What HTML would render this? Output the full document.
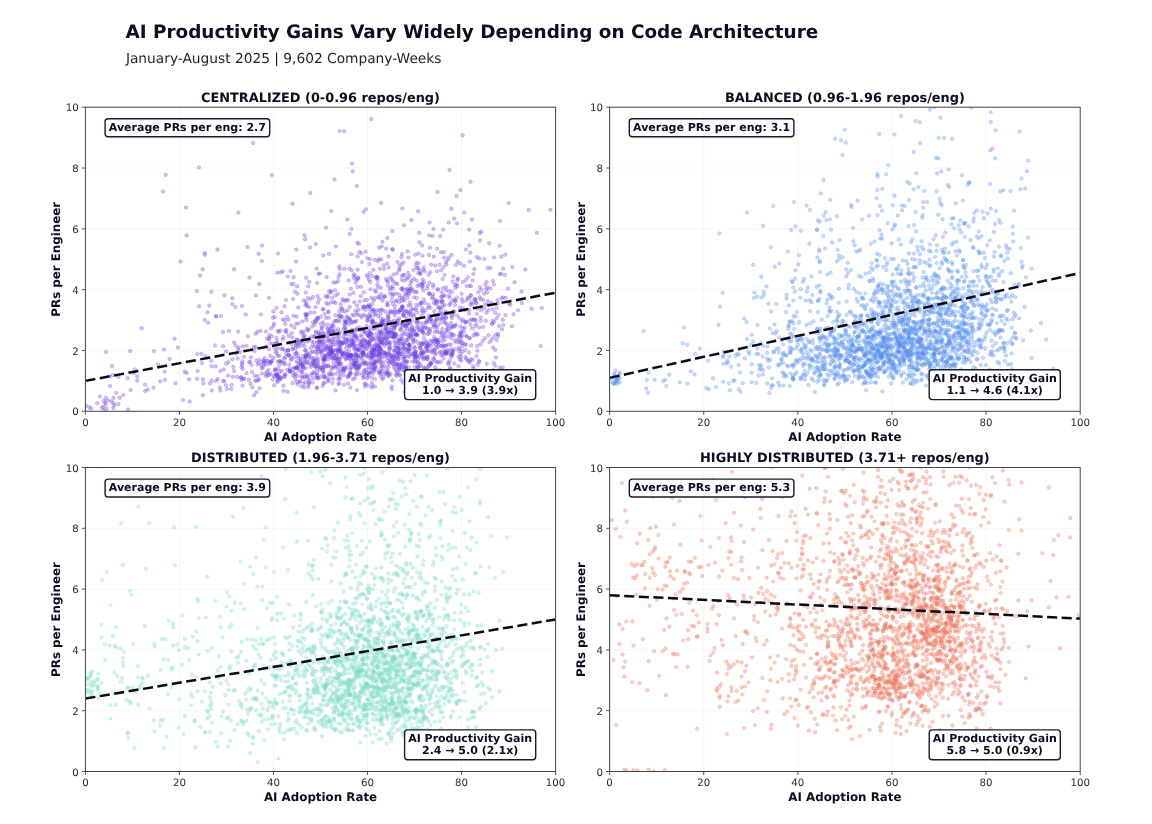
<!DOCTYPE html>
<html lang="en"><head><meta charset="utf-8"><title>AI Productivity Gains Vary Widely Depending on Code Architecture</title>
<style>html,body{margin:0;padding:0;background:#fff}body{width:1152px;height:824px;overflow:hidden}svg{display:block;will-change:transform}text{font-family:"DejaVu Sans","Liberation Sans",sans-serif}.b{font-weight:bold}svg text{text-rendering:geometricPrecision}</style></head><body>
<svg width="1152" height="824" viewBox="0 0 1152 824">
<rect width="1152" height="824" fill="#fff"/>
<defs>
<marker id="m0" markerUnits="userSpaceOnUse" markerWidth="8" markerHeight="8" refX="4" refY="4" overflow="visible"><circle cx="4" cy="4" r="1.75" fill="#6e3ee0" fill-opacity=".3" stroke="#6e3ee0" stroke-opacity=".3" stroke-width=".85"/></marker>
<clipPath id="c0"><rect x="85.40" y="107.20" width="470.20" height="304.10"/></clipPath>
<marker id="m1" markerUnits="userSpaceOnUse" markerWidth="8" markerHeight="8" refX="4" refY="4" overflow="visible"><circle cx="4" cy="4" r="1.75" fill="#528fec" fill-opacity=".3" stroke="#528fec" stroke-opacity=".3" stroke-width=".85"/></marker>
<clipPath id="c1"><rect x="609.60" y="107.20" width="470.60" height="304.10"/></clipPath>
<marker id="m2" markerUnits="userSpaceOnUse" markerWidth="8" markerHeight="8" refX="4" refY="4" overflow="visible"><circle cx="4" cy="4" r="1.75" fill="#78dcc6" fill-opacity=".3" stroke="#78dcc6" stroke-opacity=".3" stroke-width=".85"/></marker>
<clipPath id="c2"><rect x="85.40" y="467.50" width="470.20" height="304.00"/></clipPath>
<marker id="m3" markerUnits="userSpaceOnUse" markerWidth="8" markerHeight="8" refX="4" refY="4" overflow="visible"><circle cx="4" cy="4" r="1.75" fill="#ea7155" fill-opacity=".3" stroke="#ea7155" stroke-opacity=".3" stroke-width=".85"/></marker>
<clipPath id="c3"><rect x="609.60" y="467.50" width="470.60" height="304.00"/></clipPath>
</defs>
<text class="b" x="125.5" y="37.9" font-size="18.40" fill="#0c0c22">AI Productivity Gains Vary Widely Depending on Code Architecture</text>
<text x="125.9" y="62.65" font-size="13.75" fill="#1d1d30">January-August 2025 | 9,602 Company-Weeks</text>
<g>
<path d="M179.44 107.20V411.30M273.48 107.20V411.30M367.52 107.20V411.30M461.56 107.20V411.30M85.40 350.48H555.60M85.40 289.66H555.60M85.40 228.84H555.60M85.40 168.02H555.60" stroke="#b0b0b0" stroke-opacity=".13" stroke-width=".9" fill="none"/>
<g clip-path="url(#c0)"><polyline points="443.6,347.5 491.5,339.7 375.9,344.3 387.8,316.4 350.0,355.2 356.1,360.7 360.7,296.0 287.7,276.6 361.3,341.6 338.5,364.3 550.4,209.8 255.5,333.8 418.9,356.5 393.6,332.8 362.4,352.8 388.3,364.0 379.3,338.6 403.2,315.1 390.2,327.7 493.2,370.1 470.8,295.6 339.5,321.5 113.5,397.8 410.9,336.2 394.8,315.4 417.3,312.6 291.8,344.0 405.0,326.0 463.9,265.7 356.2,354.3 186.0,207.6 396.9,371.6 476.6,334.7 386.5,353.2 430.0,332.3 378.4,336.4 505.4,315.0 224.1,381.5 312.1,373.5 85.9,405.9 338.1,281.1 324.1,376.9 372.0,335.2 356.1,279.5 411.8,320.4 436.9,339.8 394.2,367.9 328.6,365.7 273.0,317.8 369.2,343.9 288.3,350.0 344.0,370.9 392.4,231.0 457.1,286.3 359.6,365.8 404.7,367.3 332.5,332.3 475.9,320.1 422.9,283.6 335.5,295.5 370.2,282.1 437.1,362.1 324.0,359.5 267.0,338.7 302.2,377.8 437.3,376.5 321.0,331.7 425.4,357.6 278.1,369.0 442.3,329.0 290.8,371.8 414.8,360.8 106.0,352.0 342.0,353.9 469.5,310.1 373.8,328.1 339.3,383.1 402.2,338.2 414.2,351.4 314.4,346.6 263.7,362.7 296.2,345.5 316.1,333.0 420.8,381.8 165.6,174.9 316.9,349.8 394.1,350.4 202.9,379.3 431.0,363.5 380.4,340.4 426.9,346.1 409.0,367.7 304.8,376.6 432.5,349.4 307.3,341.6 441.1,270.3 351.4,343.8 319.9,343.0 384.5,337.5 420.1,364.1 365.5,349.2 433.8,325.0 303.6,331.8 336.0,365.9 320.1,341.8 377.8,346.1 421.3,303.1 446.1,345.8 445.9,318.1 328.6,380.2 412.7,289.3 316.9,357.9 403.2,344.4 455.3,287.6 473.2,366.4 231.7,384.9 417.6,362.3 427.1,351.1 379.8,332.1 428.7,293.5 295.9,344.9 379.6,347.2 377.8,280.2 165.0,379.8 410.6,305.2 377.3,310.6 392.7,249.7 404.9,334.5 355.4,329.8 202.6,269.3 329.2,291.3 277.3,272.7 216.1,316.3 397.9,364.1 364.8,383.8 370.0,306.3 416.4,262.8 368.8,331.2 430.3,328.8 426.6,321.5 415.5,334.9 364.2,300.2 341.0,344.8 423.9,357.7 283.6,390.8 433.2,341.1 366.8,363.2 304.5,235.2 246.5,345.8 460.4,353.8 427.4,343.7 355.4,364.7 331.3,211.1 373.7,300.4 473.5,273.9 421.1,352.6 497.9,303.6 391.9,322.0 336.0,344.8 362.1,354.5 410.6,348.6 441.7,345.8 379.4,359.8 465.3,376.7 306.7,315.3 372.8,338.9 487.6,287.7 346.8,339.0 271.4,336.2 327.7,359.4 430.5,307.8 440.0,332.5 449.5,170.1 366.9,373.0 435.6,303.6 420.2,273.4 469.0,313.5 234.2,371.0 346.8,353.9 189.7,401.5 250.5,383.7 417.0,326.9 335.9,373.8 288.6,335.8 318.5,349.2 357.5,279.8 324.0,334.6 345.8,340.8 307.8,354.3 356.0,358.2 303.1,356.0 441.4,336.5 220.4,370.9 381.4,309.5 308.2,286.2 466.6,286.0 339.5,131.1 445.7,332.3 395.8,283.2 484.2,308.5 408.6,294.0 340.1,345.2 393.1,304.1 381.3,349.7 345.5,321.4 276.6,374.5 355.2,353.6 355.2,374.4 399.1,302.0 475.2,299.9 502.8,319.8 513.5,314.3 392.0,325.2 404.6,331.2 241.1,377.3 269.0,297.8 290.8,359.8 409.6,329.0 294.8,291.7 493.8,375.8 370.4,356.8 333.9,301.9 385.6,353.5 393.3,354.9 403.5,262.6 415.3,254.7 402.0,323.4 371.3,356.3 331.4,344.7 501.6,298.6 306.3,355.3 434.2,358.4 324.8,356.2 494.0,284.4 394.5,334.0 448.4,344.4 232.5,304.1 364.7,345.8 351.5,270.2 325.1,355.7 372.1,303.9 437.6,289.2 339.6,350.5 332.9,358.5 297.0,382.2 354.4,321.6 378.0,316.0 225.9,385.3 242.1,364.9 493.1,347.4 397.7,348.1 339.1,346.0 398.7,359.4 407.1,377.4 385.3,311.5 366.6,326.0 358.4,355.8 298.1,358.1 327.3,297.4 368.2,344.6 397.6,347.8 384.8,345.8 340.2,378.7 479.7,297.3 123.3,394.9 197.6,371.1 338.7,339.8 332.3,374.3 336.6,342.6 334.5,333.5 306.5,320.2 304.2,340.1 349.7,234.1 471.3,302.6 410.1,376.0 465.5,321.7 327.6,347.9 330.9,350.0 291.2,284.1 264.7,358.1 340.1,349.1 232.7,376.8 411.0,333.8 420.3,348.1 395.9,347.6 432.0,298.2 353.7,347.9 436.3,353.2 233.3,367.0 403.7,352.6 163.9,349.5 357.6,256.6 302.5,366.7 454.8,349.2 483.4,300.0 366.3,369.8 208.1,322.8 353.7,277.8 492.7,309.3 271.9,175.1 328.5,352.3 447.1,313.5 457.7,261.6 428.8,315.4 337.6,349.6 341.1,363.4 480.9,321.1 305.1,361.3 373.4,363.8 492.0,323.8 232.6,359.2 393.2,281.4 333.1,323.7 107.9,400.3 477.8,334.2 421.6,328.0 430.0,346.1 402.0,366.8 455.8,264.9 357.6,269.7 317.1,375.7 473.5,368.4 296.1,323.8 470.7,295.4 423.1,343.8 394.6,327.1 397.2,283.9 255.7,347.2 380.1,353.7 365.4,383.9 288.9,355.2 371.0,361.5 404.5,344.4 318.2,346.4 418.1,211.3 408.8,349.0 398.8,340.1 371.4,352.5 399.4,364.7 443.9,252.1 277.1,341.0 370.0,313.4 401.6,327.4 242.9,368.9 420.7,366.1 289.9,370.5 350.3,320.1 423.5,290.6 310.7,352.8 363.7,306.7 330.9,370.8 361.6,317.4 345.4,333.7 469.3,338.1 502.9,297.5 410.1,285.8 446.6,329.4 346.8,355.1 426.6,321.5 306.8,361.8 215.7,366.4 425.8,346.1 453.0,314.2 363.6,306.8 474.3,269.1 284.5,362.4 269.1,349.2 537.0,232.7 481.0,310.5 409.3,331.8 310.3,312.6 211.8,380.6 476.5,302.9 308.8,329.6 400.0,341.2 290.9,356.9 215.0,345.5 393.2,355.9 296.6,316.6 369.3,343.8 329.6,330.1 446.9,353.5 479.8,287.3 470.5,324.8 330.8,328.3 412.0,327.8 392.1,333.1 354.8,275.7 491.5,302.8 267.9,375.0 365.1,362.5 423.3,310.9 376.6,360.5 354.0,364.1 339.2,341.8 398.1,352.4 320.7,346.7 277.2,376.0 241.9,306.0 410.0,335.7 405.7,368.2 381.4,259.4 398.7,347.8 370.4,341.2 431.2,381.6 422.0,287.2 101.9,407.8 381.9,332.5 418.2,362.4 378.2,297.6 416.0,265.7 284.9,364.5 348.1,339.6 337.1,334.3 387.1,357.9 370.4,316.3 394.5,357.0 395.4,370.0 384.4,324.5 377.9,287.2 373.4,350.2 344.1,131.3 365.6,340.2 426.0,368.8 310.0,247.5 392.2,293.7 197.0,378.8 354.3,346.0 422.0,353.8 312.5,382.6 359.3,344.4 414.7,354.5 184.6,371.7 352.7,171.4 302.6,372.3 174.6,338.7 385.2,296.4 397.2,344.3 415.4,334.6 365.5,342.4 391.7,389.1 371.8,387.5 400.8,329.1 469.8,320.8 364.5,343.7 306.3,304.0 324.7,360.3 396.1,300.8 349.4,268.4 365.9,209.3 284.6,306.2 331.2,354.1 328.0,295.6 383.3,339.4 363.2,355.4 186.7,235.6 324.5,336.3 387.8,282.1 226.1,351.4 277.9,253.5 308.0,298.0 462.1,321.3 477.6,364.8 334.5,179.4 459.3,341.0 362.6,328.9 381.8,355.2 399.5,298.1 321.6,355.9 422.7,343.5 323.5,359.1 371.7,357.9 342.3,352.1 427.8,356.5 444.7,354.0 277.8,361.5 305.2,357.3 396.1,301.3 416.6,334.6 358.3,366.1 325.5,355.0 437.9,325.6 359.4,373.4 373.8,310.0 442.4,314.0 344.4,324.3 348.7,280.5 134.9,369.4 259.6,388.2 360.9,344.8 413.2,374.8 298.4,365.8 421.7,349.9 407.8,277.7 402.0,306.9 377.0,361.3 311.7,341.6 389.1,344.2 404.5,275.1 465.6,322.7 413.3,338.7 460.2,333.5 128.1,409.4 456.7,195.9 307.3,306.0 413.1,353.9 301.1,331.4 317.1,375.2 274.0,323.8 373.4,358.4 360.7,335.0 316.0,361.1 388.8,267.4 412.8,291.7 343.1,355.5 461.7,293.7 379.6,342.3 326.2,349.9 421.8,331.8 394.7,359.3 454.1,335.2 442.7,278.9 399.3,318.2 273.5,358.0 427.8,285.8 331.8,325.8 294.6,356.8 298.5,323.4 398.0,372.9 454.3,326.8 311.4,357.5 469.8,338.2 382.3,374.0 313.3,358.3 384.2,268.9 487.1,292.2 446.3,290.5 377.5,356.3 454.0,311.3 427.2,288.6 308.3,355.5 324.6,377.8 371.4,353.5 371.9,377.8 270.6,362.2 274.9,348.8 485.8,320.8 301.5,364.5 412.3,331.0 328.9,373.5 407.6,251.6 465.1,349.9 540.6,345.9 285.1,357.8 313.8,360.6 381.3,366.0 346.0,348.0 428.3,333.1 180.5,261.5 391.1,362.3 309.1,307.3 221.0,315.9 402.9,382.5 394.1,365.6 314.3,312.6 430.4,272.2 342.6,299.0 366.4,355.4 382.2,339.5 521.5,291.5 421.3,315.7 328.6,333.2 422.7,286.2 145.0,384.7 380.6,331.5 403.8,310.8 390.1,347.0 370.1,339.2 508.9,303.4 427.9,347.5 292.1,359.1 451.6,326.8 435.3,321.0 296.4,361.6 295.4,379.6 361.9,262.0 318.2,378.2 351.5,339.8 357.0,390.2 495.2,349.7 417.7,321.8 496.6,340.0 428.3,345.1 413.5,341.0 397.5,262.0 389.2,362.3 353.6,360.5 441.8,296.6 507.9,288.6 337.2,363.1 412.2,382.4 422.5,255.8 310.7,348.2 355.2,350.0 332.1,352.7 278.3,376.6 505.4,297.8 331.2,374.5 275.8,343.3 317.8,352.1 307.0,328.7 270.2,343.3 339.6,274.2 371.9,352.0 415.1,309.7 293.0,299.1 395.3,325.2 409.2,345.1 186.6,373.0 349.6,318.3 278.8,331.9 470.9,285.9 475.3,326.3 352.6,357.9 393.0,288.8 444.7,314.9 386.4,339.5 332.4,342.2 451.6,255.0 318.6,332.5 382.7,329.2 472.5,359.8 325.3,376.6 309.1,281.7 373.2,339.8 476.8,308.4 344.1,334.2 388.0,285.7 439.6,312.9 137.3,376.3 235.7,345.4 444.0,295.4 390.0,355.5 384.5,333.5 313.5,378.2 276.1,374.3 335.9,246.6 430.7,318.9 322.7,370.1 499.8,274.2 381.7,246.4 377.4,329.1 446.7,375.9 344.1,369.4 408.1,272.8 317.3,317.6 400.1,339.3 408.5,351.7 399.0,368.2 332.0,352.4 387.2,263.6 376.2,367.3 379.2,339.1 303.7,300.5 316.7,387.5 419.7,270.6 457.1,315.6 427.8,372.0 364.2,363.8 340.5,341.7 345.2,311.5 266.9,372.0 334.3,358.2 317.8,318.9 314.3,324.7 503.3,325.0 118.6,377.0 417.1,366.4 363.3,378.1 344.8,320.3 380.9,323.7 479.1,258.5 356.8,186.0 367.6,319.9 484.2,293.6 342.1,343.2 336.0,282.4 362.5,353.0 394.5,341.3 466.7,336.2 322.1,351.6 349.2,319.9 368.0,385.6 390.7,330.0 414.0,316.3 405.8,362.7 332.7,341.6 147.7,389.4 424.0,352.6 387.9,305.3 403.2,343.6 375.9,291.9 386.2,248.4 337.9,293.7 380.9,287.7 374.3,315.0 384.2,343.9 275.7,369.6 281.5,348.9 369.8,306.2 433.6,302.7 175.5,383.2 398.0,350.6 338.8,315.9 369.4,264.1 370.2,368.2 321.4,352.6 446.9,350.4 365.0,332.3 376.9,351.6 202.0,363.0 297.1,286.3 416.6,323.1 451.3,208.7 106.7,408.7 415.2,359.0 399.2,370.1 409.6,378.5 403.8,359.9 405.5,349.5 377.3,347.4 317.0,342.7 286.0,300.1 407.0,289.0 364.8,386.7 350.9,354.5 274.2,385.2 341.9,353.5 373.9,350.3 368.5,376.4 334.8,339.5 419.2,232.8 427.1,358.8 303.2,337.9 382.4,324.7 111.9,366.0 457.4,279.9 372.5,365.2 292.1,337.5 399.7,354.1 317.2,388.0 372.4,385.6 426.1,323.1 298.4,339.9 351.8,355.5 267.8,361.2 387.4,238.0 436.9,271.3 475.8,302.7 343.5,329.3 404.9,356.9 242.4,361.2 418.7,263.3 403.1,290.6 374.4,364.3 441.8,302.2 416.7,280.7 409.7,344.4 380.7,341.8 304.1,335.2 407.2,323.8 444.6,274.9 479.4,327.4 347.0,345.0 381.2,362.4 348.9,356.2 387.6,372.7 373.7,328.9 307.1,363.4 364.6,361.2 329.2,340.3 400.1,354.2 451.0,322.9 338.6,276.9 409.7,346.1 418.4,268.0 423.3,312.9 354.0,341.2 291.8,333.1 388.4,318.5 440.0,236.2 309.4,338.4 407.6,324.1 427.3,328.7 451.9,315.9 346.5,367.1 397.9,359.1 296.5,342.5 390.7,374.2 353.3,343.7 375.9,355.5 287.3,369.7 400.2,330.1 326.1,227.6 445.5,345.4 394.1,328.6 385.8,329.9 390.6,359.6 466.2,358.8 447.8,259.9 293.2,369.0 335.2,358.4 280.8,377.7 384.5,339.8 312.8,345.3 274.9,370.7 349.0,357.7 433.2,344.3 356.6,356.5 422.9,326.7 434.2,336.9 242.8,346.3 354.6,336.1 295.7,348.4 352.5,314.8 314.2,366.0 220.5,390.6 272.0,361.2 254.7,375.7 309.1,382.9 477.0,256.9 282.7,362.9 420.4,273.8 361.4,347.1 127.7,378.1 486.2,288.9 384.5,353.0 394.3,312.9 439.6,379.8 402.0,307.2 501.0,273.6 504.9,275.0 449.1,295.4 405.0,361.7 105.9,397.7 335.4,302.9 382.6,370.4 346.8,321.8 372.4,321.2 279.3,365.2 423.1,323.4 354.9,378.3 339.7,360.9 326.0,318.1 231.3,389.0 461.0,356.8 388.8,337.2 368.0,277.1 318.2,341.5 371.2,333.0 380.8,318.3 409.7,302.4 415.4,340.3 388.7,322.1 320.7,335.1 387.3,320.9 406.9,328.5 435.0,366.9 443.2,345.4 153.9,351.1 458.5,356.7 314.5,336.5 297.2,375.9 402.5,325.1 383.6,361.9 464.8,327.8 401.8,276.1 316.8,347.3 307.9,340.0 457.6,387.6 330.2,332.2 248.9,379.7 305.4,305.3 348.0,383.5 404.8,324.8 348.8,374.8 390.3,343.3 373.4,269.8 404.0,347.4 411.3,220.0 330.8,356.4 265.8,331.6 376.6,362.5 417.3,335.3 409.0,372.3 305.1,350.4 328.7,353.4 97.2,403.3 305.4,313.9 429.5,344.2 110.1,376.5 433.1,286.7 399.3,294.8 403.6,348.3 394.9,309.8 368.3,342.7 323.3,371.4 361.9,342.1 363.6,339.5 469.8,261.4 268.3,369.9 376.1,277.3 269.3,363.9 398.0,312.3 329.0,254.0 103.7,400.7 361.5,358.9 414.3,330.4 435.2,265.4 333.0,344.9 351.4,229.0 494.0,257.4 325.3,358.6 407.4,334.3 105.6,404.4 454.9,284.8 541.8,308.0 399.9,356.4 472.1,328.6 351.1,360.0 279.4,356.1 351.0,336.5 387.6,332.1 461.1,332.7 429.5,222.5 371.3,297.9 447.7,328.6 412.4,361.4 436.2,369.4 469.6,285.9 362.6,308.4 383.8,265.4 387.9,314.7 422.1,357.4 428.8,365.5 422.1,245.6 415.9,352.7 264.7,362.1 355.3,362.5 403.3,299.0 465.3,373.6 356.7,371.6 394.6,326.6 379.8,359.8 305.8,292.6 417.4,334.7 406.6,311.7 339.8,351.1 453.5,311.9 369.6,332.9 379.6,351.8 184.3,123.6 424.0,338.0 346.9,299.4 420.8,303.4 351.2,355.4 351.9,340.8 323.1,255.5 441.1,351.6 421.2,302.5 356.7,337.1 370.4,289.3 374.9,368.7 390.2,277.7 256.1,381.0 400.1,366.6 400.2,350.0 370.7,372.5 288.1,355.2 475.7,299.6 528.6,209.9 301.4,386.4 498.2,334.1 328.3,332.2 401.2,288.9 391.3,312.2 315.7,307.1 443.7,376.2 321.6,327.9 453.3,276.4 259.0,359.8 438.0,342.4 401.3,369.6 369.7,331.1 440.8,361.7 319.2,334.9 301.7,333.3 130.3,351.0 487.8,301.0 406.6,279.0 370.0,327.8 372.7,322.3 413.1,354.7 462.6,301.7 451.7,335.5 318.5,273.9 433.8,256.6 357.6,362.9 311.4,365.0 406.5,310.8 393.7,333.5 257.5,364.2 490.4,288.6 423.3,353.3 285.4,374.6 269.0,338.0 104.3,410.5 320.7,316.8 397.4,364.5 450.9,348.7 408.7,290.3 496.6,318.2 318.0,378.1 415.2,362.3 469.1,298.4 381.2,368.9 207.6,312.3 394.4,350.5 412.6,327.0 328.8,317.7 389.5,348.3 432.8,296.7 379.1,310.3 440.9,252.3 353.5,292.8 281.7,370.8 371.9,382.4 197.2,354.1 313.0,362.5 263.7,360.2 438.0,347.4 177.9,347.5 366.8,356.7 437.0,301.5 297.6,384.3 324.8,314.1 379.5,354.1 223.9,369.4 333.3,362.4 308.3,387.1 358.3,367.2 359.7,301.6 417.8,366.9 380.4,313.8 331.0,302.4 416.6,292.2 478.9,360.8 372.4,309.3 269.1,339.2 471.2,345.3 465.3,309.9 369.6,333.8 288.2,350.6 377.8,261.0 321.7,342.6 277.5,381.9 315.5,322.2 346.1,358.1 402.2,323.4 333.6,337.2 261.8,367.9 357.5,287.1 429.5,294.0 374.6,349.9 340.1,374.6 417.9,358.8 348.0,300.6 280.2,377.2 310.6,367.1 441.1,354.9 387.8,333.2 508.6,203.1 375.5,366.2 260.9,314.5 306.1,277.8 343.7,375.3 434.6,351.1 362.5,350.9 333.4,282.5 349.0,350.4 346.5,357.9 350.1,346.2 480.7,317.6 199.2,306.3 483.2,326.9 437.1,248.8 452.1,383.2 327.6,328.8 408.0,312.7 119.6,397.7 338.3,370.7 114.8,405.0 244.3,378.7 445.9,287.2 338.1,341.9 409.2,355.1 391.4,332.0 368.9,352.7 410.8,282.7 445.0,322.7 446.3,264.5 354.0,364.9 364.4,373.5 326.8,356.2 428.6,274.8 328.2,366.0 406.9,289.5 356.5,320.7 423.1,332.4 249.9,361.8 493.7,337.2 423.9,341.9 392.2,362.7 456.6,284.6 452.7,281.5 389.1,353.4 409.6,291.0 247.6,246.9 305.7,350.1 382.8,343.1 305.8,314.8 453.0,312.0 428.1,307.6 345.5,342.4 327.7,328.6 364.0,340.2 289.9,368.4 401.4,264.2 408.4,374.3 289.5,371.5 338.2,329.2 419.8,345.6 359.1,330.0 455.1,325.8 261.2,365.1 460.2,349.1 455.0,305.1 254.5,351.1 333.3,350.9 342.1,343.0 370.4,317.0 298.3,356.0 398.4,324.0 277.6,331.0 350.9,288.6 278.4,378.6 314.3,336.6 470.0,362.6 372.7,338.1 315.3,363.3 299.8,381.6 296.6,352.9 286.4,332.2 381.1,202.9 371.7,334.1 345.3,328.0 277.1,380.9 417.1,369.7 411.8,338.9 416.8,298.1 330.1,347.4 449.4,304.9 342.2,356.9 435.3,361.3 444.0,257.5 372.9,356.6 290.5,270.9 409.2,345.1 99.9,396.4 331.3,367.4 296.6,339.5 371.5,323.9 438.2,307.4 487.5,268.1 329.2,357.1 424.6,327.3 375.1,378.9 323.8,344.3 300.7,345.8 295.3,353.5 439.7,370.1 446.4,353.5 348.2,355.6 266.7,346.5 361.5,357.8 431.3,352.1 210.0,383.4 353.9,337.7 282.7,319.4 380.0,268.7 326.1,345.9 393.8,337.4 341.0,316.3 297.3,293.7 374.1,348.4 300.0,381.4 414.4,379.5 305.9,301.6 395.0,336.2 424.1,282.1 428.7,304.9 368.0,335.2 422.7,279.6 341.0,308.3 499.6,367.8 320.8,323.8 384.1,296.2 379.1,247.8 361.9,330.0 375.0,386.6 347.6,317.7 427.7,368.0 395.5,333.8 89.4,407.1 358.1,277.9 416.4,321.7 390.5,311.0 320.1,367.4 284.2,376.3 305.8,317.4 438.3,314.9 389.9,332.8 443.5,267.2 445.3,353.8 393.7,336.2 446.0,262.0 365.7,315.9 411.2,309.4 392.7,364.0 357.3,243.0 391.8,279.2 406.6,361.0 298.8,343.6 319.3,341.9 342.1,353.8 339.5,315.3 300.3,362.9 339.4,311.4 429.6,318.7 323.6,383.5 394.7,346.1 324.6,348.8 409.5,322.5 391.4,336.6 422.6,330.5 392.2,357.1 399.7,268.7 488.2,304.3 358.3,277.7 448.2,362.5 416.3,305.0 297.1,340.7 427.7,334.2 422.9,351.9 223.0,346.2 315.4,359.7 285.0,374.4 410.0,312.0 312.6,352.0 325.7,296.3 386.1,328.2 413.4,270.0 450.9,344.5 442.4,341.1 351.7,355.4 448.4,377.4 434.9,314.8 441.4,345.9 277.4,375.6 355.6,336.4 223.3,380.8 436.5,319.3 480.7,299.4 292.7,349.4 390.1,293.5 444.3,321.8 329.6,348.9 293.3,284.0 445.5,311.5 359.3,365.3 226.1,363.8 355.9,355.3 160.3,381.3 394.5,360.4 339.4,266.3 336.9,361.4 316.7,366.4 351.9,344.5 348.2,376.7 382.5,300.7 319.2,334.4 365.7,333.5 449.3,297.5 396.3,325.0 328.1,304.3 409.0,314.2 353.2,363.3 445.7,312.9 321.2,376.7 389.6,349.9 486.6,281.7 323.5,332.7 393.5,274.6 374.1,370.0 399.7,309.9 276.0,351.8 318.6,348.9 389.7,312.8 446.0,317.4 217.4,249.5 322.6,341.6 381.2,333.2 373.0,311.1 390.5,354.8 344.0,352.8 415.5,355.1 422.1,284.8 392.4,336.8 353.8,274.3 303.6,368.2 432.0,341.7 381.1,321.8 452.7,351.0 429.8,293.6 411.8,280.6 251.7,365.2 406.3,369.2 393.6,360.2 410.4,323.8 337.1,349.4 344.5,326.7 342.3,310.8 396.6,355.5 349.7,331.6 417.0,268.2 418.3,273.3 448.8,257.6 321.0,339.7 211.8,390.4 354.1,334.0 324.7,367.3 445.3,352.1 307.6,378.3 436.8,318.4 490.5,268.0 277.2,374.3 355.6,282.8 451.1,338.2 404.4,316.0 367.7,372.4 370.1,309.4 343.5,342.9 499.7,245.7 367.7,341.9 404.0,348.2 289.4,342.5 276.5,353.1 279.6,379.7 204.9,254.8 449.7,361.0 499.1,326.0 252.1,371.9 478.3,292.2 387.3,302.8 335.4,330.4 484.9,304.7 361.1,344.2 300.5,359.3 217.7,379.0 469.2,229.4 384.3,320.1 442.6,304.5 118.5,403.9 372.0,276.0 300.7,362.4 459.6,336.5 258.5,380.1 349.5,375.7 423.8,333.9 459.4,342.4 443.1,229.7 378.8,350.7 354.6,348.0 399.0,374.8 163.0,191.4 382.2,321.0 332.0,358.4 401.3,379.8 414.2,330.6 414.9,347.9 342.3,369.2 418.4,327.0 414.2,347.0 343.3,342.6 322.6,386.1 357.3,350.2 409.1,335.8 461.0,331.7 436.5,340.2 440.6,322.8 387.3,280.7 374.8,370.9 503.1,268.7 351.3,254.2 437.0,329.1 469.1,352.4 355.0,364.5 363.8,292.3 359.8,327.6 375.7,314.2 347.7,342.9 397.4,366.5 365.2,307.0 486.6,312.8 345.4,368.5 328.4,312.2 355.2,367.7 296.3,249.5 376.4,333.9 311.0,375.3 390.1,356.9 325.2,364.6 403.8,356.8 380.3,362.8 306.8,352.6 407.7,297.8 316.1,331.4 425.9,327.6 305.1,239.2 294.7,376.2 274.8,316.9 309.6,379.8 471.6,319.3 444.7,335.7 320.7,352.0 444.2,380.4 451.1,354.7 383.4,336.5 327.8,381.4 363.2,353.4 305.6,356.5 340.5,371.8 328.7,353.9 467.9,277.1 234.1,342.4 296.3,368.0 293.4,372.7 451.5,354.7 319.5,339.7 249.4,362.5 439.7,264.8 202.9,395.2 433.6,325.2 326.5,366.2 300.9,341.6 265.9,364.5 419.1,285.0 345.3,301.1 350.5,356.5 303.5,366.9 417.5,286.1 401.6,300.9 330.5,350.6 399.5,265.8 404.8,392.0 357.4,338.0 521.8,303.1 308.4,384.7 416.0,333.9 444.8,339.9 348.9,354.1 348.6,340.9 281.5,361.5 371.6,350.5 382.4,310.3 498.5,314.9 456.8,297.4 337.5,336.9 318.2,366.3 276.5,308.1 437.5,191.9 339.7,364.0 256.3,392.3 333.0,367.9 288.4,355.0 261.8,261.1 321.8,327.9 476.6,323.9 426.0,348.2 350.3,373.6 414.8,366.9 396.4,337.4 269.3,335.2 367.1,378.3 410.7,316.3 474.3,319.8 438.6,339.6 334.2,355.2 322.2,345.4 467.5,297.7 363.6,212.0 405.8,326.6 439.2,307.8 380.9,335.3 414.4,357.5 292.7,348.2 379.3,333.0 258.7,253.8 405.9,367.5 367.6,306.4 485.2,284.6 393.8,329.1 292.5,383.2 373.7,353.5 429.5,330.3 337.5,358.9 343.5,371.6 399.7,368.2 395.8,334.7 398.0,352.1 303.8,377.1 347.3,219.6 423.0,269.9 377.5,350.1 369.0,335.8 385.5,356.3 406.2,294.1 350.1,369.8 432.5,236.0 365.4,310.1 389.7,289.5 442.5,307.6 145.2,391.1 378.2,356.3 313.0,297.1 462.6,351.7 455.7,301.0 431.1,319.2 296.6,367.5 424.7,271.5 439.3,319.0 200.1,275.6 437.9,375.3 198.9,167.4 407.6,361.8 377.4,284.2 393.8,294.5 349.8,306.8 324.3,325.4 361.3,253.2 384.3,353.4 254.1,347.1 242.1,363.3 386.5,355.0 331.6,327.0 462.3,346.1 396.4,376.1 273.3,343.8 443.5,337.5 357.6,315.0 392.8,324.6 473.4,319.9 407.4,324.7 434.2,311.1 211.2,360.7 336.8,354.7 463.9,331.8 449.1,291.1 296.5,353.0 403.7,313.8 457.0,223.5 359.0,349.7 272.7,379.6 442.5,318.0 496.0,334.3 450.6,333.5 287.0,317.1 461.8,298.9 408.4,337.8 492.9,280.9 332.4,351.7 388.7,317.3 384.1,352.0 294.2,367.6 397.9,353.4 409.0,293.5 408.9,350.7 379.3,372.7 328.4,311.2 329.3,341.7 354.0,344.5 448.7,364.3 462.9,282.0 164.7,371.7 371.2,321.2 392.5,286.2 307.1,314.2 418.5,366.9 409.5,275.7 356.8,374.6 361.9,364.0 361.0,286.7 421.5,354.9 488.5,335.3 500.0,221.0 426.4,341.3 216.0,316.2 326.6,277.1 111.6,401.3 323.7,359.4 403.3,358.7 323.9,358.1 337.5,351.5 323.3,336.7 323.7,374.1 512.0,326.2 340.0,358.9 284.8,320.2 488.3,310.3 372.8,321.5 376.2,340.6 387.4,323.8 387.8,341.8 374.3,361.4 260.6,331.0 344.8,339.1 429.1,365.7 432.8,351.8 271.1,328.4 373.4,367.6 335.6,359.0 257.3,331.8 312.0,326.4 420.4,372.2 442.3,354.9 228.4,361.9 407.6,339.4 419.8,322.9 243.4,379.0 338.1,367.6 338.3,351.4 389.2,373.5 452.6,350.8 411.7,330.0 346.8,316.6 459.2,335.5 368.6,374.8 368.5,367.0 360.4,340.7 297.8,368.3 410.8,313.3 270.4,355.9 335.6,390.4 300.9,359.5 406.0,356.4 113.1,374.9 440.7,310.7 301.2,376.0 379.0,370.8 291.2,325.4 430.5,362.9 356.0,367.2 399.9,348.0 505.1,254.7 381.4,343.5 238.1,349.3 343.8,384.7 277.6,377.8 306.6,374.9 371.2,364.4 283.4,336.9 367.4,306.6 363.4,314.8 332.7,351.4 357.0,305.6 371.2,119.0 466.3,300.6 450.4,367.9 141.7,328.3 369.8,273.1 262.7,368.0 255.4,380.5 399.4,312.1 275.2,376.5 326.2,303.0 448.1,326.1 436.4,373.7 421.2,283.6 531.6,308.8 329.4,349.4 402.4,333.8 323.4,309.3 396.1,311.8 338.7,357.5 349.9,294.6 379.7,325.9 380.3,337.0 429.2,235.4 494.2,321.9 302.7,364.1 327.0,335.9 452.5,353.1 434.7,339.3 396.0,374.6 412.2,374.9 413.7,314.4 443.3,333.7 352.9,379.0 280.4,330.5 338.2,379.2 397.6,353.6 354.3,361.2 388.8,376.3 381.1,294.2 496.5,307.9 460.4,189.9 382.9,322.0 423.5,359.6 277.2,343.4 318.0,302.7 451.8,292.0 441.9,300.7 277.8,348.2 296.9,367.2 378.8,296.6 373.8,355.0 277.5,355.6 369.9,358.3 363.6,371.6 284.1,358.3 270.1,373.4 455.9,324.5 401.8,279.7 442.7,301.0 404.3,369.9 399.0,270.3 404.5,371.3 418.5,253.5 380.0,347.6 349.7,355.4 435.5,322.0 204.7,253.0 428.3,318.8 396.4,293.4 430.9,363.9 413.5,342.5 342.0,366.7 358.2,356.4 280.0,361.2 327.8,337.4 414.0,278.8 409.3,356.9 423.9,267.4 388.4,256.4 312.2,336.6 420.8,376.5 359.0,243.7 462.7,308.2 419.1,330.5 236.3,353.6 437.9,342.5 473.5,335.5 222.9,332.0 525.3,269.4 316.2,321.0 363.1,345.6 419.7,347.8 355.0,322.1 358.5,349.4 273.4,375.7 315.5,366.6 244.1,356.8 438.3,345.6 110.0,385.9 279.7,372.2 497.6,300.3 316.6,268.7 284.4,377.2 408.3,305.8 343.0,369.0 436.1,341.2 377.9,325.4 386.4,326.9 358.4,309.8 461.4,360.5 388.6,353.3 323.0,369.7 412.8,308.9 392.9,357.5 386.5,342.9 403.3,310.4 502.6,367.4 398.4,340.6 358.5,356.4 347.5,334.5 294.3,327.7 302.3,321.5 417.2,355.7 340.4,349.9 440.1,307.8 293.6,315.8 358.5,349.7 189.0,379.3 476.9,313.9 354.0,315.5 314.2,363.9 470.8,359.3 360.1,352.1 407.8,343.3 381.8,322.9 406.3,340.2 413.4,373.7 367.4,320.7 377.8,277.3 363.8,346.9 373.0,319.9 314.7,373.4 335.6,315.3 196.9,291.1 398.9,343.4 448.7,222.4 442.0,314.6 444.8,305.2 462.5,135.3 259.0,362.8 378.5,346.0 375.0,290.2 371.3,345.9 366.9,300.1 329.8,353.3 395.3,342.7 389.7,321.9 384.2,365.6 462.2,335.8 319.2,299.6 381.3,324.6 415.4,356.9 443.0,288.3 470.6,181.8 301.5,369.6 345.8,359.5 312.8,361.6 330.9,351.7 381.5,351.6 495.9,357.5 351.4,323.1 467.7,360.4 259.3,284.1 317.7,364.5 404.2,341.5 211.4,291.7 429.1,386.5 402.7,307.0 363.0,355.0 394.4,336.1 367.7,354.9 408.4,257.5 373.9,349.4 495.1,365.8 390.6,360.4 444.4,351.3 388.1,375.2 435.0,300.1 419.5,242.3 357.6,369.5 331.1,292.4 318.5,359.6 365.6,251.7 232.3,298.2 182.9,400.1 421.5,345.1 280.7,378.8 350.3,364.1 352.2,340.9 283.5,385.7 313.5,372.1 385.9,374.2 388.4,336.1 304.3,346.2 315.5,319.7 354.2,302.2 454.2,218.6 374.1,323.2 340.7,343.3 317.0,283.0 267.1,361.0 436.0,325.9 395.6,363.5 391.7,300.9 203.4,383.3 484.3,259.0 434.8,331.8 389.7,333.5 287.7,391.8 332.8,330.7 293.2,375.4 303.6,384.0 413.4,382.7 404.2,280.7 433.1,294.3 465.9,344.6 343.6,337.6 395.9,364.0 431.2,264.7 430.1,321.8 447.0,324.3 238.3,212.5 400.9,344.3 433.1,284.6 422.2,330.4 367.3,258.2 317.7,295.9 296.1,368.0 238.5,347.4 489.2,243.2 240.9,377.5 303.6,343.5 339.4,336.3 363.8,353.0 480.5,307.2 433.2,358.8 448.4,350.8 415.7,291.8 458.5,347.8 406.7,352.3 394.8,306.4 350.2,372.5 402.1,288.4 370.4,340.7 475.1,333.3 514.5,282.2 279.5,361.3 429.0,254.9 407.5,348.8 396.7,334.8 386.0,368.1 451.3,328.0 105.2,402.6 403.1,365.7 452.5,326.1 370.1,259.2 430.8,340.4 477.1,346.0 354.3,365.2 380.6,372.2 465.8,280.0 305.8,368.3 363.2,352.9 455.1,300.7 237.0,377.0 454.4,363.6 394.1,320.4 323.2,366.9 380.5,376.6 323.4,360.6 368.1,342.6 421.7,310.7 234.1,269.3 320.0,273.4 400.2,375.5 451.8,301.6 403.3,315.2 382.4,357.5 339.6,363.7 392.6,380.2 357.2,349.0 486.8,363.8 402.8,288.3 403.1,274.9 333.6,326.6 466.6,321.8 286.2,330.1 257.6,376.1 323.7,338.4 369.1,279.9 427.0,347.3 224.4,295.2 404.5,296.0 253.1,143.0 404.0,225.3 289.2,364.4 301.0,365.8 430.0,247.8 305.1,382.0 439.8,352.2 362.6,362.5 280.8,272.6 350.7,373.4 402.3,208.4 342.1,316.9 281.4,312.2 245.7,314.5 510.4,304.7 382.3,366.4 352.0,329.5 385.8,328.8 392.1,296.9 318.1,362.4 216.0,381.0 380.4,354.1 456.0,342.4 468.5,370.8 275.1,369.3 321.3,349.4 459.3,318.3 423.8,299.5 374.9,298.2 383.7,297.4 406.8,318.5 345.5,323.4 273.3,311.4 428.9,350.9 458.5,366.2 369.8,336.7 364.6,369.7 344.7,367.9 273.4,325.7 435.7,341.3 459.9,307.6 353.1,330.8 450.0,313.5 434.3,327.0 158.0,364.6 322.6,336.4 376.1,354.2 383.4,377.4 305.5,354.9 385.5,373.0 376.7,278.0 465.4,357.0 339.4,377.1 501.2,256.7 355.7,362.7 387.2,343.5 379.5,373.1 411.2,354.0 414.1,297.3 454.0,299.5 298.2,346.5 410.2,289.4 367.9,336.1 263.0,361.2 389.7,342.0 479.8,233.0 415.1,352.4 333.8,365.9 252.2,387.3 305.7,357.1 331.5,339.3 393.3,337.3 256.0,360.8 493.8,362.9 375.0,361.9 332.9,378.8 421.0,343.3 258.9,379.4 368.8,305.0 339.2,333.0 282.8,339.3 373.9,363.8 480.4,344.4 367.1,346.6 307.1,376.5 386.3,337.0 327.9,340.5 262.1,245.4 303.9,363.5 443.5,358.3 373.2,368.3 438.5,362.4 113.2,403.4 372.4,349.6 437.1,332.1 398.0,357.5 334.5,321.0 358.8,368.0 409.5,321.9 416.0,351.3 427.1,343.7 387.7,371.0 282.7,271.3 205.5,356.1 309.3,356.2 382.5,241.7 416.2,308.9 383.2,319.7 518.0,310.2 332.4,383.0 314.5,351.4 401.3,257.2 421.1,353.4 366.3,364.3 373.0,373.7 395.1,352.1 426.7,350.7 265.5,373.8 241.5,379.7 401.5,339.4 421.2,371.7 367.7,318.0 317.1,372.3 296.1,261.6 376.5,323.6 385.9,278.9 461.7,343.2 276.4,337.7 310.3,193.1 204.7,320.1 468.7,361.3 337.5,358.7 425.6,372.2 363.3,352.0 323.9,350.0 298.3,307.5 372.0,354.2 304.5,336.4 335.5,350.1 325.0,342.1 349.1,346.5 452.8,353.0 441.5,332.6 360.5,315.4 492.1,323.6 362.6,375.1 378.9,259.2 344.4,268.7 377.2,347.9 347.6,376.9 480.0,240.6 374.7,351.5 352.0,163.6 436.5,344.4 438.0,289.7 481.1,231.7 238.2,331.6 431.8,321.7 461.1,336.6 401.0,351.4 434.8,354.4 464.2,212.4 364.0,376.7 424.8,303.1 433.5,229.0 368.5,316.1 417.1,319.4 374.4,311.7 388.7,367.0 153.6,387.8 336.4,320.4 313.1,322.2 357.0,313.1 429.5,282.6 361.9,336.5 470.3,252.8 336.9,320.8 346.4,354.1 466.3,336.0 379.7,354.3 307.6,330.6 338.4,384.1 380.9,349.2 246.5,373.2 423.8,367.3 405.9,325.6 237.7,358.5 419.6,370.8 240.3,352.2 448.9,352.8 323.0,364.0 450.2,303.8 460.2,263.4 401.6,363.4 329.5,374.8 439.6,301.6 392.3,249.1 286.1,354.0 408.2,349.6 91.0,408.7 441.2,296.9 374.4,347.1 401.1,336.1 476.3,356.1 449.7,369.0 390.9,288.0 472.5,280.5 451.8,317.9 343.1,300.5 219.8,387.4 209.2,305.6 387.3,331.3 371.9,369.9 402.6,306.4 359.3,252.1 345.5,329.9 313.0,363.9 469.3,245.4 328.8,331.6 460.3,326.6 254.0,395.3 425.8,310.1 309.1,359.0 434.4,349.7 461.4,340.1 316.3,368.7 353.4,356.9 364.1,331.4 393.1,311.7 331.6,349.1 373.5,355.6 336.3,354.8 331.0,347.5 263.6,365.5 396.8,323.0 502.0,329.3 304.1,387.6 448.5,331.1 477.4,350.8 380.3,357.6 380.2,349.0 386.7,338.5 310.4,299.1 316.9,353.7 470.3,304.7 327.7,324.5 465.2,344.2 452.2,355.3 418.7,305.1 406.2,366.1 250.9,357.2 351.6,322.0 382.4,342.2 426.6,357.1 315.8,244.1 339.8,269.0 299.6,342.5 298.9,370.6 269.1,375.0 350.4,387.5 359.0,367.5 284.7,350.5 402.1,364.1 396.8,273.4 324.4,382.7 340.7,304.2 261.8,373.4 378.8,352.1 328.2,345.9 351.3,367.0 304.7,359.3 457.5,339.5 463.0,328.4 349.6,359.0 288.7,319.8 241.6,367.2 408.2,345.4 482.7,341.1 386.7,372.2 342.4,308.4 350.2,332.2 402.0,354.0 361.4,346.9 454.7,340.4 512.3,267.1 404.5,300.5 422.2,307.7 435.8,347.9 459.0,350.8 462.9,343.0 266.1,376.3 489.6,342.3 495.2,312.7 328.1,378.4 340.2,317.9 228.8,331.1 318.1,345.7 368.8,335.3 356.9,345.9 308.9,382.2 339.6,347.9 438.7,342.1 346.1,351.9 441.2,318.6 352.3,332.2 465.9,249.6 320.1,368.0 380.7,342.5 211.7,366.2 103.3,407.1 137.2,380.6 130.7,389.9 169.6,358.9 285.4,324.0 424.5,368.5 322.3,367.3 452.4,334.0 332.1,297.8 498.1,336.2 396.5,356.6 302.5,365.5 382.4,379.2 444.4,295.8 391.7,386.6 270.5,362.9 353.1,342.6 398.0,320.4 376.4,276.5 369.7,347.2 418.2,342.6 309.3,363.0 355.7,354.4 474.3,298.9 369.7,363.4 374.7,259.8 330.8,291.0 316.7,377.7 235.5,307.1 418.7,329.6 441.7,292.2 459.7,359.3 351.0,367.9 301.8,372.3 484.9,338.2 292.5,203.8 410.7,289.0 287.7,350.3 323.1,322.2 430.2,317.0 389.5,348.1 333.7,355.6 380.6,298.5 370.1,372.6 401.9,297.6 330.3,354.8 293.6,277.2 352.3,332.6 339.7,332.2 436.4,304.1 448.0,336.5 338.2,361.4 227.1,389.1 431.8,362.0 242.5,385.6 387.7,360.9 385.2,324.7 445.4,351.9 416.4,355.9 333.0,331.1 116.3,392.9 357.7,360.7 397.0,323.2 400.3,310.3 271.2,360.9 415.0,356.8 326.0,347.5 366.9,275.3 350.6,345.1 298.2,363.0 493.0,320.8 401.9,254.0 427.8,359.3 387.1,304.8 347.6,310.2 289.6,371.2 255.9,295.4 355.6,334.7 355.4,310.7 412.7,334.6 322.7,309.3 472.2,304.0 458.0,278.5 247.8,336.2 348.5,324.3 335.0,290.2 377.2,344.6 400.2,310.0 479.3,362.0 363.7,329.3 285.3,331.0 436.2,300.6 430.3,364.1 406.4,292.9 313.8,342.2 345.4,321.9 201.4,353.8 443.5,318.9 338.9,351.6 463.0,319.6 357.0,330.2 228.0,375.6 282.7,348.5 386.1,333.7 481.4,289.8 335.2,367.6 389.2,331.5 249.5,277.6 366.7,348.5 134.0,373.0 343.5,354.5 356.9,340.2 378.9,345.7 113.3,408.1 295.6,373.7 471.9,219.6 376.1,337.5 318.0,318.1 451.3,357.0 431.5,371.8 357.0,328.3 374.6,345.5 355.8,367.9 319.7,369.8 397.5,320.2" fill="none" stroke="none" marker-start="url(#m0)" marker-mid="url(#m0)" marker-end="url(#m0)"/>
<line x1="85.40" y1="380.89" x2="555.60" y2="292.70" stroke="#0a0a14" stroke-width="2.5" stroke-dasharray="10.1 4.5"/></g>
<rect x="85.40" y="107.20" width="470.20" height="304.10" fill="none" stroke="#444444" stroke-width="1"/>
<path d="M85.40 411.30v3.5M179.44 411.30v3.5M273.48 411.30v3.5M367.52 411.30v3.5M461.56 411.30v3.5M555.60 411.30v3.5M85.40 411.30h-3.5M85.40 350.48h-3.5M85.40 289.66h-3.5M85.40 228.84h-3.5M85.40 168.02h-3.5M85.40 107.20h-3.5" stroke="#444444" stroke-width=".9" fill="none"/>
<g font-size="10.20" fill="#2c2c2c">
<text x="85.40" y="426.00" text-anchor="middle">0</text>
<text x="179.44" y="426.00" text-anchor="middle">20</text>
<text x="273.48" y="426.00" text-anchor="middle">40</text>
<text x="367.52" y="426.00" text-anchor="middle">60</text>
<text x="461.56" y="426.00" text-anchor="middle">80</text>
<text x="555.60" y="426.00" text-anchor="middle">100</text>
<text x="78.80" y="415.40" text-anchor="end">0</text>
<text x="78.80" y="354.58" text-anchor="end">2</text>
<text x="78.80" y="293.76" text-anchor="end">4</text>
<text x="78.80" y="232.94" text-anchor="end">6</text>
<text x="78.80" y="172.12" text-anchor="end">8</text>
<text x="78.80" y="111.30" text-anchor="end">10</text>
</g>
<text class="b" x="320.50" y="440.70" font-size="11.85" fill="#0c0c22" text-anchor="middle">AI Adoption Rate</text>
<text class="b" transform="translate(60.40 259.25) rotate(-90)" font-size="11.85" fill="#0c0c22" text-anchor="middle">PRs per Engineer</text>
<text class="b" x="320.50" y="101.80" font-size="12.88" fill="#0c0c22" text-anchor="middle">CENTRALIZED (0-0.96 repos/eng)</text>
<rect x="105.10" y="118.80" width="164.60" height="17.90" rx="3" ry="3" fill="#fff" stroke="#1a1a2e" stroke-width="1.4"/>
<text class="b" x="187.40" y="131.15" font-size="11.00" fill="#0c0c22" text-anchor="middle">Average PRs per eng: 2.7</text>
<rect x="404.60" y="369.70" width="131.10" height="29.90" rx="3" ry="3" fill="#fff" stroke="#1a1a2e" stroke-width="1.4"/>
<text class="b" x="470.15" y="382.10" font-size="11.00" fill="#0c0c22" text-anchor="middle">AI Productivity Gain</text>
<text class="b" x="470.15" y="394.10" font-size="11.00" fill="#0c0c22" text-anchor="middle">1.0 → 3.9 (3.9x)</text>
</g>
<g>
<path d="M703.72 107.20V411.30M797.84 107.20V411.30M891.96 107.20V411.30M986.08 107.20V411.30M609.60 350.48H1080.20M609.60 289.66H1080.20M609.60 228.84H1080.20M609.60 168.02H1080.20" stroke="#b0b0b0" stroke-opacity=".13" stroke-width=".9" fill="none"/>
<g clip-path="url(#c1)"><polyline points="912.9,345.2 938.9,334.9 937.3,297.7 871.7,321.0 871.4,375.7 987.3,245.3 995.9,298.1 1001.3,256.2 929.2,344.7 953.0,364.6 923.5,355.7 924.1,262.1 881.1,357.4 904.4,358.2 874.9,357.8 997.1,331.1 942.3,288.0 903.0,324.3 829.0,349.7 873.8,312.0 973.7,248.2 915.3,259.5 964.1,358.9 1007.9,364.4 822.0,366.0 949.6,356.8 940.0,315.5 835.5,340.1 900.2,345.7 937.8,332.8 948.0,309.0 879.2,356.0 788.9,305.5 892.3,354.5 917.0,353.1 818.3,376.1 931.2,305.8 840.7,355.1 896.1,373.6 794.8,291.6 769.4,392.9 791.5,337.1 943.0,236.8 978.7,293.9 904.0,359.7 891.9,338.7 892.2,367.0 936.2,293.5 923.7,271.9 972.2,294.1 856.3,251.4 840.2,364.2 938.1,275.9 786.6,355.5 967.8,184.5 1013.2,241.6 806.6,338.8 824.9,361.9 966.5,359.8 877.6,362.4 892.0,305.9 875.0,363.4 967.6,332.2 936.7,263.1 922.1,217.7 882.0,210.5 839.3,314.5 940.3,203.0 899.1,343.8 884.3,337.8 970.5,344.7 820.5,328.4 944.3,253.1 942.5,357.9 834.4,367.3 843.7,377.0 865.8,364.5 1024.6,306.9 914.0,277.2 894.4,226.3 934.3,349.0 790.4,373.2 1012.5,344.1 834.5,348.6 895.6,369.5 831.5,370.8 966.4,276.8 951.7,311.9 836.0,350.4 1003.4,343.2 999.4,363.6 723.1,356.7 872.8,269.7 863.6,305.3 946.5,313.2 894.6,334.1 962.7,362.3 808.6,354.7 851.1,355.3 810.1,323.4 735.5,356.1 825.5,342.5 830.5,272.7 939.6,199.0 799.6,335.8 913.0,338.5 981.7,324.9 854.3,332.4 977.8,276.5 869.3,343.0 851.5,345.4 962.2,313.9 936.1,157.8 926.3,353.4 997.7,361.9 949.3,338.9 716.1,387.0 893.5,320.5 915.9,334.4 962.0,316.3 901.1,116.1 907.2,356.0 876.4,266.6 929.0,353.6 946.3,322.3 976.8,285.7 956.2,363.7 901.7,205.5 979.0,339.2 967.4,330.2 936.9,283.3 887.2,294.8 893.3,317.6 988.1,309.9 908.8,334.3 950.9,343.7 886.4,306.4 909.2,284.3 898.1,307.3 886.5,359.9 940.1,338.6 886.8,343.9 964.5,280.7 922.6,328.0 1016.3,338.9 899.3,360.1 962.2,306.3 786.5,298.5 739.8,372.6 789.6,341.6 924.5,333.4 980.9,364.9 962.8,329.5 784.0,373.3 901.5,295.5 973.6,346.9 887.3,355.8 846.7,315.1 906.0,321.4 898.9,320.7 823.2,379.8 873.4,349.1 917.9,342.4 913.2,368.5 611.4,379.5 958.5,358.7 818.2,361.9 1000.6,337.6 883.7,337.8 830.0,219.5 890.4,360.3 952.6,291.9 777.7,364.8 952.5,264.4 934.7,348.1 869.9,350.0 753.2,341.7 886.7,325.4 807.9,287.6 875.0,361.1 943.1,352.9 872.1,359.9 839.3,366.9 963.6,303.3 979.0,340.5 764.0,294.8 890.9,334.1 619.3,378.4 1046.3,339.6 762.5,356.4 887.8,367.8 918.3,187.0 1000.9,316.0 875.1,356.1 903.1,359.4 616.6,380.8 882.6,293.1 864.6,362.1 845.9,333.8 817.5,358.0 938.2,326.5 902.2,301.9 978.9,323.8 820.3,290.8 892.5,290.7 897.2,313.7 1007.0,311.0 869.0,215.7 871.0,309.3 902.7,319.5 952.1,299.4 851.0,339.6 902.8,322.0 963.9,295.5 849.0,340.9 859.6,345.6 834.9,378.5 964.8,350.7 854.8,326.3 916.3,367.7 871.3,364.3 924.3,191.0 923.6,345.4 934.4,359.5 854.2,371.0 959.3,335.6 834.1,337.8 955.8,203.3 809.9,210.1 857.6,336.9 932.3,393.5 789.2,321.8 946.1,308.7 925.1,314.7 877.6,176.4 995.9,301.5 958.3,311.6 990.6,299.6 891.5,306.5 758.7,375.6 917.2,362.9 934.2,350.5 871.5,376.5 816.2,361.8 966.6,344.7 687.2,344.6 988.9,324.8 1010.1,297.3 985.7,267.9 897.3,269.2 911.8,353.4 950.4,325.1 1012.2,368.9 835.3,375.8 999.3,273.6 899.5,342.7 881.6,288.8 915.2,316.1 935.8,331.6 972.7,351.5 955.2,320.5 1007.7,309.9 802.0,337.9 858.4,343.6 831.1,298.6 916.8,295.1 975.8,368.5 941.5,360.3 930.8,348.6 972.7,317.7 931.9,292.7 937.2,364.0 945.9,260.1 905.4,341.2 806.9,291.6 918.7,306.8 917.4,357.9 853.6,357.7 871.3,321.3 893.2,344.9 821.3,339.5 892.9,363.5 962.9,310.3 835.8,357.1 877.9,345.7 919.9,303.0 933.9,353.9 856.3,357.0 861.4,320.2 921.5,338.8 947.7,261.8 935.3,336.3 948.7,169.5 933.9,304.5 838.8,358.5 926.0,349.1 923.5,293.8 613.3,376.9 886.2,332.6 885.9,370.8 894.7,370.2 960.7,346.0 965.9,341.4 972.7,328.3 862.9,330.1 952.0,271.4 907.2,290.6 991.7,319.5 990.3,150.4 894.0,259.1 953.8,300.4 953.9,228.2 993.7,271.7 951.9,278.6 930.2,265.2 1007.5,258.5 956.6,292.8 878.4,332.4 923.0,349.8 977.4,341.3 820.8,193.4 986.6,332.4 877.2,337.1 792.9,378.0 911.2,339.5 917.1,341.7 889.9,309.6 909.7,360.5 937.1,245.3 727.2,360.3 820.6,374.2 1003.9,342.7 903.4,350.9 870.8,347.0 905.7,338.7 896.4,329.6 923.7,283.3 954.7,333.0 958.0,326.3 952.0,286.2 963.9,357.0 936.2,341.8 880.2,341.7 682.7,343.2 951.4,358.5 751.6,382.2 789.9,347.3 915.4,120.9 999.6,316.7 813.4,321.2 839.8,343.5 1053.2,368.7 930.3,349.2 941.3,313.6 977.4,298.4 886.1,319.8 840.3,337.1 928.4,344.5 889.9,291.7 816.1,347.1 950.0,358.3 970.6,326.7 831.0,229.8 963.1,260.0 895.7,335.5 646.8,379.9 866.3,352.9 902.2,351.8 926.1,385.6 976.8,236.4 893.3,295.0 923.3,296.3 803.4,374.2 938.3,214.8 951.8,262.3 914.1,380.6 830.3,364.4 867.3,383.0 932.8,335.0 836.5,320.2 983.8,218.2 880.9,368.2 819.7,260.7 913.0,327.0 990.9,276.4 669.3,374.7 934.5,273.3 928.2,325.3 889.1,296.2 910.7,328.9 956.0,337.4 958.7,338.3 925.7,331.5 884.2,344.6 942.6,219.2 1010.5,340.7 886.2,339.8 882.4,346.5 955.0,289.2 787.8,251.6 901.4,374.4 862.8,331.1 949.1,341.4 955.1,298.7 913.7,151.9 981.8,304.7 1010.5,190.9 854.5,245.2 977.5,353.1 824.4,385.5 751.8,334.7 866.1,336.6 839.8,239.9 1002.6,330.6 776.2,348.9 904.0,347.5 792.7,282.0 946.2,297.6 956.2,296.1 894.7,302.1 846.1,269.3 974.9,330.7 971.6,314.2 935.8,330.8 876.4,353.0 853.7,346.3 879.4,356.7 905.0,342.5 740.6,391.8 993.7,355.5 925.9,352.5 941.6,205.2 888.2,355.6 837.2,350.2 954.6,315.2 880.1,367.1 991.8,321.6 909.5,342.0 928.7,323.8 820.7,375.0 943.2,309.8 941.3,335.0 900.3,298.0 878.5,284.4 839.9,354.9 882.0,238.5 915.1,310.9 901.4,321.7 829.1,294.6 991.6,340.5 909.4,352.0 884.7,329.7 908.4,269.0 943.0,365.4 877.0,369.1 954.3,335.2 934.0,368.8 967.9,340.3 879.1,331.4 913.0,338.7 763.1,370.0 884.6,341.4 967.3,307.3 943.1,356.9 907.1,285.9 987.2,324.4 886.2,350.3 928.3,360.9 912.3,379.3 888.0,362.7 981.4,347.5 984.5,339.1 880.3,369.7 848.7,361.1 793.6,316.1 874.8,293.4 829.2,345.2 767.3,346.4 919.1,340.0 763.0,374.4 846.4,348.2 959.4,229.4 1044.4,375.5 932.8,312.6 792.7,378.3 898.7,310.4 847.6,352.8 742.7,383.2 911.9,353.5 848.9,284.7 981.5,236.1 888.7,376.4 920.3,338.3 920.0,254.3 984.8,258.0 908.7,332.1 834.1,342.5 898.5,352.2 954.2,311.4 866.2,371.8 904.7,206.0 950.4,283.5 990.8,351.8 884.9,258.1 917.4,354.9 964.9,268.2 985.9,365.1 978.7,327.5 907.8,304.1 787.2,339.0 978.3,250.9 805.6,375.7 960.3,382.3 618.2,376.5 867.9,337.4 768.6,303.8 888.8,347.9 794.0,202.1 896.2,269.0 877.3,345.7 896.7,337.6 996.2,294.3 959.4,325.1 817.8,371.3 838.0,374.5 900.4,293.7 859.9,293.2 909.1,337.8 912.5,306.1 1015.4,314.6 883.8,289.9 949.3,187.1 843.5,370.3 981.3,264.9 905.4,342.7 861.3,348.9 951.7,375.8 950.5,315.0 845.2,329.7 747.1,339.0 916.7,324.7 977.8,304.8 903.0,337.9 865.3,341.5 937.1,276.5 906.4,261.1 834.3,352.5 846.4,353.5 947.8,185.0 874.5,353.8 1000.7,255.6 903.1,320.0 838.6,315.9 926.3,348.1 955.2,352.5 861.9,350.8 823.9,364.6 881.0,346.0 981.4,291.3 863.4,299.0 826.4,350.8 837.9,372.0 873.4,281.0 882.5,346.5 953.1,359.9 888.8,297.9 687.4,383.6 778.6,348.5 936.0,304.2 920.2,346.1 829.8,336.1 859.2,377.1 928.8,364.0 893.9,332.9 876.5,198.2 918.3,352.0 889.4,334.4 870.2,378.3 809.7,369.0 870.8,351.4 979.8,345.5 870.0,342.6 819.5,251.4 957.1,283.7 973.5,221.6 954.8,297.7 874.0,301.8 906.1,315.7 981.8,313.8 932.1,288.5 891.5,281.5 898.6,265.8 845.2,334.7 985.1,292.7 922.2,334.4 937.0,305.2 864.6,354.8 882.9,363.3 862.2,331.1 858.7,367.1 1010.8,273.2 946.3,332.7 763.8,291.6 819.9,341.8 848.5,288.2 1027.8,237.8 828.1,351.8 951.1,357.6 915.7,212.1 971.6,302.1 804.7,379.5 866.9,351.3 914.6,297.9 909.2,337.4 957.2,297.6 856.0,316.6 908.6,344.8 948.4,343.0 911.9,346.6 908.3,338.3 872.7,343.5 801.4,377.4 840.5,356.6 835.3,366.3 920.2,326.6 941.2,340.9 919.4,309.0 884.6,352.5 858.3,370.6 964.0,316.2 796.7,359.8 939.5,325.6 1014.3,285.1 1020.2,189.3 935.9,344.3 746.6,322.0 788.9,325.6 882.3,391.4 929.6,289.3 865.7,273.8 878.9,351.5 863.8,366.1 1005.7,297.4 938.7,138.0 862.1,219.7 909.2,290.9 892.2,325.6 899.1,370.2 860.4,316.9 844.5,381.5 771.8,385.2 973.1,286.1 614.6,383.9 929.5,265.9 862.1,348.1 1011.4,301.8 826.4,351.2 952.8,349.6 853.2,357.7 803.1,354.9 774.8,266.8 836.9,216.2 757.3,348.2 859.6,336.0 899.8,363.1 866.5,362.2 889.0,357.7 990.0,286.2 885.1,352.6 823.6,369.4 874.1,335.9 937.4,348.4 858.7,349.1 842.9,325.7 690.8,371.3 912.4,239.5 974.6,351.0 957.8,280.6 913.0,313.5 855.0,316.5 892.3,229.4 965.2,222.8 748.7,351.7 857.9,301.8 787.1,365.4 958.4,333.4 843.8,321.4 744.8,358.3 928.8,363.1 858.6,370.8 895.9,339.3 943.2,323.4 954.5,297.9 1009.6,249.0 1027.0,171.3 749.3,353.9 844.2,376.3 975.9,345.0 937.7,318.1 944.8,353.1 908.3,353.9 884.1,319.5 871.2,322.6 904.3,330.9 919.5,357.3 913.7,280.7 926.4,375.9 916.8,348.1 790.3,353.1 827.4,339.6 769.8,328.6 947.7,321.1 876.5,343.9 865.4,332.1 908.4,312.4 954.8,363.7 810.1,357.8 820.9,357.8 1022.6,265.7 937.1,173.6 880.1,332.2 1013.6,312.6 960.7,307.5 883.4,365.1 946.3,378.5 1004.8,296.1 1026.0,277.4 930.3,371.2 963.7,322.1 965.0,303.7 887.6,340.1 884.0,337.1 1012.4,294.9 876.7,354.1 860.8,340.7 889.2,347.4 847.7,262.7 995.7,130.2 847.3,360.7 895.7,371.4 923.0,202.0 897.7,372.4 949.7,341.5 959.6,330.7 909.4,365.5 960.5,348.7 914.5,329.6 910.4,321.1 1011.9,327.6 866.4,372.8 975.3,317.6 1019.7,131.4 938.0,282.0 967.9,349.5 878.1,377.0 930.9,357.6 888.0,338.0 783.7,355.5 723.3,356.1 870.5,373.7 955.8,327.5 773.3,351.8 827.1,344.6 862.6,324.0 873.5,296.4 937.9,363.4 951.4,303.8 812.4,359.8 850.1,355.9 800.3,297.7 943.2,307.3 698.6,357.4 934.4,351.3 819.5,354.1 858.8,251.1 908.3,325.0 1021.5,178.6 891.1,354.7 897.9,343.7 666.3,386.0 979.4,252.9 864.2,342.5 916.5,369.2 961.9,276.7 941.9,359.3 979.9,252.9 961.6,339.3 907.2,297.7 617.1,378.0 779.2,337.6 909.0,355.7 771.2,388.0 928.5,335.6 857.8,324.4 709.0,389.3 898.9,289.2 863.4,377.2 848.5,346.5 880.0,303.7 864.8,333.3 868.1,339.0 869.5,337.4 872.3,354.5 917.3,301.8 912.4,375.7 868.9,336.4 613.6,383.2 937.7,292.2 975.4,300.0 819.5,369.3 920.5,286.0 684.2,327.4 887.8,337.1 804.6,370.5 780.6,363.2 976.8,358.8 910.8,315.4 928.6,320.3 919.7,312.3 1015.6,337.4 940.4,332.3 918.2,353.5 907.7,356.4 854.7,376.1 802.9,281.7 899.9,334.3 946.9,343.7 961.2,232.5 834.4,379.1 992.5,314.7 935.6,275.1 893.8,323.0 909.0,274.6 903.7,361.4 862.2,323.4 795.5,226.3 906.5,350.5 814.5,373.5 834.2,328.6 871.6,263.0 751.7,372.8 839.8,345.9 1031.5,268.5 801.7,348.5 894.5,367.7 768.8,367.4 729.5,356.5 901.4,270.2 909.4,350.6 951.4,356.4 933.7,354.2 838.8,334.6 901.1,281.6 956.5,241.8 936.5,250.8 891.1,347.0 1004.6,351.5 922.5,343.0 964.0,223.8 944.0,137.8 899.4,352.1 918.8,347.8 920.3,356.1 931.0,308.3 986.1,276.0 794.7,364.2 929.6,259.7 870.0,360.2 912.6,367.7 965.1,362.9 906.2,351.6 942.0,262.0 985.9,373.2 939.3,320.8 922.6,215.1 862.0,368.2 919.8,122.2 883.0,315.3 826.4,381.0 920.5,346.7 907.8,374.4 871.8,312.5 833.2,322.1 998.1,293.6 848.9,335.2 872.7,348.4 797.1,341.0 925.2,359.3 870.0,346.4 947.9,360.1 930.7,342.8 957.4,332.3 878.5,306.3 864.5,339.5 929.0,347.6 849.6,350.3 919.7,359.1 957.2,270.7 930.4,340.6 730.9,366.7 863.8,354.1 913.5,267.2 799.0,255.3 972.5,292.1 836.8,261.5 853.1,227.8 614.8,378.8 938.8,311.1 876.6,345.5 953.5,347.8 829.1,375.7 948.7,339.8 909.0,328.2 978.7,238.6 911.1,295.5 893.4,286.4 907.0,343.6 774.2,352.1 750.6,345.0 1001.6,320.7 968.6,342.2 756.5,353.7 961.2,369.2 911.1,331.8 798.3,264.3 857.5,347.8 938.3,158.5 811.1,360.5 867.2,343.8 905.5,325.1 999.3,329.7 932.4,280.8 788.3,326.1 797.9,344.9 855.0,320.7 899.9,345.1 922.1,379.3 878.7,302.5 911.5,360.9 795.7,361.1 820.0,337.9 853.8,365.0 927.1,323.5 983.7,252.8 828.1,347.1 1004.2,261.0 826.3,220.1 884.5,372.5 835.2,366.7 1002.4,330.6 837.7,250.0 1003.3,347.9 929.8,109.7 917.9,322.6 760.7,342.8 796.8,312.0 880.6,359.6 867.6,315.8 880.1,354.6 937.2,341.5 869.9,281.1 1019.0,318.4 993.8,232.1 912.0,331.7 955.2,316.1 932.8,308.0 878.3,350.8 904.3,299.7 858.2,378.7 893.3,368.2 818.8,338.1 913.3,339.8 929.1,319.7 891.6,284.8 956.6,354.7 820.1,376.0 881.0,329.4 871.8,329.1 942.6,340.3 882.3,357.4 825.7,337.2 918.7,364.6 951.6,366.0 952.6,347.4 932.4,332.8 861.0,315.3 821.7,319.7 982.6,320.9 981.4,312.9 802.2,341.1 973.5,318.4 838.8,360.0 950.2,297.0 864.0,351.8 1004.8,324.2 864.4,364.9 828.4,327.6 815.1,355.4 918.7,300.5 849.9,348.7 947.1,345.3 851.2,344.1 753.8,298.0 923.6,249.5 861.7,330.8 968.4,333.1 793.5,300.5 921.7,247.0 929.9,366.5 788.1,366.5 827.6,316.1 941.0,289.4 939.4,370.2 829.4,310.8 945.9,384.8 943.8,375.1 949.5,271.9 963.2,259.9 925.8,357.4 809.6,365.0 827.3,299.7 934.6,357.3 992.6,315.0 827.3,274.4 990.5,292.2 874.2,316.8 983.6,306.6 869.6,352.4 935.3,379.9 867.2,357.5 901.6,318.2 879.0,368.9 944.6,348.9 951.7,357.9 897.6,350.6 857.5,368.1 897.5,294.8 924.6,363.6 1007.1,252.7 874.9,339.3 942.0,320.4 844.2,347.8 843.8,344.8 868.5,354.1 838.8,354.3 972.3,337.1 879.4,230.3 940.7,353.2 836.2,347.7 829.6,370.8 923.7,347.2 913.2,305.5 899.3,346.5 972.2,333.0 881.0,290.2 614.5,374.0 987.1,264.8 846.8,379.4 972.9,355.6 891.3,299.9 898.6,352.3 869.5,272.4 859.7,326.0 917.5,308.6 947.8,335.1 903.3,327.9 619.7,382.3 938.4,360.4 878.9,314.9 926.7,347.9 883.3,339.4 841.8,323.7 882.7,351.9 783.8,376.4 953.5,242.4 867.3,337.6 868.4,374.5 1011.0,364.1 877.4,322.8 1007.8,320.1 965.4,357.4 896.1,354.2 881.3,355.2 971.3,107.5 900.0,322.6 842.6,355.8 854.9,332.0 848.0,369.0 952.5,304.8 965.4,272.7 962.5,338.5 892.6,378.3 843.0,374.2 886.8,328.4 842.0,336.2 915.3,301.3 968.4,347.2 871.7,372.5 809.1,342.3 945.9,333.4 813.2,380.6 900.0,334.7 964.4,323.7 941.8,293.2 865.1,347.8 953.9,336.3 937.9,303.8 857.4,336.8 974.1,306.0 879.2,134.0 896.3,343.1 831.9,350.2 898.0,349.9 933.0,354.1 870.8,337.4 941.4,315.8 819.0,331.5 871.5,345.4 921.3,325.2 889.1,368.3 870.9,367.2 938.4,313.4 920.8,339.6 884.5,347.6 949.8,371.6 992.2,289.7 886.1,347.7 859.1,365.2 1018.3,285.3 911.7,357.0 964.1,337.6 934.0,107.2 919.0,329.8 916.1,231.5 889.4,338.9 920.8,327.6 982.4,341.3 857.5,336.8 999.0,220.0 928.7,298.4 817.4,329.0 792.9,379.7 920.0,342.8 867.5,373.7 790.5,321.7 942.1,249.9 850.2,362.1 969.5,182.8 959.0,294.0 892.8,299.8 766.5,286.4 927.0,303.3 910.4,308.4 788.2,329.0 885.4,307.2 883.1,314.6 934.5,360.4 614.3,374.3 900.9,274.1 991.8,302.5 892.4,348.1 996.3,302.5 992.7,280.5 903.1,347.1 880.2,238.6 950.5,295.1 921.9,345.8 908.3,321.7 985.9,310.1 744.2,318.4 888.4,362.2 891.3,322.8 841.0,140.1 860.6,368.0 989.9,184.1 969.6,324.2 921.4,373.3 963.1,321.0 970.2,291.0 943.7,355.9 846.4,357.0 929.3,369.1 881.7,313.6 881.3,337.5 923.1,315.9 935.1,279.7 968.9,358.7 819.3,298.8 946.9,303.6 856.8,340.1 841.7,376.2 954.3,374.3 998.5,332.7 860.6,360.7 875.5,348.0 857.5,349.6 960.0,327.2 868.7,372.0 879.1,302.2 851.7,340.0 979.3,280.8 877.8,352.0 960.0,375.4 889.3,328.5 792.8,349.6 905.8,330.4 927.8,299.2 823.0,349.4 926.0,331.0 833.2,355.7 878.2,333.9 950.9,345.3 919.0,330.2 904.2,331.1 900.9,244.4 962.0,335.8 772.8,385.3 880.5,320.5 890.6,372.3 916.7,369.9 891.0,350.6 804.9,347.2 917.0,301.8 845.5,331.3 851.6,346.3 951.1,351.6 941.1,368.1 936.4,322.7 945.8,297.3 837.5,321.4 824.0,384.2 924.4,311.2 903.5,347.9 831.2,344.1 880.2,353.5 918.6,369.4 898.7,239.2 956.4,358.9 924.0,295.7 921.0,344.3 878.1,286.5 878.0,349.8 866.9,353.3 817.4,257.4 873.5,348.5 903.8,346.5 965.1,311.5 897.2,301.8 761.3,276.8 962.9,307.2 898.3,347.0 899.2,341.4 1000.8,298.8 911.8,372.7 806.7,352.6 872.8,334.3 914.0,322.1 924.3,312.8 935.7,235.3 913.3,328.7 935.4,360.9 901.2,343.9 865.2,355.6 810.0,300.2 933.7,346.8 944.3,295.7 965.6,330.4 910.9,367.3 617.8,376.9 1002.9,315.8 811.5,302.4 854.5,362.5 964.7,237.0 904.1,302.4 816.9,229.9 891.1,259.1 973.6,367.0 835.4,353.7 882.0,289.0 904.6,308.1 972.5,326.2 905.8,282.8 845.9,359.5 944.7,351.0 842.6,257.3 877.3,190.0 881.7,332.1 916.2,287.4 822.3,366.3 899.6,348.3 879.8,332.6 928.6,310.3 1006.1,245.6 971.4,317.6 856.9,364.9 1022.1,267.8 1020.6,248.1 887.1,346.1 911.7,347.3 888.0,314.6 922.9,358.3 948.1,310.0 819.1,348.5 953.6,322.1 1007.2,343.1 973.0,281.9 883.5,338.9 834.4,330.7 905.2,311.1 963.7,267.4 738.7,365.1 873.0,336.1 939.7,268.3 928.7,302.8 883.1,356.8 917.0,97.6 900.4,337.6 836.2,374.3 996.9,323.3 849.9,354.0 799.3,360.5 910.3,355.3 900.1,363.1 901.0,357.8 825.1,248.5 948.0,378.2 832.0,373.3 889.5,311.5 920.3,294.9 946.5,356.9 878.0,290.2 978.7,231.4 619.9,373.8 819.9,221.7 841.1,358.1 892.6,362.1 887.7,353.4 867.0,304.9 871.4,330.3 946.3,259.4 912.0,343.5 958.6,349.5 915.1,353.9 988.8,277.5 931.3,306.3 923.8,353.7 899.8,362.1 1001.8,299.6 959.1,321.6 923.7,330.9 781.7,358.9 924.7,328.6 699.8,348.4 970.7,361.9 877.5,174.1 779.3,263.4 990.7,112.2 837.3,384.5 866.7,348.2 824.7,368.9 909.5,318.6 851.1,204.9 928.0,378.2 665.3,379.8 834.8,369.8 899.9,352.8 910.7,326.9 966.7,324.3 916.5,361.0 895.1,296.8 968.8,286.8 988.5,283.1 961.8,175.3 849.3,312.1 835.4,355.9 915.8,323.3 999.3,331.0 834.5,362.2 810.3,349.7 864.1,355.2 887.3,334.3 833.1,336.2 866.5,326.6 970.5,239.9 884.0,311.7 928.5,280.8 848.5,368.1 971.4,298.8 906.8,355.1 793.5,367.1 969.1,318.9 648.4,372.7 872.7,369.3 940.9,378.2 894.4,134.5 926.7,333.3 846.7,349.5 893.2,325.7 881.1,358.3 934.8,357.2 786.0,312.1 931.9,307.4 967.7,352.2 935.8,341.8 999.0,246.7 872.6,369.7 727.9,362.6 836.6,342.5 990.9,122.1 861.4,305.5 898.6,339.4 1014.5,316.4 751.8,364.3 997.8,268.2 853.8,346.9 979.6,305.8 887.7,285.9 992.9,345.9 919.9,342.2 958.8,289.4 883.5,339.0 884.8,362.9 867.6,360.2 916.5,333.8 922.0,339.6 806.6,205.6 874.9,330.7 950.6,309.9 860.7,372.8 977.2,359.5 931.3,298.8 970.9,339.4 994.6,252.0 916.6,333.0 924.2,354.7 713.0,378.2 965.8,341.9 804.0,278.9 907.7,306.7 991.8,354.7 922.8,365.4 995.8,343.3 811.6,378.4 947.8,354.5 963.6,329.5 971.1,354.1 883.5,365.6 896.4,324.1 860.1,358.5 872.3,357.3 911.1,242.2 886.6,357.4 824.8,381.5 912.3,350.2 785.5,375.0 831.4,331.4 915.0,328.6 776.8,330.9 919.6,327.7 915.3,297.2 950.1,369.1 987.0,311.1 883.8,353.1 708.1,360.7 969.5,349.8 931.5,311.4 933.8,337.6 919.6,263.4 838.9,376.2 806.5,357.5 819.2,285.2 772.1,378.5 852.9,341.5 771.1,311.5 995.9,210.8 930.3,312.5 915.0,345.2 949.7,330.1 895.6,286.0 949.5,304.4 889.7,362.3 912.5,302.3 856.4,292.1 941.5,318.6 875.3,350.6 842.5,155.1 953.0,326.7 925.8,290.5 872.5,299.7 937.1,353.1 922.4,277.7 617.4,383.8 941.2,171.4 811.6,351.3 795.4,270.3 909.8,359.7 935.0,307.9 862.0,297.9 910.0,352.8 831.2,331.8 890.8,304.5 950.5,322.8 900.6,337.5 943.2,302.6 919.4,321.7 837.4,338.7 929.6,319.2 992.4,308.5 943.1,287.2 964.0,282.1 865.1,355.8 806.1,345.4 913.9,253.5 866.1,390.2 874.5,354.7 945.8,352.0 961.8,323.2 941.7,347.6 891.6,243.3 947.2,363.0 883.3,267.1 612.6,382.9 863.1,357.9 980.1,347.6 878.6,351.6 778.8,352.5 993.6,269.2 942.5,339.0 909.6,183.6 816.7,329.1 862.4,297.5 869.7,331.7 903.8,316.1 866.0,322.5 614.9,382.8 901.8,343.0 884.1,301.7 873.7,318.7 925.6,277.7 838.3,350.8 982.5,287.1 944.4,369.6 920.3,348.3 783.5,385.6 883.7,284.5 850.8,270.1 885.3,321.8 909.3,376.9 960.7,328.8 907.7,264.1 847.0,379.8 904.8,318.3 964.9,314.1 916.8,380.2 778.3,382.8 914.3,333.8 956.9,346.0 896.9,356.7 928.1,319.9 1006.1,355.7 838.9,288.7 926.6,358.9 884.0,325.7 888.3,341.3 934.8,312.2 896.2,338.1 805.8,300.5 868.3,329.5 858.6,374.7 805.5,348.5 952.7,325.8 855.1,356.9 802.4,352.5 954.8,348.1 1004.5,346.7 905.2,352.1 877.1,253.7 839.7,364.6 922.0,374.6 948.0,322.8 946.7,335.6 914.0,225.1 897.0,366.5 850.6,311.7 907.1,353.6 915.2,330.6 805.2,363.8 930.8,344.2 846.0,359.9 617.3,381.0 1001.2,347.6 913.1,308.5 938.4,306.8 989.7,369.5 879.3,302.1 874.8,375.9 965.0,305.8 719.3,233.4 954.7,366.8 763.1,345.7 981.9,267.6 930.2,365.2 808.6,385.0 823.2,360.5 982.7,211.7 845.0,376.0 864.0,324.3 616.9,378.8 887.2,262.4 877.4,292.4 967.8,308.3 896.3,351.4 845.0,370.0 900.2,344.2 734.5,380.3 884.0,362.2 966.9,308.9 904.5,364.7 982.1,307.1 747.1,212.6 830.5,356.4 851.3,366.3 994.0,256.6 941.3,329.0 695.0,354.1 760.7,368.3 980.1,323.9 918.8,352.8 880.2,343.6 983.3,317.9 910.7,364.6 867.3,343.1 921.7,358.7 827.4,379.5 851.6,207.1 823.6,336.8 964.3,324.6 861.1,348.0 823.5,180.0 859.2,349.0 821.9,349.9 882.0,357.4 877.5,215.1 905.9,314.0 972.7,246.9 937.5,313.1 943.0,322.3 867.5,315.5 966.4,323.4 959.0,280.3 909.0,337.1 874.9,373.4 889.3,360.2 973.8,342.0 790.0,333.5 816.1,356.1 943.8,351.5 772.9,333.1 889.0,343.7 935.1,256.9 930.1,368.2 869.7,362.4 961.9,338.0 900.4,358.9 951.9,218.5 818.8,379.7 856.3,341.0 856.5,298.9 899.1,296.0 817.8,311.9 922.1,320.6 615.9,381.5 723.3,364.1 908.8,360.1 957.0,280.5 895.1,346.8 932.9,377.7 906.0,349.2 647.9,392.7 811.3,276.4 838.6,343.9 729.9,390.2 907.3,181.8 943.1,375.6 902.3,339.1 874.5,373.2 973.9,281.5 817.3,381.8 913.5,367.0 902.4,355.6 872.2,338.9 895.7,308.8 936.4,325.2 956.9,255.4 830.3,199.7 823.8,215.7 865.2,293.6 845.2,339.3 870.4,300.0 886.4,349.4 987.6,213.4 896.3,357.1 946.2,366.1 945.5,312.9 825.6,212.1 878.3,324.2 854.5,325.8 970.4,301.1 959.0,250.3 872.9,278.5 935.0,366.3 929.8,325.4 920.4,309.6 834.3,339.0 837.1,354.9 958.0,327.6 853.3,241.3 908.2,330.9 987.0,304.2 871.0,382.4 907.4,351.0 979.3,319.3 848.9,376.1 898.1,318.3 886.5,270.0 921.1,302.4 968.3,352.4 960.6,376.6 758.4,354.0 832.1,242.4 941.2,304.4 871.6,370.2 906.7,324.1 925.1,363.0 897.9,215.6 908.9,253.6 954.2,291.5 1041.0,323.2 776.2,304.0 906.4,379.3 723.4,351.8 763.1,225.8 797.5,339.9 930.4,372.7 812.5,367.1 966.2,333.4 820.0,354.0 615.3,370.5 950.0,335.7 1030.8,330.6 903.6,372.6 956.6,327.8 965.9,373.7 886.2,174.2 803.1,365.9 986.3,279.6 978.4,270.5 854.7,351.1 814.8,391.9 826.8,346.1 964.0,317.6 754.4,292.8 973.9,305.0 824.5,343.9 864.4,365.5 968.8,285.8 895.6,357.4 869.2,360.5 959.4,332.6 926.3,310.7 899.8,316.4 892.0,369.0 922.5,352.3 851.8,369.1 916.3,173.2 873.8,345.9 926.5,337.2 889.5,358.7 870.8,243.8 884.4,370.5 654.6,379.8 756.4,383.0 947.6,280.8 838.9,383.3 969.0,182.2 1012.6,226.4 914.5,374.6 939.0,332.4 913.7,343.4 951.8,244.4 909.0,339.8 901.0,366.0 995.5,297.8 918.0,336.5 812.4,295.0 944.4,303.8 932.1,277.0 987.3,281.7 855.3,352.1 888.2,290.2 1014.0,210.6 818.3,349.7 833.3,360.3 862.5,366.2 891.2,383.4 862.7,366.5 881.0,356.2 934.9,353.7 993.3,292.4 972.2,329.2 852.8,344.8 913.8,322.6 903.0,345.0 899.0,329.9 928.0,299.2 928.3,327.9 795.5,316.6 939.1,278.3 935.5,360.8 723.2,381.8 952.3,313.1 824.5,337.6 922.6,351.3 878.1,332.5 823.4,235.8 761.1,365.4 794.1,329.1 917.3,246.7 905.9,352.9 933.7,239.2 946.1,346.0 916.4,266.9 857.3,349.7 856.6,351.8 964.1,350.4 832.5,297.3 920.8,353.6 936.2,297.3 908.5,318.8 931.8,323.4 891.8,364.5 953.7,364.9 878.8,334.0 897.8,340.6 989.7,240.4 720.1,306.6 928.6,314.7 924.1,305.4 948.0,382.3 894.2,363.9 796.5,372.2 1014.8,333.2 800.6,338.9 916.8,365.1 1031.5,358.3 959.3,343.8 896.5,343.3 857.7,360.7 876.3,260.1 907.7,290.0 910.9,348.4 881.5,234.6 775.6,333.5 904.9,343.1 919.8,260.2 908.1,273.1 951.7,364.4 1019.0,283.8 1015.1,297.3 963.1,265.5 924.0,321.0 915.6,348.4 818.4,329.7 909.7,356.3 940.7,309.8 880.8,354.4 877.3,260.5 722.6,292.8 912.4,273.5 892.2,340.6 783.2,362.8 940.4,117.6 942.8,252.5 866.0,345.2 913.5,321.7 963.0,325.1 932.6,362.4 830.3,295.8 922.8,353.9 909.6,281.3 893.5,354.0 978.2,300.4 942.9,300.8 961.3,347.0 902.7,320.3 921.9,321.9 912.2,301.9 945.6,314.4 886.3,354.7 953.4,335.9 938.3,298.3 821.3,362.2 728.8,383.2 911.5,299.9 892.8,274.5 865.4,382.6 901.0,274.3 792.6,364.9 933.0,344.7 887.5,300.8 906.3,329.5 869.4,342.6 924.7,304.0 844.7,129.8 1006.6,294.5 924.8,330.7 871.3,353.4 939.0,343.0 841.8,335.4 795.1,374.3 898.7,321.2 918.3,342.6 877.3,319.1 770.8,247.1 997.1,350.6 768.5,361.0 910.5,383.7 837.0,311.8 953.6,339.6 949.1,306.3 800.8,230.7 885.8,345.7 791.7,281.3 921.6,241.2 819.8,272.0 968.5,226.2 767.3,383.6 958.7,225.3 961.5,307.3 874.5,313.2 829.8,334.5 852.8,344.0 875.3,290.5 953.5,218.2 816.8,332.9 877.6,360.8 738.8,354.4 860.0,377.1 909.4,375.3 781.9,340.3 893.1,360.5 1012.9,233.7 904.2,362.2 989.9,354.4 1012.9,337.2 837.2,325.7 738.7,389.1 869.9,368.6 804.3,374.9 871.8,328.6 948.8,337.6 962.3,298.2 869.0,359.8 847.9,326.1 818.0,300.8 965.5,338.0 992.5,148.6 935.6,331.5 971.8,323.5 853.8,337.1 903.6,331.8 893.2,314.0 853.9,351.9 880.9,343.8 840.4,378.5 966.6,317.4 823.7,357.5 646.2,388.6 819.1,249.5 718.6,324.9 904.2,329.7 1000.2,191.5 825.5,364.5 955.5,251.2 923.7,347.9 921.0,363.3 793.5,379.3 902.8,382.6 963.6,310.9 965.7,265.0 908.2,350.9 978.6,328.9 1012.0,343.5 816.7,286.7 888.6,319.8 1004.7,348.9 812.8,340.2 940.3,299.1 834.8,344.3 851.3,350.1 767.0,358.6 809.4,243.8 923.2,207.7 819.8,262.3 938.0,321.5 838.0,366.6 837.5,317.6 980.6,340.0 918.9,338.3 961.2,354.2 679.8,382.5 817.7,346.8 898.2,337.0 910.6,382.7 934.0,328.6 872.9,348.6 873.8,293.6 865.5,363.4 961.7,300.5 789.6,385.9 890.5,311.0 912.0,332.8 816.0,369.3 850.1,363.2 870.5,375.9 927.5,297.6 897.5,273.8 757.1,296.8 904.4,354.4 933.7,285.1 1023.0,340.2 927.0,202.1 865.8,370.5 930.1,244.6 890.1,360.1 875.2,382.6 968.1,334.3 831.9,360.0 857.5,200.5 963.2,346.1 849.9,362.8 812.9,343.6 829.0,344.4 995.0,158.3 866.2,371.5 733.2,381.0 922.1,353.2 872.5,315.0 1006.8,248.2 949.7,343.5 876.3,298.8 905.5,292.7 887.5,351.3 892.6,375.9 946.5,330.2 861.4,276.8 782.3,372.3 798.4,339.6 950.0,366.6 812.6,359.2 848.3,357.3 948.8,270.2 858.9,275.9 960.4,220.4 820.8,337.4 926.4,349.8 791.3,348.7 918.4,369.7 881.4,354.3 948.0,269.1 973.4,271.0 894.1,322.5 903.3,360.6 791.2,230.0 911.6,341.9 826.7,303.3 875.6,356.9 895.0,224.4 824.4,366.8 912.5,363.2 894.2,356.2 831.3,311.1 873.1,326.7 901.4,324.7 891.0,364.8 893.3,365.3 874.2,367.4 848.3,362.4 817.9,220.2 934.8,331.3 786.3,376.4 951.4,338.6 877.5,371.9 908.9,369.9 829.7,312.0 813.5,361.3 969.4,297.1 946.4,297.7 921.9,321.8 916.4,351.7 859.5,333.4 801.3,349.4 825.1,357.5 963.4,287.9 875.9,382.7 920.3,339.9 916.2,382.4 817.0,229.5 815.4,349.0 856.4,349.5 961.8,341.7 1021.5,261.8 927.7,375.1 898.1,359.3 1014.9,332.8 945.4,288.3 948.1,360.4 916.0,370.1 909.6,334.9 961.6,296.8 941.8,346.5 897.8,287.9 947.1,311.6 817.0,366.8 939.4,349.0 985.2,348.2 835.1,138.8 916.9,329.5 940.2,374.3 800.8,379.5 896.4,326.3 913.0,384.1 944.5,257.9 830.4,332.5 872.9,315.3 913.1,354.0 970.3,281.7 846.4,276.4 1000.5,222.8 933.5,323.5 921.9,353.4 972.8,312.0 930.5,365.3 834.6,355.8 904.7,347.1 999.0,349.2 942.1,298.1 989.8,329.7 853.8,288.9 938.7,365.5 964.8,336.5 989.0,285.2 945.2,232.4 791.9,365.2 907.3,339.3 1028.3,160.7 964.1,331.0 841.8,341.5 773.2,206.0 940.1,352.8 846.2,330.6 800.8,377.6 774.4,324.4 871.9,360.3 904.4,290.5 792.0,334.1 796.3,347.9 996.2,310.1 881.8,307.0 817.6,357.6 825.8,328.3 889.1,327.8 952.3,276.7 995.4,335.0 757.5,325.1 911.2,349.8 959.5,385.3 943.8,296.3 643.5,331.0 876.3,358.2 868.9,374.9 985.7,276.4 819.8,331.3 950.2,342.6 936.6,349.5 1005.0,360.9 969.4,314.4 834.6,374.1 829.6,307.3 891.6,356.0 854.9,321.9 803.8,358.5 913.7,189.3 939.3,353.8 882.3,347.0 879.8,346.6 928.9,250.6 877.3,313.4 917.9,250.6 906.1,332.7 940.8,328.4 806.5,324.9 933.0,307.2 900.6,335.7 941.9,263.9 908.8,367.0 889.3,307.3 843.1,347.8 794.8,278.6 916.5,287.4 779.1,365.3 694.5,374.6 992.5,351.4 966.9,359.8 929.8,380.1 907.1,324.3 973.8,218.3 926.2,279.6 846.7,301.5 888.3,165.1 886.6,265.2 818.0,301.1 974.3,213.1 853.3,372.0 929.6,330.6 902.4,340.8 955.5,306.0 954.6,343.7 964.5,332.3 925.8,364.7 941.0,289.5 870.0,318.3 977.0,270.9 789.7,350.9 929.3,310.7 929.3,329.9 874.6,241.5 872.4,339.6 799.1,322.2 959.2,343.9 839.0,255.6 959.7,335.6 940.7,342.2 809.5,365.5 921.9,365.4 968.5,343.5 854.2,359.8 908.5,334.3 826.5,349.5 869.5,331.8 968.4,290.4 917.1,340.5 877.9,286.7 786.7,294.8 875.1,334.3 871.1,267.8 797.6,362.5 864.5,382.4 981.8,309.7 1006.1,318.8 899.3,365.3 936.9,338.5 942.8,298.5 955.3,366.4 930.2,336.0 959.3,357.8 937.3,349.9 851.9,352.1 949.0,364.8 877.3,349.8 947.8,330.2 944.6,320.1 706.3,387.8 958.1,271.8 998.2,299.1 990.2,323.4 889.5,354.3 893.8,333.2 945.0,248.7 845.7,360.5 985.9,315.6 832.2,351.0 924.0,319.2 793.5,336.8 881.3,335.6 854.2,359.6 800.4,351.3 907.7,281.4 890.6,339.4 839.8,368.1 879.7,349.3 810.1,311.1 838.0,350.1 879.4,255.0 992.9,331.7 957.2,332.7 972.8,303.1 902.1,210.2 1011.5,353.4 960.7,371.6 1035.9,371.9 791.8,320.9 995.1,223.9 910.3,294.1 979.9,328.1 957.4,357.3 910.7,328.9 884.4,342.7 860.4,249.6 912.2,258.9 995.8,280.8 1012.3,319.5 902.6,337.3 800.9,358.7 976.4,291.4 845.8,142.7 908.9,332.4 976.9,210.4 850.8,350.1 853.5,364.6 865.5,379.0 924.4,286.6 910.1,291.1 983.0,357.9 867.8,359.7 967.1,294.1 820.4,292.5 1025.1,188.4 914.6,267.1 808.0,358.8 893.3,328.3 882.3,310.7 827.3,374.6 943.4,344.2 842.0,342.1 920.6,358.6 952.3,138.7 902.8,260.6 791.3,341.0 939.9,314.3 838.7,302.7 831.9,331.4 964.6,351.7 880.0,206.0 969.3,336.0 804.0,344.8 901.0,375.9 917.6,356.6 937.3,340.6 918.3,300.3 926.7,263.3 848.6,336.7 959.9,252.0 844.6,361.1 959.2,358.9 929.8,347.8 887.5,287.1 890.8,374.7 941.8,341.6 880.6,283.9 930.6,363.2 892.6,205.2 995.4,333.6 952.5,293.9 753.2,264.8 883.7,341.5 875.6,332.2 904.8,303.9 888.4,302.4 891.2,303.9 811.9,358.8 920.8,380.6 803.1,363.6 885.5,337.5 809.1,341.4 737.3,354.1 957.5,350.3 865.4,309.3 945.1,362.6 884.4,361.4 971.0,298.2 829.5,356.2 909.2,306.5 850.1,326.8 989.6,325.1 1002.2,271.0 985.3,335.9 946.4,362.0 861.7,350.3 984.9,315.4 990.9,208.6 839.1,259.2 836.1,352.4 949.9,288.3 905.1,279.8 926.3,340.6 943.1,324.1 972.4,370.3 955.5,340.9 878.3,367.2 885.9,292.7 942.9,361.5 859.2,320.2 882.8,342.6 912.8,297.9 868.0,375.7 947.5,325.2 792.8,375.8 981.3,293.7 944.4,333.4 947.2,345.2 854.4,370.6 910.7,342.4 923.1,323.7 933.8,354.4 848.3,342.2 726.4,363.2 980.9,344.2 783.7,352.5 882.6,354.0 882.3,188.9 845.0,379.5 933.0,356.4 957.4,287.7 951.6,224.2 890.1,345.4 909.1,200.2 909.3,273.1 1003.2,190.2 916.1,339.9 619.5,372.8 817.7,367.6 893.7,378.0 964.5,223.3 960.3,333.1 830.9,362.9 946.3,361.2 793.6,323.2 898.7,312.5 852.2,382.3 856.6,370.0 790.3,352.6 892.4,282.2 895.9,293.5 864.7,308.1 946.2,373.6 822.3,335.5 948.9,315.2 873.7,335.7 863.1,384.1 949.8,307.0 767.1,353.1 878.1,265.4 887.8,223.2 894.5,195.7 883.9,372.2 759.1,364.9 1003.4,282.1 895.6,324.3 895.1,365.4 1000.1,330.1 783.1,344.5 800.7,289.2 941.4,330.2 897.7,340.6 761.7,297.5 793.2,287.4 759.6,369.6 930.8,251.4 985.6,306.7 814.4,371.9 779.5,385.8 819.5,370.9 842.7,344.3 861.3,315.9 945.9,362.0 929.7,332.0 948.7,252.5 848.1,273.0 894.4,281.4 842.4,320.6 917.1,310.4 877.6,362.3 930.9,332.0 858.0,328.8 933.9,323.3 834.9,348.4 906.9,318.8 917.0,303.6 858.7,358.7 888.2,346.9 896.5,314.6 943.7,288.9 998.8,275.9 934.6,275.5 915.7,325.8 785.9,354.9 944.6,330.0 855.7,327.6 895.3,337.1 770.1,359.8 885.8,304.8 960.9,315.1 902.3,355.4 781.3,359.4 877.0,315.7 807.6,372.7 947.7,347.8 905.0,357.9 869.4,281.1 852.5,314.4 936.7,191.3 933.5,298.8 826.1,369.3 928.7,361.0 929.0,285.5 858.5,336.5 894.5,325.9 926.6,277.2 908.5,226.1 822.1,369.2 940.3,308.0 663.1,381.1 895.8,333.0 920.1,143.3 782.8,354.1 820.9,346.3 962.9,200.5 904.9,334.9 971.6,331.7 899.9,346.1 862.8,376.4 945.9,366.4 917.5,358.1" fill="none" stroke="none" marker-start="url(#m1)" marker-mid="url(#m1)" marker-end="url(#m1)"/>
<line x1="609.60" y1="377.85" x2="1080.20" y2="272.93" stroke="#0a0a14" stroke-width="2.5" stroke-dasharray="10.1 4.5"/></g>
<rect x="609.60" y="107.20" width="470.60" height="304.10" fill="none" stroke="#444444" stroke-width="1"/>
<path d="M609.60 411.30v3.5M703.72 411.30v3.5M797.84 411.30v3.5M891.96 411.30v3.5M986.08 411.30v3.5M1080.20 411.30v3.5M609.60 411.30h-3.5M609.60 350.48h-3.5M609.60 289.66h-3.5M609.60 228.84h-3.5M609.60 168.02h-3.5M609.60 107.20h-3.5" stroke="#444444" stroke-width=".9" fill="none"/>
<g font-size="10.20" fill="#2c2c2c">
<text x="609.60" y="426.00" text-anchor="middle">0</text>
<text x="703.72" y="426.00" text-anchor="middle">20</text>
<text x="797.84" y="426.00" text-anchor="middle">40</text>
<text x="891.96" y="426.00" text-anchor="middle">60</text>
<text x="986.08" y="426.00" text-anchor="middle">80</text>
<text x="1080.20" y="426.00" text-anchor="middle">100</text>
<text x="603.00" y="415.40" text-anchor="end">0</text>
<text x="603.00" y="354.58" text-anchor="end">2</text>
<text x="603.00" y="293.76" text-anchor="end">4</text>
<text x="603.00" y="232.94" text-anchor="end">6</text>
<text x="603.00" y="172.12" text-anchor="end">8</text>
<text x="603.00" y="111.30" text-anchor="end">10</text>
</g>
<text class="b" x="844.90" y="440.70" font-size="11.85" fill="#0c0c22" text-anchor="middle">AI Adoption Rate</text>
<text class="b" transform="translate(584.60 259.25) rotate(-90)" font-size="11.85" fill="#0c0c22" text-anchor="middle">PRs per Engineer</text>
<text class="b" x="844.90" y="101.80" font-size="12.88" fill="#0c0c22" text-anchor="middle">BALANCED (0.96-1.96 repos/eng)</text>
<rect x="629.30" y="118.80" width="164.60" height="17.90" rx="3" ry="3" fill="#fff" stroke="#1a1a2e" stroke-width="1.4"/>
<text class="b" x="711.60" y="131.15" font-size="11.00" fill="#0c0c22" text-anchor="middle">Average PRs per eng: 3.1</text>
<rect x="929.20" y="369.70" width="131.10" height="29.90" rx="3" ry="3" fill="#fff" stroke="#1a1a2e" stroke-width="1.4"/>
<text class="b" x="994.75" y="382.10" font-size="11.00" fill="#0c0c22" text-anchor="middle">AI Productivity Gain</text>
<text class="b" x="994.75" y="394.10" font-size="11.00" fill="#0c0c22" text-anchor="middle">1.1 → 4.6 (4.1x)</text>
</g>
<g>
<path d="M179.44 467.50V771.50M273.48 467.50V771.50M367.52 467.50V771.50M461.56 467.50V771.50M85.40 710.70H555.60M85.40 649.90H555.60M85.40 589.10H555.60M85.40 528.30H555.60" stroke="#b0b0b0" stroke-opacity=".13" stroke-width=".9" fill="none"/>
<g clip-path="url(#c2)"><polyline points="115.5,705.0 333.1,712.8 325.2,716.4 419.7,577.0 128.0,688.1 422.7,717.8 409.3,638.9 422.2,695.5 301.4,653.6 375.3,707.5 345.8,704.6 426.1,631.1 373.7,671.5 348.1,706.7 337.7,695.7 380.2,577.9 385.3,612.0 381.6,699.5 320.1,661.2 335.2,678.3 410.6,693.2 383.8,650.2 331.1,625.6 394.2,684.1 366.0,714.8 355.3,694.8 263.6,665.7 340.7,583.5 362.4,604.3 302.8,675.2 312.8,595.1 359.4,635.4 327.8,635.4 339.6,699.6 410.9,690.1 407.6,689.3 408.4,628.3 163.7,748.3 439.4,721.0 398.4,567.3 366.6,723.6 455.3,637.8 147.6,675.8 325.1,668.9 404.2,672.8 371.2,701.4 476.7,686.2 251.1,708.6 426.4,717.3 352.0,719.0 414.0,684.8 272.7,715.7 449.2,690.0 367.2,716.6 358.9,701.4 340.6,698.0 85.4,678.5 389.6,629.1 415.9,671.5 346.8,661.5 244.5,584.1 371.7,488.4 372.4,672.1 382.6,683.4 408.2,689.3 365.3,687.8 457.2,675.3 452.9,690.6 402.6,646.9 320.8,640.0 368.8,593.2 287.3,730.4 348.4,730.1 304.9,651.8 447.8,665.6 377.5,696.3 285.3,681.9 338.7,631.0 343.6,634.3 403.4,736.4 396.2,675.6 440.5,628.7 394.8,631.8 359.7,670.0 450.3,717.8 424.0,699.7 375.2,679.9 405.6,697.7 166.6,737.0 349.9,660.3 90.6,682.1 320.6,471.2 338.1,677.0 357.0,629.3 364.6,663.7 462.4,460.8 362.6,664.4 352.4,660.0 429.0,647.7 102.1,580.1 381.3,695.0 381.3,567.4 367.5,665.2 436.9,664.1 436.6,638.1 462.2,666.4 351.8,628.7 398.3,610.0 444.4,609.2 360.5,666.8 341.8,714.4 412.5,732.8 369.2,592.6 369.8,708.8 312.1,628.3 262.2,586.6 281.2,680.3 420.4,523.2 370.1,674.7 275.1,643.9 367.0,699.3 417.3,637.2 364.9,686.7 339.9,684.9 368.7,730.4 343.4,660.3 351.2,718.9 441.6,633.0 456.4,694.8 375.5,734.3 365.5,640.5 417.8,619.3 456.0,672.0 395.6,503.9 373.6,658.6 339.9,661.2 403.7,702.3 192.3,696.7 397.5,612.0 372.0,663.6 429.0,628.5 198.6,654.4 442.8,687.0 303.5,717.2 393.3,609.7 396.6,665.1 386.8,617.8 260.6,657.8 449.9,688.8 342.7,666.5 355.9,616.0 316.3,606.3 313.7,662.9 318.0,708.2 171.5,669.3 399.6,700.6 309.3,649.8 99.1,693.1 425.9,685.6 300.5,619.7 406.9,595.1 370.6,686.8 343.0,712.9 91.1,686.2 479.8,647.2 378.4,649.5 436.2,579.1 231.4,610.7 439.3,673.0 357.9,696.3 297.7,640.8 343.5,673.7 403.5,699.2 387.8,675.3 409.4,718.1 377.4,637.9 374.0,662.1 336.6,616.1 426.6,475.6 372.7,485.8 372.0,573.8 432.2,714.9 279.0,669.3 296.0,667.7 416.9,597.3 422.5,679.7 381.6,738.7 347.5,726.6 479.8,503.5 381.6,577.6 276.1,679.4 365.5,706.8 333.6,662.7 462.4,647.6 345.4,497.3 282.9,693.1 430.4,603.2 335.0,708.3 436.2,680.3 357.2,669.9 352.0,609.5 121.0,682.3 280.3,676.2 368.6,625.2 437.5,647.9 346.3,652.1 338.2,701.5 377.3,667.4 362.0,689.3 349.9,619.6 285.9,691.7 355.8,643.5 168.7,620.4 96.8,685.7 392.4,701.4 459.4,717.4 363.5,647.3 90.5,672.9 469.2,623.8 363.3,687.7 274.3,685.2 426.5,606.4 285.0,691.9 416.6,642.6 349.8,684.9 432.5,709.3 346.8,700.4 312.2,566.1 343.2,718.9 391.4,686.9 406.1,654.5 292.0,689.6 354.0,671.2 306.3,670.8 353.2,655.1 354.0,658.2 92.1,671.6 377.5,687.9 314.4,651.0 375.5,524.0 353.6,696.5 367.7,657.3 427.3,630.2 411.9,646.7 367.5,713.8 454.4,612.7 124.1,652.1 353.6,668.8 408.2,614.9 391.7,680.0 427.9,583.4 406.8,664.3 415.5,638.2 410.9,630.5 270.1,638.7 375.4,606.2 473.5,647.3 366.3,547.9 373.3,673.7 334.7,661.2 356.0,655.4 336.9,672.4 359.5,701.1 443.7,672.0 440.1,651.1 353.1,646.7 357.7,716.3 321.1,677.9 362.9,553.0 347.0,487.1 420.0,641.6 392.2,642.0 334.0,677.6 428.9,537.8 398.1,693.4 349.2,686.4 366.9,652.1 341.5,624.1 441.3,635.3 441.2,696.8 372.0,713.8 390.4,662.7 314.2,671.4 253.1,737.9 399.6,480.6 274.0,637.4 381.4,623.9 388.1,546.6 346.8,683.5 335.7,704.8 436.0,670.8 396.8,647.2 399.4,600.6 292.4,646.0 492.0,697.4 327.8,671.0 395.2,685.1 97.7,680.0 337.1,618.1 460.0,619.8 440.1,521.8 385.7,663.7 431.0,618.5 318.5,578.8 396.7,715.7 321.9,711.0 380.7,640.9 397.6,641.5 240.8,603.7 364.7,572.4 438.1,707.7 128.2,738.1 337.2,681.2 168.2,660.1 367.7,689.5 321.6,612.7 402.5,725.8 322.6,476.1 330.5,721.9 362.7,657.6 390.0,692.7 398.4,715.2 390.4,704.0 392.4,659.8 382.4,472.1 405.4,640.3 408.6,661.1 368.4,488.1 358.7,513.1 194.8,720.6 367.3,647.4 91.9,696.9 453.7,670.3 296.5,720.3 353.2,667.4 349.8,560.0 355.9,564.7 165.2,639.2 490.2,689.9 424.1,687.0 386.8,681.8 369.0,621.6 295.7,683.8 368.2,686.8 409.7,631.6 329.4,683.3 440.3,711.8 316.1,679.2 380.6,667.4 326.6,650.9 383.4,643.1 427.9,677.7 261.4,703.6 132.3,687.3 292.3,677.9 359.5,670.5 247.9,713.9 311.0,719.0 360.2,503.3 417.1,727.1 419.7,696.4 391.7,562.4 318.9,688.1 319.8,628.8 443.2,717.5 344.2,646.9 389.7,704.2 247.2,691.3 378.0,643.3 329.3,629.5 370.6,645.7 442.7,628.9 365.9,566.7 198.1,600.9 383.1,581.1 306.8,627.7 368.8,590.0 205.2,732.8 337.3,664.4 448.7,615.6 360.8,697.5 379.3,519.2 449.3,701.8 393.7,526.0 360.0,622.7 220.5,683.4 358.0,675.4 320.5,682.1 300.0,695.5 246.1,660.8 344.8,721.4 381.9,681.8 352.5,571.7 464.5,692.2 434.2,651.6 474.2,717.0 441.7,581.6 353.4,679.3 353.5,730.5 416.9,722.2 412.9,567.7 301.8,649.3 389.2,678.8 352.0,649.0 409.5,654.4 234.7,602.4 349.0,694.7 391.9,649.3 424.0,708.5 362.7,664.3 306.9,702.0 442.4,689.8 295.0,671.2 384.3,690.8 431.0,671.4 133.1,643.8 267.2,710.2 366.1,676.2 357.1,698.5 364.9,523.3 357.5,589.7 378.9,598.7 406.9,687.5 428.7,657.3 361.6,713.0 370.8,604.2 405.1,717.4 149.6,708.5 336.1,613.2 299.3,707.7 351.8,632.2 388.3,733.6 380.8,604.1 462.8,664.7 313.6,463.7 419.6,635.7 390.3,670.4 353.5,613.6 349.0,715.3 453.1,661.0 340.6,656.3 414.5,672.3 386.0,700.2 410.6,481.3 334.4,718.9 414.1,655.1 331.9,636.8 317.8,629.7 330.3,483.3 195.9,677.0 123.3,662.0 407.8,586.7 325.0,648.4 391.0,729.5 390.8,645.2 402.1,603.1 461.2,604.6 421.4,730.6 405.3,679.6 253.2,574.1 354.2,698.5 390.1,603.3 390.0,732.1 425.4,515.5 408.5,679.0 433.0,633.7 355.7,619.7 402.8,482.0 485.8,703.5 418.6,638.2 400.8,657.0 387.3,670.6 328.8,718.3 247.0,638.9 401.7,568.8 343.5,683.1 375.9,568.6 481.2,647.2 396.4,714.6 382.1,592.1 378.9,674.8 325.5,537.8 305.5,703.5 481.4,625.3 360.8,691.0 357.6,721.3 380.3,700.8 290.1,636.2 272.3,716.2 339.7,689.8 370.9,704.8 328.4,603.2 404.6,578.7 386.2,673.2 360.0,677.3 338.6,674.1 415.2,718.3 362.3,652.8 343.3,591.9 384.2,643.0 395.9,572.8 314.2,709.4 448.6,597.7 424.8,717.2 363.6,691.0 367.9,619.9 137.8,666.2 480.6,566.6 339.7,662.0 372.1,609.4 422.7,616.0 401.3,705.5 464.8,625.8 429.9,644.7 413.3,653.6 437.3,673.2 381.3,652.9 207.5,711.5 421.7,611.0 491.3,536.0 416.6,634.5 386.1,698.8 228.1,746.5 412.3,653.0 384.9,680.6 368.6,641.4 404.8,701.3 364.1,703.5 351.3,730.4 422.9,565.1 341.7,681.0 466.7,547.5 409.2,688.4 283.4,655.1 381.7,624.3 473.4,732.0 364.9,651.6 481.0,693.9 451.4,683.5 332.7,694.1 379.9,619.0 344.5,682.2 396.7,675.1 391.3,580.4 342.7,674.9 334.8,652.9 329.4,669.3 299.5,712.1 422.7,626.8 359.7,728.7 279.1,729.5 368.3,607.1 349.0,649.7 139.3,687.4 401.8,678.1 291.2,729.1 351.2,711.4 395.6,691.0 313.7,688.3 494.8,577.7 366.6,683.8 420.2,670.6 325.3,685.0 397.9,690.0 347.1,695.5 467.0,661.4 324.2,685.3 435.1,586.3 418.7,697.2 348.4,540.7 372.4,622.0 407.2,572.4 447.6,662.8 281.5,662.3 384.4,672.4 358.2,586.4 298.4,665.7 427.1,694.3 410.1,660.1 402.6,640.1 323.5,726.6 477.1,625.6 375.1,643.6 387.7,545.3 432.6,673.2 388.6,506.7 408.2,650.5 416.9,506.7 116.2,647.3 359.9,673.4 322.9,700.6 399.8,713.5 388.1,613.1 275.9,685.7 406.5,696.8 489.3,566.9 447.5,692.6 154.3,643.5 395.6,658.5 395.4,682.2 284.0,739.6 355.4,707.8 276.5,703.9 337.7,638.8 415.9,710.7 348.2,657.8 363.6,709.5 346.6,624.2 351.1,688.5 347.3,681.5 314.8,648.1 351.2,627.6 402.0,715.9 312.4,672.7 473.8,648.9 304.9,667.8 413.7,662.1 455.0,547.8 399.6,715.4 316.6,683.3 399.8,728.8 351.9,694.6 192.2,674.4 181.9,664.5 390.8,703.5 394.2,716.9 391.7,666.5 365.3,626.3 414.0,625.9 335.3,655.5 306.8,694.6 257.0,699.5 421.8,687.9 403.1,594.9 154.5,731.4 378.8,519.2 377.4,702.6 404.9,724.8 340.0,702.8 427.1,654.1 385.0,558.0 402.2,670.4 433.0,621.7 252.7,743.7 220.4,616.7 361.6,659.2 479.4,709.0 321.4,671.2 382.2,519.9 449.4,682.5 423.9,715.1 414.6,729.3 430.2,664.7 456.5,677.6 350.2,519.1 438.0,646.0 357.5,695.1 342.1,696.1 390.9,557.2 178.6,727.8 370.3,691.7 419.2,546.4 339.4,682.6 392.6,698.4 426.5,675.0 413.0,657.8 317.6,715.8 396.1,657.4 127.8,687.8 337.9,654.6 304.8,638.9 372.3,679.0 290.3,695.7 412.3,724.5 474.5,712.2 416.7,708.5 225.2,695.1 410.4,711.5 427.5,609.0 425.2,635.9 356.9,656.9 279.6,694.3 386.5,717.3 289.0,695.7 323.8,700.2 396.3,723.0 412.9,684.6 383.8,678.3 377.0,656.2 404.8,728.7 419.5,673.1 320.2,704.8 370.4,694.5 323.7,697.0 413.7,675.5 240.7,561.6 311.0,653.3 473.8,591.5 338.9,630.4 419.0,710.2 422.4,458.9 123.0,657.6 334.5,721.3 142.6,678.1 196.4,631.5 386.7,743.3 294.2,615.2 459.4,496.9 449.2,619.7 327.4,637.0 88.1,684.6 360.8,692.4 179.5,699.3 238.6,656.2 281.1,613.3 197.6,641.3 272.3,674.8 343.3,703.7 331.9,680.2 322.4,618.9 399.1,623.0 327.8,652.2 354.7,661.0 289.4,643.4 421.3,664.0 378.1,668.6 316.2,671.0 452.2,575.8 376.9,660.0 299.0,724.5 231.5,651.5 351.2,630.8 272.4,718.7 342.5,615.9 374.0,687.1 383.2,641.4 298.1,673.8 313.7,652.9 432.0,510.0 396.5,671.6 322.4,685.4 309.3,711.8 356.2,647.9 325.2,469.7 257.3,586.6 441.2,655.6 469.2,594.7 307.9,689.4 305.7,713.3 388.2,618.4 410.3,587.0 348.5,546.2 331.5,600.6 372.9,708.8 418.5,710.5 336.0,698.1 381.9,534.9 445.3,646.4 394.5,634.2 387.3,684.9 394.5,659.0 412.0,657.2 211.2,704.6 311.7,711.3 308.4,723.6 405.9,663.9 455.5,670.5 387.5,706.7 377.9,639.5 129.9,591.1 241.0,652.1 478.7,592.8 209.8,682.8 463.0,682.9 394.7,706.8 391.1,736.9 356.7,669.9 240.8,705.1 377.7,622.0 392.9,702.0 393.8,651.0 452.6,531.1 380.6,679.5 121.1,523.4 311.1,472.0 386.8,715.7 369.3,626.7 281.0,667.9 362.5,706.4 243.3,507.9 408.5,683.9 322.8,705.6 327.0,722.7 266.9,608.1 426.3,655.4 172.9,645.6 385.1,626.7 446.8,601.9 161.6,639.0 364.7,595.0 455.5,702.0 359.7,692.5 372.4,685.9 399.6,671.1 409.0,720.3 415.3,612.0 453.3,637.2 350.9,587.8 402.4,690.8 406.1,562.7 348.2,718.1 383.1,724.9 425.6,686.7 422.8,669.9 302.0,632.0 373.1,670.2 323.4,636.1 291.7,685.8 398.4,628.9 315.4,656.1 453.9,652.5 455.4,644.2 325.6,721.1 313.7,713.7 296.4,683.5 258.8,644.1 358.6,725.4 404.2,680.9 436.6,696.0 344.8,696.3 347.2,535.7 335.2,557.9 362.6,670.6 358.5,582.9 439.6,491.9 395.6,722.4 390.1,665.6 405.6,683.3 327.2,621.6 393.2,574.4 437.3,638.8 368.8,621.1 365.7,736.1 353.3,649.4 395.6,677.7 313.2,669.5 383.0,663.7 207.4,718.5 475.9,726.8 376.6,678.0 388.8,675.3 470.6,647.7 229.2,668.6 296.4,512.8 392.3,693.4 337.6,710.6 341.8,715.5 382.7,675.6 326.8,551.4 337.5,674.8 411.9,682.7 383.8,668.5 441.7,659.4 394.1,457.6 350.7,684.7 372.9,681.6 314.3,645.4 402.7,633.6 355.4,672.9 326.7,704.6 373.4,677.1 359.1,594.6 405.5,710.3 331.4,615.6 428.1,631.5 91.2,691.7 391.8,703.9 436.8,679.5 365.1,694.3 347.6,637.9 429.8,703.4 250.2,566.7 406.5,702.6 422.0,462.7 366.0,686.8 395.7,565.4 331.2,630.3 410.7,666.9 287.2,688.0 388.2,663.6 398.1,504.8 368.7,646.7 329.8,677.1 369.7,541.5 304.5,677.2 282.9,701.4 361.3,670.5 312.8,661.1 387.6,598.3 110.6,605.1 384.4,661.1 442.5,667.5 447.1,665.2 430.9,695.3 428.8,639.1 411.7,676.6 417.5,672.8 450.3,587.8 405.5,587.1 368.9,479.1 441.2,728.8 503.1,571.6 349.0,566.4 160.1,725.7 472.6,712.3 265.8,567.6 401.7,707.7 366.3,685.0 426.2,621.0 306.7,704.6 268.3,668.9 341.6,682.2 445.6,698.4 477.3,677.2 360.9,694.4 411.6,660.2 251.1,707.9 437.6,627.9 397.1,730.5 369.2,678.0 432.9,650.3 341.8,705.2 385.4,709.1 325.5,686.4 390.7,698.1 384.6,611.3 434.3,687.4 481.5,682.6 337.1,660.1 321.1,603.9 423.0,654.9 313.9,507.5 394.3,670.6 373.1,653.3 341.6,694.5 94.2,681.3 446.7,678.3 447.3,646.0 370.4,609.2 295.7,722.4 379.5,689.0 324.5,674.8 322.1,548.7 462.9,650.7 377.4,667.3 398.7,699.7 105.3,659.7 352.5,617.1 391.9,650.8 416.3,665.1 468.7,661.1 377.3,653.0 335.9,728.9 331.9,667.3 312.2,649.6 204.8,691.2 488.5,688.1 323.7,718.0 88.4,678.5 298.3,670.0 412.2,686.7 142.2,683.0 353.9,690.9 146.0,568.6 366.9,598.2 87.2,677.9 416.6,545.4 403.7,681.1 340.1,732.0 388.1,710.5 210.8,701.3 447.3,614.7 370.9,646.1 350.4,694.5 315.5,693.3 395.7,666.9 358.7,700.4 350.5,515.8 466.9,643.0 307.8,689.6 355.2,577.4 470.6,641.0 439.6,665.3 212.2,722.7 396.2,708.3 369.2,631.5 226.9,592.7 366.7,709.1 344.7,621.8 405.4,649.9 398.5,664.7 341.9,732.4 432.7,670.1 410.0,663.4 355.2,635.3 367.3,633.3 406.0,598.0 228.5,704.7 403.0,688.1 408.5,619.3 374.0,619.0 355.7,673.1 335.9,706.7 339.0,714.7 373.7,616.5 367.9,498.3 496.0,650.1 366.8,659.3 436.0,555.6 284.8,637.4 347.3,713.5 389.3,634.8 384.9,707.0 419.3,685.4 363.0,664.4 419.3,719.4 234.5,730.0 363.5,708.1 285.6,468.9 388.3,573.6 400.3,704.2 339.0,678.7 326.1,686.7 205.9,617.6 415.7,612.4 308.0,664.3 432.0,679.7 250.8,689.5 421.1,706.0 337.5,709.2 429.2,647.4 390.5,643.0 190.9,705.4 421.3,658.3 391.2,699.3 412.8,702.5 435.7,548.1 397.3,707.0 402.1,679.7 391.0,656.5 373.5,655.9 371.6,631.9 106.8,572.2 396.2,674.4 273.5,707.8 409.3,514.2 357.2,717.9 113.1,636.3 267.2,640.2 351.6,683.9 454.1,676.0 398.2,575.9 433.6,561.9 315.0,691.8 276.6,674.7 432.0,690.3 314.1,559.9 105.1,644.3 299.2,676.4 243.8,722.2 337.7,617.4 456.7,704.4 300.6,615.3 492.0,670.9 401.3,593.3 357.5,646.6 410.3,688.8 415.8,614.7 363.2,570.4 366.7,566.6 408.7,635.4 326.7,680.1 428.3,738.0 288.2,687.4 434.5,577.7 380.9,696.7 310.9,697.7 289.1,604.4 333.3,686.0 410.2,646.6 116.2,626.9 386.2,602.4 453.2,639.8 374.6,696.4 429.3,712.0 447.0,469.1 301.7,708.8 277.0,620.5 333.6,659.2 401.8,496.5 423.9,718.2 396.8,684.6 299.9,712.3 291.4,709.4 379.5,709.7 393.8,591.4 429.3,699.0 452.8,695.5 261.0,639.1 250.2,753.1 382.4,652.2 414.5,654.6 380.8,535.6 272.9,603.0 389.8,709.0 438.7,690.9 255.8,697.5 355.6,603.0 450.2,697.0 222.8,711.6 359.6,654.0 269.8,702.6 173.4,627.2 388.1,579.0 221.0,733.2 373.7,638.5 386.4,654.5 364.6,613.5 420.4,721.9 394.1,686.8 311.6,721.1 481.1,706.9 441.9,651.4 416.8,598.6 340.1,674.6 336.7,691.1 388.7,735.0 254.1,666.1 352.4,532.9 363.7,691.6 343.7,708.7 354.4,662.2 444.3,641.1 364.8,621.1 184.8,638.9 328.0,661.7 423.2,592.1 288.9,672.8 386.5,606.6 425.7,591.5 348.2,624.8 306.2,716.8 340.0,661.5 258.4,654.4 252.7,698.9 360.2,638.5 422.9,710.4 395.1,587.8 354.9,611.1 451.0,679.1 403.3,583.2 465.8,646.3 416.8,670.5 381.5,718.9 486.6,732.5 209.6,716.0 369.2,588.2 168.0,694.3 113.8,693.2 393.5,733.4 399.5,696.7 303.5,711.9 363.7,473.7 351.0,554.9 378.2,693.9 423.8,634.7 368.6,644.6 194.9,721.1 329.2,720.6 407.4,654.2 388.8,681.9 306.2,601.9 422.2,711.3 172.3,667.6 388.4,669.1 356.8,672.7 361.9,675.5 379.7,671.9 262.5,693.4 246.5,720.7 338.3,723.6 279.5,726.6 378.9,677.8 277.2,613.7 231.2,720.6 345.1,707.9 371.5,660.9 307.4,693.2 330.5,651.9 183.5,733.9 403.7,613.9 424.7,689.1 380.2,717.6 359.5,697.1 345.0,540.6 388.1,654.7 86.7,690.2 377.8,688.6 228.2,717.3 383.9,654.5 307.8,698.4 369.2,657.7 374.5,702.4 441.4,556.4 262.9,708.3 447.3,686.1 120.5,648.6 391.0,683.3 377.5,686.7 337.8,522.7 324.1,687.5 387.4,670.0 414.1,628.9 427.4,646.8 171.8,687.2 380.4,672.9 480.1,664.8 346.7,680.9 380.8,652.2 398.3,720.2 442.4,546.2 451.5,694.6 372.9,676.2 209.6,705.9 311.3,631.2 288.6,675.4 350.0,680.6 174.0,527.6 347.8,687.1 417.7,635.3 405.3,721.2 389.3,499.9 441.0,520.3 334.1,538.0 142.4,678.6 414.4,710.7 457.7,639.0 371.4,649.4 256.0,557.5 389.1,631.0 396.4,637.3 294.1,675.3 396.9,640.4 347.3,683.4 454.9,580.3 346.5,701.9 258.1,714.7 475.6,573.6 361.5,726.5 348.8,607.4 356.4,641.4 312.4,630.4 417.4,617.0 420.9,525.4 373.9,688.3 427.5,670.9 451.2,547.9 334.8,710.7 368.8,585.5 374.3,666.3 153.9,720.5 253.4,646.5 424.4,719.3 436.6,676.4 369.1,630.7 334.4,530.5 369.2,652.5 332.9,557.3 398.9,624.0 338.2,678.6 418.2,647.9 429.9,634.9 93.6,682.8 249.5,673.3 377.0,672.7 384.2,655.8 409.8,695.9 355.0,676.3 340.6,617.7 97.4,689.3 332.2,707.7 182.2,615.5 448.8,588.9 355.0,708.1 465.6,563.7 127.6,732.5 314.5,726.9 399.5,682.9 406.0,653.8 355.3,687.0 399.7,612.6 414.7,474.8 431.5,614.5 352.8,724.1 361.4,584.1 396.1,716.7 289.2,700.8 348.7,710.6 446.7,664.5 361.3,616.2 309.2,626.1 392.7,719.0 307.4,649.8 378.8,713.5 373.7,510.3 443.1,628.7 326.4,620.1 417.4,556.3 415.0,584.1 337.0,698.7 370.8,705.0 98.4,686.0 228.5,684.4 397.1,621.6 339.2,640.4 348.2,690.8 383.1,708.7 410.3,564.0 373.6,697.3 376.8,652.7 407.4,692.8 415.5,657.7 246.9,709.2 269.1,701.8 443.6,491.9 366.6,683.1 411.3,532.9 380.1,662.2 411.1,534.3 395.4,659.9 453.1,711.0 380.5,724.0 405.6,629.3 375.4,692.2 309.9,695.6 388.9,602.5 309.8,665.2 365.7,683.7 328.3,662.2 409.2,529.9 290.6,665.5 385.2,669.4 374.2,727.9 301.5,642.6 293.4,627.6 355.7,666.0 384.2,686.7 444.6,687.1 218.3,677.9 297.5,646.4 359.6,616.1 349.1,679.3 436.1,674.3 419.2,672.7 383.9,647.1 334.6,712.5 326.4,692.9 420.1,699.1 345.1,602.2 382.2,681.4 367.2,704.8 464.9,700.9 412.7,737.6 303.1,671.5 426.7,680.0 457.0,703.2 381.7,689.1 305.5,674.5 409.0,695.5 393.7,668.1 284.8,676.1 488.2,643.6 381.3,679.6 230.1,740.8 386.6,703.2 360.6,720.9 236.8,657.9 383.9,663.7 399.8,652.7 447.9,550.6 90.2,676.3 355.3,696.7 452.7,655.6 319.5,692.2 364.8,639.2 360.7,671.5 256.2,649.4 417.2,572.4 408.2,712.7 376.6,692.2 461.8,510.0 407.2,652.6 396.2,692.3 323.0,668.8 321.2,634.6 468.2,727.3 251.9,639.2 374.4,501.6 197.5,598.9 360.1,742.6 364.7,710.3 346.6,574.0 253.1,736.9 374.8,647.0 456.6,593.4 277.1,677.6 358.1,672.6 322.8,656.5 287.2,662.8 363.1,669.5 294.1,710.2 248.7,735.5 468.5,487.3 430.9,635.5 276.4,703.0 423.2,713.3 283.2,547.5 382.8,579.1 336.6,678.0 381.6,710.1 328.1,636.9 384.0,701.5 377.1,706.6 346.4,636.1 355.6,678.6 343.4,714.6 110.5,718.4 283.1,707.9 451.3,639.1 357.8,726.7 264.4,740.5 418.8,662.0 339.1,607.1 478.3,685.0 217.6,746.4 272.5,617.9 329.2,699.3 432.8,677.6 213.1,686.7 327.1,685.0 378.2,663.9 378.9,692.8 452.2,634.7 365.3,638.7 131.7,594.9 367.0,683.8 418.2,730.8 395.0,617.3 299.4,696.1 330.2,633.8 400.3,631.4 452.5,512.1 355.9,610.1 411.3,643.5 253.2,668.1 392.5,660.1 241.7,721.4 402.6,733.1 461.1,656.8 373.8,649.5 274.0,571.9 347.5,602.6 331.0,683.1 408.0,652.2 484.7,649.6 325.9,683.7 231.4,624.6 160.5,670.1 392.4,723.5 340.8,608.4 393.2,499.8 412.9,688.6 465.9,607.3 325.4,685.8 410.2,540.5 188.2,648.1 396.2,522.2 314.3,728.8 420.3,695.9 407.1,619.2 377.1,632.7 372.5,705.3 377.1,686.1 356.6,676.6 432.8,692.2 407.6,668.9 428.3,606.0 321.4,720.1 419.0,728.2 149.3,523.0 432.7,659.7 207.7,710.9 434.5,640.7 395.7,687.7 444.9,504.2 342.7,662.9 393.0,693.1 327.4,705.3 410.3,679.3 398.5,594.1 340.6,643.2 317.2,690.6 328.3,700.8 415.6,712.2 471.9,717.7 447.2,617.1 314.4,647.5 403.7,711.9 375.2,680.8 450.2,658.3 360.1,576.0 336.3,702.3 285.2,499.0 364.8,704.5 351.7,664.6 384.5,686.0 306.5,729.8 410.3,667.2 385.1,707.2 390.9,678.2 421.9,497.0 298.4,651.4 177.3,644.3 381.6,647.8 394.5,625.6 421.6,639.0 319.5,711.0 358.5,634.6 347.4,714.0 138.1,677.4 444.9,672.4 421.4,706.5 407.1,711.0 278.4,758.5 262.1,600.1 430.3,678.7 301.7,664.0 344.7,600.9 416.2,710.3 101.4,682.7 390.1,678.1 419.3,683.7 394.0,536.2 262.7,644.2 90.8,674.9 348.3,637.4 390.1,603.4 326.2,634.3 421.3,578.8 407.3,594.0 308.2,648.2 325.6,666.2 410.8,700.5 424.6,744.8 387.5,680.9 358.5,636.0 91.9,694.6 351.9,651.9 287.8,569.6 97.5,678.8 261.5,476.3 374.2,578.6 451.4,663.0 376.8,681.7 275.0,676.7 192.9,636.7 324.4,672.0 351.9,680.3 350.5,628.5 162.9,719.8 426.6,642.2 442.5,559.1 391.5,611.3 401.2,655.5 428.7,683.5 347.3,685.3 101.2,624.8 476.3,542.7 363.4,716.6 403.9,713.5 409.1,681.7 471.6,537.7 102.1,466.4 418.9,615.0 257.5,628.3 396.7,625.9 245.0,693.8 322.2,736.2 393.9,709.6 291.0,660.5 448.9,700.9 294.1,728.9 347.3,659.1 499.6,620.6 275.9,651.9 342.0,644.4 409.7,667.0 335.5,623.7 420.6,572.9 330.2,617.5 306.2,657.2 429.0,611.5 363.7,718.7 270.5,667.1 416.7,685.8 390.8,668.1 357.5,705.1 313.4,675.5 363.2,653.5 390.4,499.2 174.9,565.3 372.3,648.8 384.2,681.3 372.7,622.9 341.5,658.9 388.5,686.1 173.0,623.8 362.1,635.0 397.2,708.3 364.6,684.7 356.6,719.0 375.8,687.7 487.4,656.9 367.4,638.9 270.3,602.9 385.5,695.7 323.6,659.1 257.7,690.6 425.0,582.4 370.7,734.8 460.8,612.6 263.6,539.5 409.0,677.1 399.4,641.9 350.9,703.3 378.0,702.4 420.2,639.7 332.7,699.8 411.9,641.2 268.5,718.9 340.2,673.9 444.7,677.1 358.1,674.0 349.9,673.4 361.1,635.9 349.8,695.1 361.9,593.7 406.2,701.9 457.1,568.3 311.9,674.3 337.7,660.2 433.1,651.7 306.8,670.3 323.2,719.7 343.9,684.4 129.3,701.3 331.3,581.3 413.4,718.2 290.9,709.3 306.6,711.8 394.7,712.4 411.9,676.4 366.6,676.2 364.6,709.1 484.4,693.2 407.7,633.3 368.6,670.4 392.1,657.2 144.5,626.1 98.2,688.7 483.3,685.6 450.2,672.8 402.2,615.6 313.0,579.4 506.9,537.3 416.3,715.2 388.4,583.2 275.9,657.9 349.9,550.7 399.0,716.6 354.0,687.4 98.3,698.1 340.5,653.6 363.7,715.1 372.8,742.6 366.4,664.4 365.7,671.7 376.1,710.2 394.1,656.3 386.0,711.0 451.0,716.0 409.3,541.4 274.1,675.9 379.7,655.9 391.3,687.8 380.8,709.9 471.5,675.6 398.8,660.8 272.8,702.7 383.4,657.7 354.2,723.5 354.2,682.8 340.6,724.0 247.3,733.0 326.6,726.8 130.8,703.3 439.8,643.3 354.7,640.6 363.3,687.4 419.5,682.7 416.0,631.1 378.5,660.8 333.3,681.8 109.7,645.5 293.8,714.3 241.6,641.9 386.6,714.1 320.1,720.7 308.1,540.8 341.2,699.6 344.9,575.7 386.6,687.5 386.2,690.4 282.5,653.9 264.0,719.5 419.7,600.5 436.8,599.8 198.5,618.1 423.0,669.7 423.6,658.0 301.6,727.3 429.6,677.0 321.8,647.0 296.0,693.0 220.6,627.2 413.2,630.0 268.7,707.1 417.1,680.7 359.9,684.1 384.8,708.9 410.1,634.0 361.9,629.4 381.4,532.2 371.8,665.7 268.2,729.4 456.9,649.1 293.3,689.0 88.4,693.3 299.8,700.8 375.8,716.0 375.3,673.1 376.6,652.8 442.0,686.7 397.9,697.7 333.5,631.4 266.1,698.0 366.8,599.3 352.8,633.3 316.9,686.6 400.0,553.7 386.1,687.6 379.6,633.1 126.3,699.8 450.8,596.3 391.8,632.8 379.0,675.2 301.8,637.5 277.1,596.8 352.1,667.5 338.6,715.3 310.8,576.4 114.7,645.9 393.0,492.9 393.7,713.5 261.3,715.9 430.5,698.3 319.5,714.1 321.1,643.4 376.3,601.7 371.8,694.1 403.9,569.8 421.6,701.0 318.2,722.1 366.1,655.7 254.3,698.7 163.7,659.5 321.9,668.5 321.1,612.2 389.1,673.1 423.6,614.7 201.9,701.8 365.4,672.3 422.5,725.4 229.6,627.2 285.1,664.0 421.0,611.6 256.2,710.1 432.0,661.7 444.5,615.8 392.3,657.8 394.6,679.3 406.0,494.2 341.3,631.4 138.3,704.5 428.4,506.8 337.0,653.6 433.7,618.9 302.2,706.2 364.1,675.8 369.9,635.5 435.5,706.6 383.5,603.0 391.3,687.4 468.2,719.6 367.6,652.8 345.4,613.7 388.4,618.2 306.9,730.7 385.1,657.1 317.1,689.6 398.8,702.6 85.4,680.5 364.2,638.4 328.8,669.2 469.7,521.2 241.3,720.3 385.0,633.4 101.4,637.4 410.6,465.3 321.5,723.7 406.9,710.4 211.0,692.6 282.5,666.6 350.4,639.9 241.8,707.5 412.4,630.1 255.8,699.5 352.7,654.4 395.8,688.6 390.3,715.2 430.0,694.7 318.6,693.1 402.4,660.6 434.9,590.9 275.3,702.5 341.5,706.5 195.7,526.8 380.0,635.1 344.1,622.3 375.0,657.4 284.2,732.9 366.2,720.3 387.5,719.0 261.6,721.9 383.0,711.2 311.8,652.0 382.6,716.4 343.4,694.8 420.6,666.0 417.0,675.0 462.9,579.5 381.2,609.3 417.3,640.1 134.3,748.0 402.5,711.9 226.5,606.6 405.1,546.6 345.1,729.3 311.1,667.7 397.9,650.9 465.6,671.1 336.8,687.1 476.7,479.5 408.8,682.8 314.4,689.5 354.1,700.7 319.9,709.0 403.8,693.8 338.1,700.4 402.3,688.2 387.4,615.5 333.6,728.5 388.2,634.8 344.0,670.8 408.5,707.4 270.8,660.0 428.6,721.7 362.9,573.8 367.7,641.4 422.2,661.7 397.0,599.6 421.0,673.5 422.7,680.9 380.4,625.4 364.7,500.8 427.7,642.0 312.1,623.4 298.4,631.6 288.3,681.5 361.3,619.9 361.1,686.5 382.0,630.9 463.3,654.8 432.2,650.3 438.5,704.9 403.2,670.9 419.1,699.6 403.9,656.6 362.7,652.0 376.3,642.6 399.8,638.9 328.9,657.9 348.5,679.4 370.1,504.0 307.1,708.1 394.2,655.6 434.6,721.9 360.5,635.4 399.3,663.7 412.6,595.6 360.5,474.9 416.6,653.3 345.4,691.5 370.7,606.5 123.3,666.0 287.3,638.0 350.8,680.8 399.8,690.1 336.3,660.9 428.1,666.5 407.5,618.1 372.9,589.5 210.1,732.2 322.3,609.8 438.6,688.8 280.5,723.4 287.6,721.0 472.2,670.8 393.4,658.7 135.4,692.2 418.9,678.0 430.6,535.5 448.7,635.4 363.7,645.8 289.5,649.7 336.1,551.2 391.0,625.8 384.3,690.5 392.6,696.4 367.7,699.7 336.0,730.2 333.1,651.4 466.5,673.0 373.2,690.9 233.7,690.9 406.0,564.8 88.4,690.0 363.8,680.6 378.0,644.8 278.3,716.3 404.4,675.2 344.3,689.7 325.1,689.1 410.2,538.4 338.4,609.1 334.4,730.2 388.6,650.6 343.7,657.0 444.3,704.3 349.9,682.3 285.9,707.9 246.3,699.8 405.6,703.8 308.6,573.5 318.4,662.7 357.2,598.3 373.1,686.0 324.9,689.2 435.8,685.4 452.9,734.1 329.2,721.9 441.2,640.0 221.2,716.0 372.9,697.7 349.2,554.8 227.0,718.6 447.4,674.8 404.7,649.1 502.4,648.6 398.2,533.0 404.1,675.3 395.6,663.6 345.4,477.6 379.9,676.0 436.3,663.3 413.5,729.2 352.7,704.0 303.5,662.1 372.8,502.9 211.5,648.1 381.3,714.6 312.9,692.9 419.4,663.3 402.3,594.7 401.9,647.4 460.5,700.6 329.5,613.8 406.9,574.6 464.9,533.1 479.9,659.6 392.8,661.6 327.6,545.2 472.3,711.3 378.7,739.2 355.0,710.3 307.5,660.5 385.4,553.6 480.2,501.7 351.1,714.6 381.5,622.1 434.4,661.3 434.7,675.3 366.5,673.8 449.1,691.0 407.6,713.4 127.5,733.4 368.2,709.4 377.8,720.0 300.6,613.2 411.2,728.3 425.6,705.4 433.8,663.7 261.1,680.6 451.0,688.3 305.8,711.3 384.9,511.6 472.2,664.6 416.4,684.4 375.6,639.1 122.1,678.3 357.6,667.1 263.2,643.4 441.1,595.1 348.1,689.1 335.3,694.8 343.6,638.3 239.3,701.3 350.7,665.1 352.7,648.7 329.8,658.9 306.7,682.9 258.8,730.9 296.8,541.6 331.5,696.8 412.8,624.7 438.3,672.5 345.7,692.3 389.1,667.2 393.4,710.2 384.1,669.9 400.3,666.8 353.9,680.4 340.3,601.8 376.5,681.8 391.8,661.3 446.2,594.5 307.0,709.2 366.4,715.4 359.9,596.1 413.4,683.6 393.6,623.8 428.3,617.9 375.2,577.1 349.6,694.9 339.9,618.9 289.4,686.8 360.7,515.8 417.6,683.2 341.8,696.4 288.5,713.8 338.5,612.0 98.3,673.6 380.5,720.6 438.1,650.8 433.0,625.0 344.7,719.5 444.4,632.7 346.6,657.8 416.6,730.7 464.4,743.4 360.5,554.8 325.0,695.2 361.9,540.9 419.7,540.1 232.7,516.7 446.0,695.6 422.5,689.8 424.8,655.8 369.5,677.4 347.2,669.0 375.1,661.0 421.2,658.2 327.1,684.1 289.0,718.2 398.8,681.7 445.5,587.2 311.3,630.5 272.4,705.7 316.9,686.5 265.6,527.2 416.1,709.5 184.9,647.2 351.1,499.0 370.6,629.4 280.1,732.2 345.4,573.7 326.9,715.9 425.2,670.2 326.1,539.1 271.1,724.3 329.7,702.0 363.1,593.9 387.8,552.3 427.8,687.1 359.5,615.8 218.8,656.6 445.7,597.8 397.4,670.9 419.5,611.8 346.1,602.3 408.6,657.7 360.2,666.5 195.5,747.6 381.7,705.4 338.3,698.6 349.0,700.8 440.4,707.0 423.2,616.2 344.1,707.8 394.6,635.8 364.3,658.5 322.6,724.6 365.8,728.6 383.8,697.2 333.0,692.7 452.8,569.3 345.1,669.0 402.5,709.8 117.4,676.0 362.3,650.2 439.3,617.4 380.9,673.9 255.1,664.4 352.6,652.2 229.2,596.8 385.4,663.8 420.9,496.5 367.5,722.6 366.9,704.9 433.0,565.1 337.0,648.8 122.9,564.9 458.6,700.7 371.1,696.5 350.7,648.6 437.5,649.6 373.4,714.2 397.8,649.9 407.5,645.4 324.8,667.5 389.5,545.1 374.4,585.1 417.6,629.6 418.7,534.0 184.8,716.4 379.8,730.9 349.7,668.8 387.5,632.3 370.1,619.5 368.8,684.9 385.8,595.1 110.4,705.4 93.2,685.6 402.6,656.1 284.1,618.8 313.3,681.1 416.6,685.3 311.7,646.5 415.4,658.4 392.2,700.4 390.4,706.8 393.6,664.2 469.8,667.3 435.3,661.4 331.4,725.0 357.8,641.9 363.8,628.8 230.4,666.3 329.8,720.6 435.0,638.6 364.6,468.3 366.8,589.0 321.0,626.6 398.5,675.6 200.6,726.9 413.2,501.1 464.0,622.6 334.7,632.2 312.1,703.7 405.9,726.6 313.2,690.3 383.3,655.9 443.9,698.8 220.6,667.2 397.4,627.5 313.8,681.1 322.6,695.3 290.5,661.7 249.1,688.0 388.9,704.1 458.9,556.6 215.7,601.0 392.7,703.1 260.9,714.4 197.6,691.2 334.7,693.0 391.2,674.0 361.7,670.2 333.1,700.4 331.1,727.3 391.1,711.9 396.5,573.3 405.5,488.3 382.2,688.3 228.5,689.9 354.8,693.6 420.7,711.3 411.9,578.1 442.1,712.6 416.2,662.5 426.6,729.2 308.5,564.1 422.4,721.5 154.4,646.4 343.8,698.9 458.1,589.8 343.1,640.7 352.9,603.8 370.8,621.3 337.2,696.7 303.7,646.4 438.9,671.1 401.4,701.6 415.0,635.8 388.3,687.5 384.3,637.3 464.2,663.2 355.0,598.3 346.6,633.5 403.3,571.8 434.9,607.9 348.0,730.3 299.0,641.0 362.5,660.5 275.1,723.8 339.5,676.0 189.1,660.2 403.0,731.7 402.6,641.4 396.6,703.0 387.8,591.1 440.2,524.9 351.5,612.9 403.0,608.2 138.4,506.8 358.9,677.4 454.0,620.2 207.7,651.0 363.0,660.2 420.6,666.0 348.1,723.5 466.0,662.9 412.7,639.8 299.8,625.7 359.2,707.3 399.6,656.4 372.4,693.0 330.7,697.6 446.8,626.1 405.2,709.2 211.2,708.8 348.6,688.4 295.8,669.8 362.8,708.7 378.5,638.1 402.2,681.3 160.3,720.8 413.9,672.1 179.0,650.2 408.6,622.0 459.9,647.7 456.3,512.9 416.4,712.3 480.1,469.2 358.2,663.0 275.3,668.2 359.9,722.6 237.5,724.2 403.2,707.1 381.6,705.2 249.2,710.4 398.5,625.8 238.0,663.1 331.0,672.2 297.1,733.2 326.4,668.3 369.1,686.8 427.7,670.2 335.0,644.0 390.3,671.1 468.4,611.2 346.5,657.9 348.3,693.4 380.5,659.3 447.5,679.0 360.0,720.6 393.4,727.6 367.4,621.1 92.5,690.9 204.9,731.7 217.4,670.5 357.3,640.3 413.8,653.6 384.2,689.2 255.5,640.3 475.4,572.8 396.0,509.1 409.5,616.7 397.6,671.5 296.0,690.5 404.9,701.5 412.9,665.8 323.6,663.3 207.0,576.5 381.8,718.7 360.4,671.0 482.3,672.6 312.7,570.5 340.7,634.5 427.3,719.0 372.2,719.3 382.8,628.7 398.2,714.2 382.3,722.4 449.5,642.8 444.0,619.4 412.9,675.6 382.4,692.4 448.8,544.6 375.5,719.8 325.6,723.5 464.3,594.2 400.0,691.7 391.1,737.9 440.6,538.3 499.3,691.4 422.3,595.1 458.4,700.6 324.5,687.2 243.0,724.4 429.1,652.1 244.5,609.2 356.2,658.9 387.9,661.8 273.6,654.7 378.0,665.2 488.2,517.3 310.0,712.6 392.6,553.6 380.6,719.9 362.5,630.6 264.5,684.0 393.3,616.8 271.3,619.9 401.9,663.7 341.0,625.2 352.7,498.5 339.9,713.0 429.6,615.1 114.5,672.6 312.8,565.3 428.9,614.1 289.7,729.8 357.5,670.8 408.5,632.5 234.6,689.9 369.4,702.6 397.2,574.7 141.2,685.2 379.9,689.2 346.1,547.8 222.6,637.5 399.3,668.0 315.4,730.3 330.1,689.5 304.3,629.5 368.9,669.0 349.9,695.0 454.3,629.4 303.7,705.3 437.3,702.3 374.3,688.0 409.5,694.7 397.1,713.2 356.8,546.2 400.8,674.9 411.0,716.6 423.4,560.9 335.6,663.3 386.6,702.1 439.1,700.7 382.7,702.5 191.0,694.1 373.8,641.9 414.6,676.8 476.4,677.7 209.8,697.3 373.5,670.1 316.8,708.9 344.7,705.4 383.2,681.2 274.9,699.3 400.5,697.1 471.9,665.2 281.4,653.0 349.4,691.9 327.5,680.1 406.6,664.4 314.8,684.5 404.8,524.8 382.4,673.5 372.3,663.2 357.0,626.3 351.5,614.9 309.6,718.6 393.9,704.3 375.6,657.1 434.9,703.1 454.3,507.3 376.8,695.2 346.2,673.3 358.5,612.0 413.9,665.1 418.1,634.2 391.2,741.1 397.6,670.7 340.4,685.2 404.3,670.2 365.1,705.5 385.1,539.5 331.5,564.8 226.5,680.4 420.8,611.2 343.9,666.5 383.7,678.6 447.4,598.9 341.8,664.9 337.5,666.3 337.2,642.0 292.7,678.6 411.4,663.5 378.2,691.3 418.3,664.1 336.8,690.3 339.6,652.7 400.2,678.6 371.3,678.2 257.7,762.2 386.8,632.8 335.0,670.3 470.4,549.9 342.9,711.8 427.4,691.4 416.1,618.6 413.8,656.3 241.0,704.0 385.6,656.6 362.4,659.2 369.3,641.5 332.6,702.0 389.4,649.2 353.7,703.9 360.1,704.9 387.0,661.6 275.9,676.2 368.5,622.8 430.3,725.3 333.5,718.2 215.8,741.8 368.4,698.9 326.1,661.2 394.1,669.2 376.6,666.0 374.0,619.0" fill="none" stroke="none" marker-start="url(#m2)" marker-mid="url(#m2)" marker-end="url(#m2)"/>
<line x1="85.40" y1="698.54" x2="555.60" y2="619.50" stroke="#0a0a14" stroke-width="2.5" stroke-dasharray="10.1 4.5"/></g>
<rect x="85.40" y="467.50" width="470.20" height="304.00" fill="none" stroke="#444444" stroke-width="1"/>
<path d="M85.40 771.50v3.5M179.44 771.50v3.5M273.48 771.50v3.5M367.52 771.50v3.5M461.56 771.50v3.5M555.60 771.50v3.5M85.40 771.50h-3.5M85.40 710.70h-3.5M85.40 649.90h-3.5M85.40 589.10h-3.5M85.40 528.30h-3.5M85.40 467.50h-3.5" stroke="#444444" stroke-width=".9" fill="none"/>
<g font-size="10.20" fill="#2c2c2c">
<text x="85.40" y="786.20" text-anchor="middle">0</text>
<text x="179.44" y="786.20" text-anchor="middle">20</text>
<text x="273.48" y="786.20" text-anchor="middle">40</text>
<text x="367.52" y="786.20" text-anchor="middle">60</text>
<text x="461.56" y="786.20" text-anchor="middle">80</text>
<text x="555.60" y="786.20" text-anchor="middle">100</text>
<text x="78.80" y="775.60" text-anchor="end">0</text>
<text x="78.80" y="714.80" text-anchor="end">2</text>
<text x="78.80" y="654.00" text-anchor="end">4</text>
<text x="78.80" y="593.20" text-anchor="end">6</text>
<text x="78.80" y="532.40" text-anchor="end">8</text>
<text x="78.80" y="471.60" text-anchor="end">10</text>
</g>
<text class="b" x="320.50" y="800.90" font-size="11.85" fill="#0c0c22" text-anchor="middle">AI Adoption Rate</text>
<text class="b" transform="translate(60.40 619.50) rotate(-90)" font-size="11.85" fill="#0c0c22" text-anchor="middle">PRs per Engineer</text>
<text class="b" x="320.50" y="462.10" font-size="12.88" fill="#0c0c22" text-anchor="middle">DISTRIBUTED (1.96-3.71 repos/eng)</text>
<rect x="105.10" y="479.10" width="164.60" height="17.90" rx="3" ry="3" fill="#fff" stroke="#1a1a2e" stroke-width="1.4"/>
<text class="b" x="187.40" y="491.45" font-size="11.00" fill="#0c0c22" text-anchor="middle">Average PRs per eng: 3.9</text>
<rect x="404.60" y="729.90" width="131.10" height="29.90" rx="3" ry="3" fill="#fff" stroke="#1a1a2e" stroke-width="1.4"/>
<text class="b" x="470.15" y="742.30" font-size="11.00" fill="#0c0c22" text-anchor="middle">AI Productivity Gain</text>
<text class="b" x="470.15" y="754.30" font-size="11.00" fill="#0c0c22" text-anchor="middle">2.4 → 5.0 (2.1x)</text>
</g>
<g>
<path d="M703.72 467.50V771.50M797.84 467.50V771.50M891.96 467.50V771.50M986.08 467.50V771.50M609.60 710.70H1080.20M609.60 649.90H1080.20M609.60 589.10H1080.20M609.60 528.30H1080.20" stroke="#b0b0b0" stroke-opacity=".13" stroke-width=".9" fill="none"/>
<g clip-path="url(#c3)"><polyline points="928.4,616.0 959.0,605.3 946.9,623.7 857.8,630.1 748.3,682.6 818.2,525.1 908.5,624.9 1001.0,560.2 955.6,651.1 802.8,569.6 835.0,593.9 862.2,708.0 932.1,605.3 897.4,504.5 698.9,567.0 833.5,707.4 909.9,625.1 873.3,599.7 930.5,610.5 933.0,654.8 909.8,678.8 960.2,643.7 931.7,653.9 963.4,606.3 904.5,532.0 879.7,666.0 918.9,481.0 927.5,625.2 917.8,606.5 914.9,499.7 920.0,691.5 848.5,720.0 878.8,685.2 731.0,537.2 923.2,614.7 851.8,618.0 853.9,605.1 846.4,666.0 904.3,505.7 853.8,484.9 952.9,673.5 928.9,637.1 947.4,617.9 878.5,642.5 771.7,458.2 664.9,770.1 875.6,625.2 918.0,647.4 918.6,686.1 937.0,576.7 1056.5,597.4 889.2,547.4 847.0,565.6 974.1,647.7 716.7,689.0 907.9,540.3 901.9,501.7 870.1,678.0 892.0,581.5 930.8,532.5 755.0,604.5 799.6,651.4 962.8,578.2 893.6,618.1 923.4,618.9 960.8,709.9 958.0,593.1 940.9,641.2 852.7,633.1 928.5,672.1 958.1,632.1 851.1,610.2 869.4,616.4 959.3,645.8 877.5,657.4 905.0,562.2 930.7,689.8 770.9,668.9 760.4,508.7 928.0,554.9 665.5,648.4 621.9,483.0 922.9,676.7 926.7,637.4 1021.6,482.5 871.7,676.8 941.5,619.2 948.1,698.8 897.8,664.2 936.0,556.2 881.8,588.8 851.4,600.1 673.9,524.4 742.1,570.1 979.2,645.0 903.7,582.3 940.0,617.5 906.7,559.8 912.1,529.0 992.4,477.3 872.6,588.8 959.3,566.1 979.1,649.6 934.9,669.9 908.0,488.7 883.7,641.5 865.4,707.3 914.7,488.2 929.5,654.1 677.8,654.4 932.8,543.6 854.1,577.5 891.5,489.9 835.2,622.3 960.4,608.1 979.0,626.1 988.6,676.3 967.0,533.2 711.9,608.9 862.7,557.9 766.6,577.7 896.6,591.5 944.6,647.9 864.0,626.0 954.1,649.2 966.8,642.8 1048.8,487.6 808.8,730.7 778.3,573.1 960.1,686.2 891.2,682.3 895.0,679.9 719.0,576.6 895.6,600.5 803.0,574.9 941.0,641.9 683.8,583.7 896.8,680.7 872.9,659.2 884.8,668.7 943.9,530.2 803.8,605.7 917.0,702.9 942.8,569.3 793.5,635.3 953.7,639.6 673.4,598.5 996.5,556.5 887.1,626.7 889.2,677.8 888.4,523.4 896.5,683.7 908.9,682.7 903.2,608.7 933.4,579.9 970.0,618.8 772.7,603.5 959.9,669.1 939.0,688.5 941.3,624.5 864.0,682.0 931.5,619.6 906.2,603.7 891.2,687.5 637.3,543.3 884.0,626.9 743.8,598.9 862.4,650.7 937.7,627.4 903.7,713.8 850.3,692.5 901.3,648.2 876.8,585.8 936.4,643.1 839.2,564.0 642.9,565.3 911.2,687.1 848.1,685.1 861.0,677.1 966.8,480.4 874.6,695.6 940.5,552.3 923.3,581.2 981.4,691.4 919.8,609.8 950.7,572.3 922.1,694.2 636.2,594.5 903.8,666.6 626.3,621.4 888.1,555.1 719.0,687.2 840.8,707.3 955.2,642.8 759.9,494.6 936.6,620.8 918.7,574.2 891.0,680.4 910.3,626.5 911.2,518.3 834.4,697.0 770.3,615.7 850.8,523.3 891.9,596.9 886.2,590.1 880.0,565.3 957.1,534.2 921.9,518.6 837.1,730.3 871.0,586.1 910.5,684.4 882.8,631.6 944.1,647.5 800.8,590.4 680.4,544.6 945.3,581.4 825.3,662.3 844.3,569.4 833.3,682.8 965.0,583.4 828.2,643.2 896.1,589.8 914.2,616.3 944.3,612.5 736.9,691.0 960.6,675.4 828.4,670.0 940.6,639.5 846.5,709.5 903.7,667.0 796.4,699.4 932.2,611.5 806.4,462.4 988.1,677.2 812.5,562.4 905.3,627.7 927.7,671.8 923.0,654.4 909.6,701.5 913.7,637.5 864.8,584.7 925.4,706.5 859.6,736.2 926.0,584.8 852.4,669.3 900.3,682.3 797.8,725.6 924.3,564.6 904.3,632.5 843.4,677.0 1000.2,571.5 921.6,606.9 974.6,672.0 952.4,591.5 901.0,693.5 626.9,521.8 774.5,596.6 626.6,770.5 888.0,682.0 814.5,683.5 936.8,600.9 952.9,637.2 951.3,620.1 810.0,596.7 837.1,625.7 939.7,521.4 885.6,681.1 895.5,548.5 960.0,476.1 854.1,599.2 950.1,660.2 842.3,669.9 914.7,640.5 897.0,664.0 795.4,700.3 845.4,504.1 830.4,668.7 899.7,626.4 868.4,657.3 955.2,640.5 934.0,580.8 758.5,592.7 994.7,658.2 988.7,522.7 843.1,670.2 920.9,506.5 887.3,608.8 972.3,665.4 914.4,550.5 892.7,616.6 813.9,608.4 915.0,656.1 804.0,637.0 976.1,710.5 854.0,716.5 824.8,635.4 861.3,583.1 970.9,538.9 870.2,633.2 873.9,654.9 896.3,725.0 962.5,619.8 885.8,664.3 871.9,638.4 872.4,662.9 969.6,467.3 927.0,635.7 657.7,589.1 716.5,624.0 859.2,599.7 675.3,482.0 999.3,690.9 741.6,676.5 947.2,641.4 702.2,576.2 734.0,512.8 872.9,534.0 979.4,493.8 869.9,644.3 856.3,555.2 916.1,655.3 879.7,598.0 861.9,586.1 707.5,631.7 798.7,705.0 938.7,626.2 708.6,565.1 876.1,460.3 744.1,542.0 996.5,648.4 922.1,611.0 923.2,687.5 741.6,662.6 934.8,601.0 813.7,584.1 995.2,682.3 774.5,662.6 865.9,607.2 867.0,655.5 779.8,577.4 791.6,511.6 910.9,550.1 911.0,594.8 950.7,600.3 924.2,598.4 669.7,557.5 854.7,502.2 726.8,733.9 810.9,712.3 902.7,670.9 990.5,728.8 851.3,683.1 865.0,627.8 771.0,729.1 887.0,669.0 658.3,535.0 948.3,610.5 818.0,661.6 871.9,625.4 922.5,725.9 815.1,732.3 930.8,530.4 902.5,471.6 792.8,627.7 875.2,679.9 962.1,667.5 926.5,492.2 894.6,531.7 862.4,516.7 816.2,627.4 718.9,538.0 762.4,550.2 918.5,616.5 924.5,675.1 988.3,580.9 912.4,475.5 865.7,610.2 871.1,556.2 838.8,636.5 1060.1,648.2 625.2,510.6 880.1,639.9 894.7,608.5 960.7,644.3 842.2,719.2 914.3,591.8 953.1,657.2 939.0,598.1 831.5,653.3 979.8,703.3 835.1,658.4 880.3,607.2 865.7,534.6 950.0,670.5 886.1,667.6 901.9,659.5 961.9,609.2 946.4,633.1 871.1,643.2 937.7,598.1 989.1,611.4 916.6,531.4 849.1,727.7 971.8,572.3 777.8,656.0 774.3,564.3 795.7,669.8 968.6,582.4 911.5,544.7 854.3,638.3 922.8,631.7 741.2,561.3 825.8,468.2 982.7,714.2 869.2,681.9 915.9,685.2 970.8,485.7 905.6,540.8 917.9,592.9 876.6,497.5 969.3,704.4 952.3,683.4 947.9,667.6 898.2,684.0 925.5,586.6 835.8,597.4 880.6,568.0 893.3,683.9 917.8,722.0 935.3,629.9 894.3,681.0 944.5,607.6 900.3,643.2 851.0,615.4 886.3,591.5 852.9,571.0 833.0,604.4 897.7,595.9 925.9,640.7 960.6,592.3 903.0,674.2 829.6,677.9 976.3,484.9 874.0,676.1 731.5,691.0 697.1,636.3 938.4,557.2 852.7,694.2 1018.4,600.4 942.8,629.5 868.6,538.1 838.0,558.0 863.5,607.0 985.8,702.6 929.3,686.8 930.0,726.7 791.5,665.9 887.1,637.0 846.4,533.0 979.6,604.9 860.5,669.1 666.5,618.2 900.8,555.0 765.1,611.4 877.3,641.6 918.8,689.7 867.2,619.4 946.3,608.1 764.1,699.9 994.2,617.0 832.7,636.1 872.5,647.1 941.7,595.3 959.9,591.9 951.2,619.2 970.5,647.3 664.3,629.9 863.5,472.7 862.9,563.0 817.5,637.2 980.4,666.9 719.5,698.0 911.4,604.7 807.6,607.2 991.6,655.6 823.8,714.2 911.5,480.9 676.1,614.8 928.0,567.4 908.3,612.8 970.4,674.0 719.6,696.0 883.3,649.9 903.0,635.1 906.0,663.5 810.2,538.0 915.9,559.8 955.7,626.0 998.1,687.5 884.2,591.0 946.9,632.2 922.9,612.0 885.2,595.3 960.8,664.9 872.1,664.9 962.6,583.6 930.9,634.8 896.3,513.9 904.4,582.1 916.4,642.2 859.5,609.7 881.0,692.2 926.8,664.9 872.0,643.0 641.3,564.9 919.5,515.9 881.0,540.3 931.7,687.5 834.3,682.1 879.4,685.0 889.2,638.6 888.9,606.8 874.2,654.2 842.4,646.8 850.8,695.6 900.9,531.6 735.4,493.7 869.0,657.8 995.9,573.1 955.2,630.2 826.7,582.1 795.1,675.1 782.3,497.1 892.2,712.9 923.6,616.2 894.0,670.5 878.7,642.1 934.9,522.8 932.5,592.3 951.1,622.2 892.6,701.0 885.8,559.2 946.9,567.4 771.0,565.7 834.6,682.4 633.3,577.6 669.3,626.7 983.6,500.2 946.6,607.8 709.6,660.9 924.1,606.5 882.4,668.4 821.6,635.5 825.8,630.9 996.4,599.7 919.5,670.3 829.3,576.9 937.5,622.3 863.5,586.4 1000.9,561.1 881.0,679.2 856.8,685.1 854.9,635.3 881.9,522.9 919.5,696.4 891.8,672.0 926.5,677.7 829.8,670.5 830.4,689.9 936.6,631.5 833.9,664.5 757.7,708.2 875.6,604.0 1028.5,646.5 876.4,680.3 888.6,694.6 913.5,645.7 827.4,630.3 802.2,553.1 918.1,673.7 937.9,587.9 1070.3,518.1 1000.3,703.5 834.4,561.4 833.5,672.4 890.7,598.6 866.7,582.5 938.8,637.4 742.3,694.4 905.5,524.9 943.7,476.7 897.1,612.3 726.9,673.8 822.4,610.3 859.5,654.1 891.8,584.7 884.0,696.8 970.3,685.4 874.3,656.1 858.1,566.0 938.9,568.2 615.7,528.9 812.1,685.2 964.0,529.0 937.5,571.1 898.0,529.0 879.5,592.4 815.3,663.7 922.5,705.5 981.0,564.2 970.4,568.2 949.5,563.5 866.7,560.5 902.0,520.1 876.5,630.7 983.8,704.1 901.2,685.1 945.3,608.6 938.8,542.4 969.3,569.6 901.0,651.4 910.0,593.9 932.7,673.3 982.0,658.0 903.0,504.3 990.1,686.3 903.7,712.8 760.8,518.1 806.0,626.8 948.7,620.8 974.1,626.0 892.7,660.0 912.4,580.9 887.0,585.0 875.0,693.2 862.7,490.4 953.5,656.9 916.4,574.8 838.8,580.3 934.4,629.7 921.6,672.4 912.8,599.3 883.5,524.5 882.2,535.0 971.6,625.4 613.4,660.0 943.4,471.5 983.7,566.9 857.7,670.1 633.3,770.3 921.6,522.8 970.3,588.0 946.3,624.2 884.4,538.1 985.6,509.4 990.9,636.9 871.9,674.6 919.9,624.4 952.5,725.6 916.1,725.1 872.7,629.7 904.2,556.0 904.5,687.6 984.2,655.0 938.6,621.0 962.6,532.3 819.6,678.3 963.0,555.8 843.6,559.8 904.4,605.7 895.4,579.3 960.1,605.3 802.2,475.7 843.1,649.9 944.4,638.0 838.4,628.0 882.4,486.9 963.7,588.8 879.9,551.1 847.7,637.1 782.1,553.0 842.9,554.9 912.5,614.2 914.0,608.8 976.0,631.7 871.5,516.8 866.9,671.7 837.7,582.3 946.3,655.5 841.7,603.6 950.4,530.0 820.9,638.3 871.0,547.6 873.2,676.6 907.3,659.8 890.8,583.2 937.3,610.5 891.8,584.0 716.0,500.1 737.4,661.4 938.0,651.8 894.3,656.6 931.9,612.8 827.8,711.2 955.9,626.8 874.5,683.6 953.8,517.3 901.0,705.1 894.4,688.3 636.6,575.2 939.5,583.6 949.6,616.2 954.5,565.5 921.6,706.3 910.2,522.2 923.6,609.5 921.4,640.5 914.4,563.9 1005.5,674.8 881.7,672.7 913.8,713.0 853.4,675.6 893.1,652.9 867.8,510.6 790.7,619.5 664.5,585.4 701.2,566.8 939.9,600.9 931.5,680.3 788.6,674.3 883.9,578.5 921.0,642.3 840.3,654.8 1001.6,608.3 972.6,536.8 683.1,640.5 611.9,520.0 934.8,579.6 922.3,609.1 819.7,669.4 865.9,705.9 924.6,575.3 919.6,555.9 972.1,641.2 974.4,587.3 915.0,595.5 898.8,458.7 1025.7,678.4 880.7,502.6 894.0,575.2 953.2,653.5 849.6,598.7 888.6,687.8 816.8,513.7 895.6,693.3 836.0,603.8 720.8,684.6 942.8,716.0 803.9,565.1 954.7,606.7 950.4,673.8 913.5,594.3 850.1,550.8 998.9,682.6 961.8,498.8 1009.0,529.9 745.0,631.6 982.2,631.6 881.7,687.5 796.6,627.2 899.4,669.8 945.3,586.1 931.2,662.9 942.3,541.3 848.8,536.5 917.6,665.6 926.0,604.9 662.2,484.3 849.4,705.8 975.2,568.0 933.0,628.9 803.8,664.8 882.2,656.1 840.2,675.9 968.4,693.9 952.8,670.4 1004.4,642.2 1053.9,540.1 961.5,509.7 880.4,653.2 1004.3,501.7 925.0,667.6 954.6,625.2 962.5,620.3 938.6,677.7 916.7,485.9 842.7,468.8 950.2,661.9 933.0,535.9 882.7,536.1 710.5,655.4 894.1,643.1 931.7,600.8 939.7,729.7 962.1,601.0 1003.5,646.7 812.2,626.0 942.0,631.7 734.0,618.4 910.4,584.4 942.7,646.9 882.7,654.2 992.9,559.5 893.3,640.3 900.2,693.0 986.0,494.8 969.7,701.5 899.1,610.2 928.7,581.7 930.7,484.4 941.4,653.2 899.1,676.4 850.9,642.4 884.3,665.8 907.1,561.0 881.9,524.3 978.5,607.5 837.7,638.8 906.9,662.7 891.7,715.6 953.8,662.5 937.1,565.3 885.8,553.9 820.7,666.9 860.2,679.5 826.4,696.5 946.1,627.2 949.3,612.2 787.1,711.6 675.5,491.2 912.6,692.3 976.9,628.5 972.9,645.7 922.8,634.6 938.7,579.9 719.9,706.8 937.2,531.1 909.2,627.6 758.0,622.3 906.8,710.2 928.8,546.2 914.2,654.7 961.3,656.1 955.3,631.7 994.9,600.8 783.0,579.0 818.5,581.7 951.9,649.8 912.4,545.4 701.5,486.2 845.5,641.0 923.0,646.4 639.5,683.2 957.1,612.2 914.8,667.5 851.1,631.2 950.7,553.1 887.8,500.3 910.6,644.1 983.8,629.1 968.8,693.9 886.6,515.8 913.1,562.2 1018.3,553.8 1058.4,535.3 883.7,661.3 949.2,618.5 790.4,516.3 898.6,571.1 905.5,643.2 688.8,485.7 955.8,623.9 845.0,542.1 927.0,671.4 622.7,629.1 673.6,578.8 893.8,685.9 662.7,589.5 908.3,709.2 865.7,611.9 851.7,569.3 845.7,660.0 892.7,616.6 869.0,666.7 952.5,573.0 942.3,532.6 905.8,628.9 927.3,643.4 870.2,638.8 1070.1,537.4 796.5,671.7 936.6,605.2 879.5,609.7 803.4,540.7 917.7,716.0 764.5,644.4 691.4,561.9 834.3,553.6 625.2,661.6 712.7,479.8 892.1,655.1 820.9,460.1 974.3,660.6 819.1,627.7 957.8,620.7 866.8,695.5 942.2,568.0 763.3,593.9 899.7,469.3 977.6,615.0 977.3,554.1 844.0,656.3 862.9,688.8 885.2,663.0 742.6,643.9 885.7,647.5 939.2,591.0 874.3,576.2 921.9,611.7 937.1,613.6 977.5,584.5 777.9,610.9 981.1,525.5 830.1,465.8 827.2,589.9 896.7,680.4 701.6,540.4 992.1,631.9 900.7,673.3 659.2,675.8 930.5,599.5 909.9,676.4 953.3,524.3 976.5,662.4 740.8,525.5 922.4,711.8 964.6,612.4 677.1,570.7 923.3,492.4 901.3,708.8 817.2,653.9 853.3,533.6 883.4,465.1 957.8,694.4 672.8,654.1 697.2,728.7 970.4,716.3 890.7,561.9 930.7,635.9 913.1,601.3 973.4,703.1 1000.7,669.1 654.0,651.1 803.2,543.2 962.5,545.5 963.6,596.3 938.4,643.0 888.6,555.4 921.6,625.3 833.1,695.2 937.5,627.2 878.3,678.4 930.1,477.2 896.6,566.1 940.4,683.8 616.7,596.3 897.1,631.8 894.8,628.6 880.2,693.8 885.3,585.6 874.7,624.6 965.5,650.3 842.0,633.8 981.9,666.0 913.1,604.4 935.9,685.2 887.7,668.7 874.4,595.2 939.7,590.1 939.8,654.9 910.4,631.8 896.9,641.1 871.2,696.1 931.2,607.1 872.2,630.8 931.5,698.7 950.2,632.8 898.5,699.8 914.2,648.1 890.8,683.1 825.8,676.0 872.1,688.3 908.9,475.2 863.7,590.6 800.7,689.6 973.1,661.9 806.0,677.6 911.3,586.2 913.7,652.0 951.2,663.3 728.5,696.2 849.7,553.6 898.4,688.2 916.2,570.6 687.2,582.8 940.2,579.7 910.3,474.6 656.8,599.5 940.7,659.5 789.1,681.2 964.0,602.4 894.3,684.4 920.1,563.7 901.9,570.7 924.5,598.8 975.3,612.0 899.7,661.4 956.6,659.5 790.1,618.1 864.5,515.9 870.3,558.3 817.2,724.4 907.0,602.9 896.3,567.4 930.4,630.2 807.8,560.6 719.0,614.9 953.2,482.7 855.2,577.5 896.4,635.8 862.5,604.7 949.5,485.0 956.0,599.0 731.4,552.1 873.1,593.1 737.1,604.2 856.7,683.4 921.9,626.8 733.8,578.1 901.6,636.6 762.3,678.0 921.0,561.2 796.7,649.5 942.9,546.8 931.9,597.4 841.3,577.6 921.2,632.9 632.5,487.2 839.2,601.8 936.1,585.5 935.8,587.5 938.8,589.1 997.2,659.4 974.5,555.2 950.8,567.3 812.6,593.7 941.5,690.8 904.2,597.9 796.8,532.1 794.2,679.3 905.1,585.6 781.0,567.9 778.4,515.9 1000.0,587.1 869.5,729.8 999.5,545.3 910.0,630.0 985.7,603.7 887.2,689.6 912.3,561.7 972.3,548.0 894.8,611.3 825.7,657.4 931.0,670.5 925.2,603.8 636.9,563.9 883.5,615.5 888.4,698.8 878.5,693.8 787.4,603.2 882.1,543.3 888.6,552.2 881.2,548.9 937.4,631.2 897.5,481.7 970.7,543.3 911.2,612.3 838.4,633.4 862.8,535.7 913.4,684.3 1008.5,479.9 974.4,657.4 910.3,579.9 855.2,663.1 922.5,557.1 900.8,734.0 939.8,693.6 885.5,592.4 909.0,655.1 933.7,630.3 905.9,481.5 838.5,680.1 928.2,712.1 882.3,583.3 865.8,664.9 853.9,669.1 926.8,630.1 974.9,615.4 799.1,613.7 945.8,532.5 880.9,613.0 803.4,651.9 978.6,623.8 946.4,571.9 891.7,655.5 875.8,561.7 929.4,617.5 886.7,548.9 820.5,574.5 934.5,532.7 907.4,667.4 940.6,661.0 914.7,637.1 619.4,624.5 838.7,640.2 923.3,692.6 931.2,629.2 960.0,605.6 874.8,680.1 958.8,585.5 895.7,595.8 917.8,694.3 893.0,678.7 744.1,728.1 922.7,578.9 851.3,678.1 946.1,664.0 895.8,679.2 866.6,601.8 1031.7,600.2 968.0,668.2 851.2,629.0 845.3,716.1 922.4,588.7 910.2,586.5 904.0,696.9 959.8,607.7 845.9,490.7 936.3,659.4 960.5,652.0 850.8,589.4 896.5,696.5 961.3,679.3 771.5,724.7 987.1,576.8 777.7,682.0 998.2,660.3 866.8,512.3 829.9,570.8 926.9,650.2 936.5,680.8 947.6,614.6 875.3,666.4 674.6,654.1 946.7,623.6 940.6,650.9 922.5,666.9 926.5,639.5 973.3,678.8 975.1,709.9 883.7,558.7 877.1,629.1 845.0,645.4 936.3,683.7 957.3,657.7 880.0,665.1 898.9,523.3 654.9,575.1 862.9,503.8 870.4,599.1 942.1,640.7 968.0,581.3 770.0,657.5 878.4,684.2 771.8,467.1 918.1,597.7 991.0,584.7 904.2,593.2 1027.2,611.1 935.3,504.9 693.0,610.6 932.4,617.6 934.3,645.1 825.0,688.0 978.1,695.0 920.2,607.2 933.0,631.9 852.2,515.3 922.9,577.1 890.8,560.0 862.5,588.9 877.9,470.2 697.2,636.7 894.3,563.3 934.9,580.1 913.4,478.8 827.2,579.2 927.0,606.3 978.7,708.6 976.7,728.4 911.6,588.4 794.6,718.0 877.9,476.8 928.6,710.1 943.2,655.0 856.1,618.6 912.0,602.0 942.7,687.9 891.4,577.7 864.8,595.9 923.4,601.0 877.1,529.3 746.3,665.8 875.5,600.1 777.3,608.6 909.4,702.6 893.6,653.3 935.0,656.8 891.9,683.3 858.5,662.2 632.1,682.2 834.0,680.2 904.8,564.3 874.1,667.4 644.9,588.4 916.7,584.9 893.0,648.0 954.3,608.1 924.9,626.0 852.9,689.1 915.6,567.0 794.5,613.2 894.8,656.4 952.4,611.3 929.8,643.7 941.2,637.6 877.8,463.5 868.1,531.3 815.3,620.3 923.7,675.8 622.6,654.5 857.0,689.7 927.5,650.0 816.8,558.0 741.5,687.4 901.0,684.7 937.9,660.7 777.2,558.2 652.8,551.4 658.5,558.4 670.0,571.3 853.2,608.0 821.9,678.9 810.2,574.6 816.9,653.7 862.8,696.4 867.3,693.6 895.7,691.1 910.8,682.7 844.9,624.0 840.8,538.3 917.9,602.5 944.5,604.7 796.0,665.9 908.4,599.4 881.4,693.5 895.6,675.9 878.4,574.5 878.0,662.8 803.1,619.8 883.3,629.5 1000.6,662.7 1006.6,567.6 895.6,678.2 897.3,551.6 944.8,632.6 721.5,639.8 931.0,557.0 822.3,692.4 883.0,630.8 632.4,621.5 879.2,688.4 924.9,607.7 917.5,615.8 939.0,671.3 909.4,670.5 827.4,647.1 731.8,541.0 1001.7,649.3 979.9,562.4 913.9,597.1 949.7,650.9 894.8,527.4 904.1,695.0 932.4,721.7 837.8,598.6 727.4,701.4 866.2,688.2 899.3,644.1 725.7,523.0 903.8,633.6 930.4,551.9 927.5,547.5 848.8,632.3 749.3,577.9 987.2,695.8 834.2,561.5 848.9,667.4 926.2,479.4 825.3,661.3 954.1,691.8 782.7,698.4 903.1,603.5 958.8,616.8 827.6,697.7 956.0,684.4 846.5,542.6 900.3,628.1 871.8,573.6 894.2,653.5 860.7,638.7 773.2,581.4 635.1,578.4 969.6,532.8 904.2,650.4 948.5,631.5 882.7,608.9 917.2,664.8 906.7,643.5 935.9,609.9 951.1,620.6 937.9,590.3 917.4,518.6 915.1,512.1 964.8,700.9 963.0,567.4 992.3,675.9 906.1,597.4 966.0,639.2 975.2,673.0 822.4,714.7 909.3,561.6 808.0,514.6 859.3,637.0 879.9,486.7 848.1,516.7 900.4,634.3 945.0,660.2 647.3,690.2 985.7,657.9 827.1,533.5 850.6,726.4 875.0,600.5 898.8,697.5 840.4,647.1 650.3,528.1 951.7,594.2 834.8,672.2 941.2,606.2 666.0,562.4 912.3,654.3 908.5,664.6 777.6,604.9 885.5,623.9 913.3,624.8 978.3,651.0 855.2,577.4 979.0,707.9 679.5,500.9 847.9,584.6 846.5,585.0 921.5,610.1 939.4,603.6 791.1,706.6 934.3,614.0 919.5,719.2 937.2,637.1 913.8,600.6 864.1,565.6 926.5,605.5 971.7,676.5 942.1,591.4 860.0,573.8 868.2,581.6 1002.8,470.6 756.6,641.3 880.3,587.8 967.2,560.4 927.9,508.7 878.8,686.0 917.4,627.9 746.3,631.4 937.4,704.3 811.3,579.1 917.1,521.0 801.8,548.6 943.4,604.2 794.6,659.5 673.9,610.1 923.6,580.1 1002.9,609.2 920.5,585.5 619.5,644.0 894.7,676.2 934.6,586.8 938.5,626.7 926.9,632.1 768.8,600.9 911.9,685.2 872.0,578.8 713.4,652.6 752.1,657.3 902.2,645.0 916.8,523.1 943.5,629.6 833.9,599.9 863.6,500.0 935.0,677.2 961.2,606.7 934.6,626.8 946.5,655.5 970.9,632.6 900.3,697.5 728.5,558.3 823.4,543.6 828.8,625.9 744.9,686.5 898.7,686.7 652.3,568.0 967.7,560.7 851.9,646.1 908.7,629.2 948.4,665.9 649.6,606.1 791.5,661.2 991.2,494.9 898.2,657.4 948.2,685.1 655.0,546.9 935.3,640.0 895.4,732.9 826.7,686.7 890.0,541.1 972.9,641.6 976.8,564.7 843.1,675.7 880.7,730.7 830.5,662.0 895.5,584.3 741.7,557.2 878.4,684.5 846.5,577.9 924.2,593.3 897.0,541.5 921.3,631.8 904.4,660.1 1042.3,553.3 919.4,607.5 818.2,587.9 810.2,612.5 713.5,606.1 930.7,597.9 925.5,622.9 874.7,607.4 925.4,622.1 979.6,629.6 902.3,671.2 882.3,658.4 728.2,664.7 869.2,646.4 895.1,676.6 1048.9,607.6 960.2,693.0 896.2,666.2 1068.4,596.8 849.7,671.0 883.7,646.0 731.3,687.2 698.8,622.6 967.1,632.5 899.5,661.0 883.6,637.3 867.0,499.4 887.7,598.1 881.1,677.6 912.9,473.8 851.3,660.4 819.9,581.1 845.7,580.0 924.6,710.0 953.9,626.3 710.2,546.9 769.0,539.8 886.5,691.2 890.8,626.0 887.9,653.7 896.6,673.6 879.5,642.7 880.3,619.6 952.0,615.7 899.0,601.5 896.6,644.5 918.2,591.4 912.4,509.8 881.0,655.7 944.5,635.0 856.7,607.9 896.7,621.8 888.4,680.7 901.1,514.4 849.7,553.0 929.3,677.9 884.6,625.4 928.8,633.2 786.6,604.7 694.8,557.9 932.9,570.4 735.6,636.3 875.1,691.0 927.2,632.1 929.1,535.8 942.5,683.2 920.3,573.2 892.9,533.3 899.1,490.0 873.5,649.5 959.2,663.7 888.2,597.7 881.5,692.0 980.6,650.7 821.3,700.5 937.4,604.3 919.2,676.3 887.9,681.9 820.9,604.6 894.3,522.5 824.7,498.2 970.8,575.3 901.1,594.6 790.7,624.4 796.3,578.3 890.4,557.9 1021.5,530.6 830.1,552.2 900.5,696.7 863.1,645.3 954.6,589.9 868.8,602.3 951.7,605.7 844.9,606.1 906.6,554.5 940.6,588.9 797.5,565.9 904.3,679.1 916.8,693.1 940.9,549.4 661.7,483.7 864.1,497.3 879.9,697.8 922.9,502.8 924.7,689.3 927.2,679.5 948.2,577.5 962.2,550.8 946.1,676.8 889.1,571.4 914.2,635.2 941.6,600.7 921.2,591.3 962.0,647.5 852.1,739.3 867.3,691.6 903.1,523.3 937.7,654.1 856.8,688.5 952.6,570.5 872.1,650.0 790.2,698.6 848.1,571.9 850.4,641.8 924.2,688.7 897.1,609.1 876.1,507.4 905.4,696.4 912.4,587.5 766.8,711.9 887.1,693.7 688.9,561.5 921.3,558.4 700.4,516.0 886.4,506.8 833.3,625.4 866.1,679.9 908.7,535.8 761.2,587.7 880.0,726.8 886.7,616.6 992.5,640.5 969.8,595.9 981.0,641.6 877.8,696.9 910.7,480.9 871.6,625.0 886.2,628.7 828.3,645.7 960.0,668.4 873.9,603.5 916.2,559.5 1002.5,625.9 958.3,623.3 964.9,675.8 926.8,628.9 892.7,527.6 812.4,688.7 883.5,675.2 906.2,604.4 868.6,623.7 631.5,563.9 1002.7,460.7 995.2,483.1 860.0,525.4 897.2,670.5 857.6,617.9 729.7,598.2 857.4,628.7 954.7,687.1 851.1,601.5 854.7,558.9 825.8,491.6 940.6,659.5 963.9,679.6 942.9,697.4 916.8,666.4 901.8,608.1 884.8,574.5 900.8,688.3 924.9,638.6 962.8,643.1 959.4,677.9 847.1,668.5 907.2,533.8 842.2,491.1 957.3,668.0 642.7,639.0 873.8,688.1 897.0,610.5 914.8,587.3 797.7,630.2 681.8,613.9 735.7,702.0 944.8,630.4 890.6,693.8 882.8,655.1 648.3,539.7 830.4,501.3 944.8,583.0 798.8,639.6 936.1,627.5 986.3,671.9 952.9,626.1 950.2,611.0 835.7,655.1 970.8,508.1 909.7,557.4 757.8,567.7 938.3,539.3 834.0,619.2 810.7,658.4 684.8,571.1 962.9,512.7 975.6,669.7 946.5,668.3 843.1,628.2 747.6,633.8 889.9,627.3 957.2,620.7 940.5,630.8 990.6,496.1 917.0,596.9 648.6,769.6 770.9,594.5 827.9,641.7 916.4,612.6 693.0,483.7 718.1,601.2 887.2,683.3 624.3,769.6 812.0,623.9 922.1,533.3 941.3,614.7 927.6,578.8 949.1,636.4 974.2,555.2 959.2,482.7 925.1,710.0 891.1,538.4 901.3,548.7 1000.6,593.2 801.0,639.3 891.3,590.0 895.1,572.3 1008.9,647.8 969.8,514.2 931.5,606.2 827.8,646.6 936.2,598.2 955.4,563.5 624.3,676.4 859.2,601.5 929.0,694.9 856.8,549.4 696.8,615.2 948.9,545.2 799.3,625.7 936.4,596.7 851.9,584.6 639.8,533.7 858.2,594.9 1003.5,638.7 794.7,523.1 863.5,681.6 950.2,641.9 946.9,551.9 980.3,487.0 978.5,676.6 860.0,613.9 715.2,562.8 844.0,585.3 775.8,614.4 852.0,540.4 837.5,597.1 930.8,685.1 870.2,531.4 691.9,625.8 990.1,552.9 928.5,626.9 938.1,673.0 891.0,569.4 754.2,615.9 959.4,592.9 895.8,660.8 863.0,622.2 765.1,598.9 964.4,652.1 777.3,607.7 930.3,644.3 778.9,487.7 912.6,501.8 926.4,546.0 907.1,692.8 665.8,695.2 937.5,659.6 886.0,609.5 1019.3,519.2 851.2,645.7 646.0,482.9 891.4,569.2 934.2,629.6 954.1,550.2 936.1,640.7 878.5,645.6 846.9,620.5 918.4,612.6 875.5,691.5 873.0,676.5 743.5,595.6 829.0,543.2 829.7,662.3 714.4,648.1 883.9,649.4 899.9,506.6 956.1,505.5 770.4,680.3 873.2,692.7 744.9,497.2 913.1,652.5 911.2,602.6 733.9,664.3 950.4,618.1 898.8,483.8 971.9,541.6 876.5,580.3 925.9,483.1 753.3,529.6 924.7,636.8 850.2,639.1 906.6,730.9 873.1,576.4 884.4,681.7 936.1,504.3 794.1,646.2 936.0,577.7 932.2,649.5 856.7,668.8 931.5,630.7 937.6,581.9 816.6,512.9 876.7,688.7 887.7,590.4 910.4,723.6 824.0,467.7 907.6,672.4 633.5,645.6 882.2,564.6 1009.1,662.3 722.8,645.2 879.5,588.4 962.1,477.2 885.7,579.6 1053.3,555.0 965.5,464.6 915.8,664.7 897.7,652.9 835.8,680.7 960.9,685.0 888.8,596.9 922.0,676.8 637.6,770.4 905.4,545.2 745.1,671.3 806.7,707.8 896.0,682.0 865.4,625.0 986.8,697.3 884.3,688.0 831.4,661.1 648.7,661.0 937.8,678.2 863.2,609.9 906.8,655.7 828.0,637.5 828.0,476.7 887.0,578.1 890.8,551.6 956.0,587.0 895.3,573.9 997.2,653.7 955.6,525.4 914.5,554.2 901.9,717.0 981.1,643.5 666.6,585.9 878.0,687.8 959.0,601.7 933.5,682.0 844.2,493.1 878.8,679.1 862.0,658.5 940.4,632.7 922.3,639.5 920.9,512.5 998.9,617.1 929.7,592.0 935.6,614.4 868.3,658.7 958.2,637.8 966.3,670.3 893.9,551.7 945.7,622.5 870.4,634.5 850.5,682.0 895.3,572.7 809.6,692.2 908.2,488.4 916.0,545.2 896.8,566.3 872.3,651.2 950.6,648.9 888.9,610.9 941.3,623.1 908.4,638.4 784.3,714.2 964.1,736.2 934.5,612.4 644.2,561.8 729.3,551.5 1009.4,484.5 909.5,632.5 851.7,664.5 914.2,689.4 687.7,666.8 833.0,655.4 932.8,551.8 960.1,584.5 688.9,572.9 970.7,686.2 809.6,488.8 902.9,611.9 877.6,655.0 917.1,649.4 961.7,644.9 690.2,574.2 927.8,691.4 920.4,675.7 954.2,615.5 877.9,623.8 945.1,541.9 918.7,615.2 860.8,527.5 869.4,604.9 965.1,663.8 863.3,660.8 857.3,624.1 688.1,630.3 811.0,597.4 853.2,569.4 944.9,645.4 866.1,604.1 918.8,505.0 727.9,595.1 918.1,630.4 927.2,644.7 923.9,669.3 623.6,667.3 789.0,626.6 884.3,640.9 931.2,540.8 921.1,604.5 731.9,472.1 960.1,595.9 933.6,593.4 967.1,625.3 903.6,655.8 897.0,688.3 878.3,629.7 921.2,692.0 917.4,694.7 784.5,563.0 847.2,672.8 903.9,687.2 823.5,677.2 817.8,664.4 934.1,608.9 824.2,501.9 767.2,591.2 923.7,634.0 950.3,624.9 885.0,693.3 884.0,688.5 831.2,688.3 884.1,697.4 665.3,566.7 962.0,627.5 971.9,601.7 908.7,539.8 916.3,511.3 934.6,706.8 915.6,579.0 823.5,560.9 973.4,651.8 909.9,685.0 755.0,725.1 786.4,541.0 971.5,639.1 1016.0,616.3 906.4,685.6 935.3,603.0 892.5,619.3 892.9,631.5 653.5,771.4 913.4,612.2 954.2,682.0 988.4,643.9 920.8,542.8 840.1,636.8 868.2,661.3 880.6,681.1 840.9,621.4 653.1,572.4 889.2,575.2 935.0,647.5 869.6,655.2 889.8,481.2 968.6,577.1 778.5,573.0 941.5,643.5 942.7,636.7 836.6,658.2 796.2,540.6 914.5,555.7 959.0,630.1 905.7,672.9 938.8,571.0 979.6,606.2 859.9,572.5 909.5,672.0 922.9,477.3 894.1,688.1 914.5,557.9 994.0,687.0 952.4,694.5 912.2,681.5 956.3,581.3 844.4,672.9 930.2,499.1 951.0,605.4 662.8,651.3 1003.4,633.3 974.5,619.0 917.0,552.1 717.0,672.4 808.1,707.0 726.2,661.6 946.5,665.6 896.9,720.3 786.1,659.3 938.5,659.4 969.2,714.0 859.7,671.1 620.3,537.0 1002.4,581.5 782.1,678.8 922.9,660.5 680.0,592.1 829.9,625.1 893.3,672.1 772.5,551.0 849.7,584.8 830.0,519.2 835.9,686.4 897.2,579.3 951.4,514.3 889.2,565.8 927.5,678.2 889.4,675.6 898.4,577.4 891.2,557.0 921.0,467.3 903.4,595.6 820.3,597.4 846.6,624.4 968.1,695.2 921.2,648.1 996.2,608.6 878.9,556.8 887.7,706.5 926.9,633.3 891.6,584.7 819.2,670.2 957.7,665.6 847.3,690.3 804.0,569.4 921.8,673.8 926.9,629.5 984.4,610.8 915.3,674.8 966.0,731.6 881.3,480.5 886.0,598.5 813.9,680.2 976.9,697.4 884.2,667.7 902.9,583.1 847.4,633.3 753.0,711.0 922.8,633.8 990.0,609.3 870.3,650.7 900.6,471.4 965.3,610.5 943.1,673.8 731.3,666.7 976.0,685.3 937.8,586.5 877.7,662.6 873.7,501.4 908.5,665.1 886.1,711.0 762.2,499.1 694.2,626.5 847.1,618.3 867.0,576.8 949.2,616.2 875.2,678.2 912.8,679.7 957.5,646.8 917.5,640.8 892.1,700.1 945.7,546.4 896.5,637.2 919.6,677.1 917.8,618.3 950.2,650.4 802.1,554.6 929.3,586.8 864.2,491.9 901.4,571.6 930.3,622.1 892.4,638.9 906.5,599.4 885.0,494.0 936.2,696.4 806.0,644.9 955.4,476.7 912.3,580.6 805.8,535.3 866.9,678.8 878.3,711.9 893.2,478.8 653.0,496.8 887.8,675.4 976.7,708.3 888.5,592.6 846.6,506.0 869.7,623.6 716.7,690.9 919.4,613.7 842.2,554.2 890.4,627.1 959.2,506.1 883.6,649.2 913.2,714.3 1007.0,611.2 935.1,634.9 943.5,600.8 791.3,567.6 935.0,640.9 900.2,688.3 949.6,645.8 969.3,638.0 884.7,683.4 843.3,577.9 930.6,669.8 851.3,669.9 813.7,697.3 616.2,725.0 978.3,637.3 959.9,614.6 944.6,633.5 911.6,508.8 908.6,585.4 954.1,565.5 927.8,642.1 938.4,564.4 891.1,593.0 928.4,608.9 937.4,631.9 939.4,650.9 891.5,673.9 967.1,599.3 919.5,698.1 899.5,611.9 876.4,500.6 897.1,674.8 969.5,634.2 951.7,593.0 926.5,683.2 949.9,529.8 923.2,574.9 925.8,619.9 930.4,587.2 634.4,566.1 976.8,588.9 896.9,691.2 905.9,486.0 966.2,613.9 900.3,726.9 956.5,666.3 802.1,634.4 835.2,635.9 941.7,547.7 841.2,572.6 905.8,712.2 886.9,546.0 915.2,465.7 848.9,625.4 767.8,485.9 874.5,521.6 915.6,609.8 672.4,497.6 922.6,683.3 676.2,666.9 675.5,594.3 689.3,602.7 873.3,620.2 939.9,611.9 920.6,631.9 880.1,711.6 953.0,526.8 937.0,682.3 947.5,641.3 956.3,594.6 839.5,569.8 858.7,574.5 649.6,577.9 906.7,570.1 925.4,652.2 824.5,600.5 932.8,629.5 936.6,653.9 980.9,647.8 950.6,623.4 933.3,597.5 886.6,652.7 684.7,572.0 922.8,553.2 885.3,627.4 911.7,536.6 879.9,658.1 860.7,537.7 949.1,641.6 924.1,634.1 924.3,638.3 837.5,520.0 682.7,589.1 977.7,638.3 645.1,574.1 953.1,624.7 849.4,700.4 883.9,523.1 981.2,710.1 930.2,683.1 840.3,645.5 805.6,508.8 835.1,663.7 900.9,598.1 904.3,615.6 948.8,608.1 948.3,578.6 950.0,641.3 801.4,577.6 948.5,612.5 949.7,637.5 894.2,659.8 850.1,496.0 879.0,652.2 855.4,608.6 707.6,624.0 962.5,697.3 902.8,624.7 967.3,667.3 898.4,639.4 945.1,632.0 656.0,526.5 991.6,678.6 915.6,586.6 935.2,644.9 902.7,652.7 925.4,560.0 951.7,617.4 955.0,659.5 897.5,650.8 967.8,588.3 934.3,633.1 935.0,631.4 968.5,717.5 989.3,464.4 940.5,646.1 904.0,562.4 967.8,666.9 917.3,583.6 864.4,612.0 929.2,579.1 1079.0,615.0 944.8,669.7 945.9,550.0 728.7,668.5 905.6,547.6 841.1,491.0 986.3,560.8 912.6,642.2 917.0,664.3 955.5,650.7 983.3,637.5 891.4,628.3 887.2,616.6 816.8,612.3 893.7,569.5 885.2,646.8 799.4,632.1 944.0,623.5 890.3,699.1 826.8,715.2 966.3,535.6 950.5,629.9 869.5,691.5 863.3,668.2 827.4,664.3 953.9,606.9 900.9,617.0 927.7,689.5 908.7,636.1 931.0,643.7 928.5,613.4 956.4,579.6 916.1,518.2 788.2,486.9 1000.7,633.7 777.9,554.3 898.9,629.5 738.2,700.4 974.4,514.4 933.5,609.7 932.5,645.6 939.1,576.1 722.3,570.5 942.9,642.7 813.9,682.9 933.4,620.4 751.1,597.4 984.3,611.0 898.5,676.3 875.7,502.2 839.5,643.2 852.7,608.4 943.0,684.8 866.6,625.8 833.0,715.8 851.1,676.0 867.8,598.6 932.8,641.5 936.9,603.5 913.0,597.6 799.2,615.0 893.6,684.1 847.0,592.2 927.0,659.9 989.9,646.9 923.2,507.5 864.2,589.0 975.2,513.8 887.9,706.7 766.7,640.5 869.4,669.8 958.4,690.2 919.3,599.1 880.7,492.7 995.1,623.5 667.7,562.0 908.4,627.1 983.4,516.9 707.5,628.6 959.9,679.7 755.6,637.7 909.9,574.3 767.0,691.3 853.3,545.3 857.6,551.0 949.3,535.5 943.8,589.5 937.5,660.9 910.5,622.4 1050.5,581.1 882.7,651.0 846.3,652.8 840.7,466.1 926.6,656.8 876.7,627.8 904.7,695.7 881.5,698.7 731.3,564.7 907.8,643.6 815.3,631.9 882.0,723.5 829.4,513.9 957.7,626.9 814.7,718.8 849.8,623.4 936.7,598.5 654.7,549.3 883.9,677.9 948.5,543.0 913.5,640.9 889.0,693.6 911.8,716.5 688.2,639.2 818.4,692.9 875.5,641.0 866.6,534.5 738.1,579.1 861.0,583.3 907.8,558.2 993.3,618.6 790.2,644.7 857.3,570.3 835.6,720.6 920.6,525.6 964.9,625.2 864.9,620.6 969.1,499.2 829.7,528.7 715.2,487.0 816.8,676.9 874.3,671.0 918.0,645.0 943.5,661.9 899.7,668.1 826.4,621.6 888.8,611.1 976.3,681.3 950.0,546.7 800.5,559.3 888.6,594.8 670.5,576.3 858.1,465.8 917.5,583.1 934.0,616.3 856.4,669.0 864.3,603.6 934.8,701.5 854.7,636.5 816.4,488.1 754.1,619.9 841.1,630.9 848.0,606.9 962.3,716.7 920.9,706.0 895.1,573.4 821.8,659.1 839.8,560.7 869.4,606.9 788.8,563.2 935.9,565.2 782.0,628.6 886.0,623.4 964.7,723.0 951.4,660.6 959.0,671.4 903.5,514.7 928.3,619.9 926.3,593.4 842.7,630.4 795.1,515.8 957.6,616.8 926.4,471.6 840.9,675.3 803.8,536.3 948.4,715.8 922.3,609.6 950.7,627.6 944.9,627.2 649.8,554.2 889.3,695.4 914.9,584.6" fill="none" stroke="none" marker-start="url(#m3)" marker-mid="url(#m3)" marker-end="url(#m3)"/>
<line x1="609.60" y1="595.18" x2="1080.20" y2="618.59" stroke="#0a0a14" stroke-width="2.5" stroke-dasharray="10.1 4.5"/></g>
<rect x="609.60" y="467.50" width="470.60" height="304.00" fill="none" stroke="#444444" stroke-width="1"/>
<path d="M609.60 771.50v3.5M703.72 771.50v3.5M797.84 771.50v3.5M891.96 771.50v3.5M986.08 771.50v3.5M1080.20 771.50v3.5M609.60 771.50h-3.5M609.60 710.70h-3.5M609.60 649.90h-3.5M609.60 589.10h-3.5M609.60 528.30h-3.5M609.60 467.50h-3.5" stroke="#444444" stroke-width=".9" fill="none"/>
<g font-size="10.20" fill="#2c2c2c">
<text x="609.60" y="786.20" text-anchor="middle">0</text>
<text x="703.72" y="786.20" text-anchor="middle">20</text>
<text x="797.84" y="786.20" text-anchor="middle">40</text>
<text x="891.96" y="786.20" text-anchor="middle">60</text>
<text x="986.08" y="786.20" text-anchor="middle">80</text>
<text x="1080.20" y="786.20" text-anchor="middle">100</text>
<text x="603.00" y="775.60" text-anchor="end">0</text>
<text x="603.00" y="714.80" text-anchor="end">2</text>
<text x="603.00" y="654.00" text-anchor="end">4</text>
<text x="603.00" y="593.20" text-anchor="end">6</text>
<text x="603.00" y="532.40" text-anchor="end">8</text>
<text x="603.00" y="471.60" text-anchor="end">10</text>
</g>
<text class="b" x="844.90" y="800.90" font-size="11.85" fill="#0c0c22" text-anchor="middle">AI Adoption Rate</text>
<text class="b" transform="translate(584.60 619.50) rotate(-90)" font-size="11.85" fill="#0c0c22" text-anchor="middle">PRs per Engineer</text>
<text class="b" x="844.90" y="462.10" font-size="12.88" fill="#0c0c22" text-anchor="middle">HIGHLY DISTRIBUTED (3.71+ repos/eng)</text>
<rect x="629.30" y="479.10" width="164.60" height="17.90" rx="3" ry="3" fill="#fff" stroke="#1a1a2e" stroke-width="1.4"/>
<text class="b" x="711.60" y="491.45" font-size="11.00" fill="#0c0c22" text-anchor="middle">Average PRs per eng: 5.3</text>
<rect x="929.20" y="729.90" width="131.10" height="29.90" rx="3" ry="3" fill="#fff" stroke="#1a1a2e" stroke-width="1.4"/>
<text class="b" x="994.75" y="742.30" font-size="11.00" fill="#0c0c22" text-anchor="middle">AI Productivity Gain</text>
<text class="b" x="994.75" y="754.30" font-size="11.00" fill="#0c0c22" text-anchor="middle">5.8 → 5.0 (0.9x)</text>
</g>
</svg></body></html>
